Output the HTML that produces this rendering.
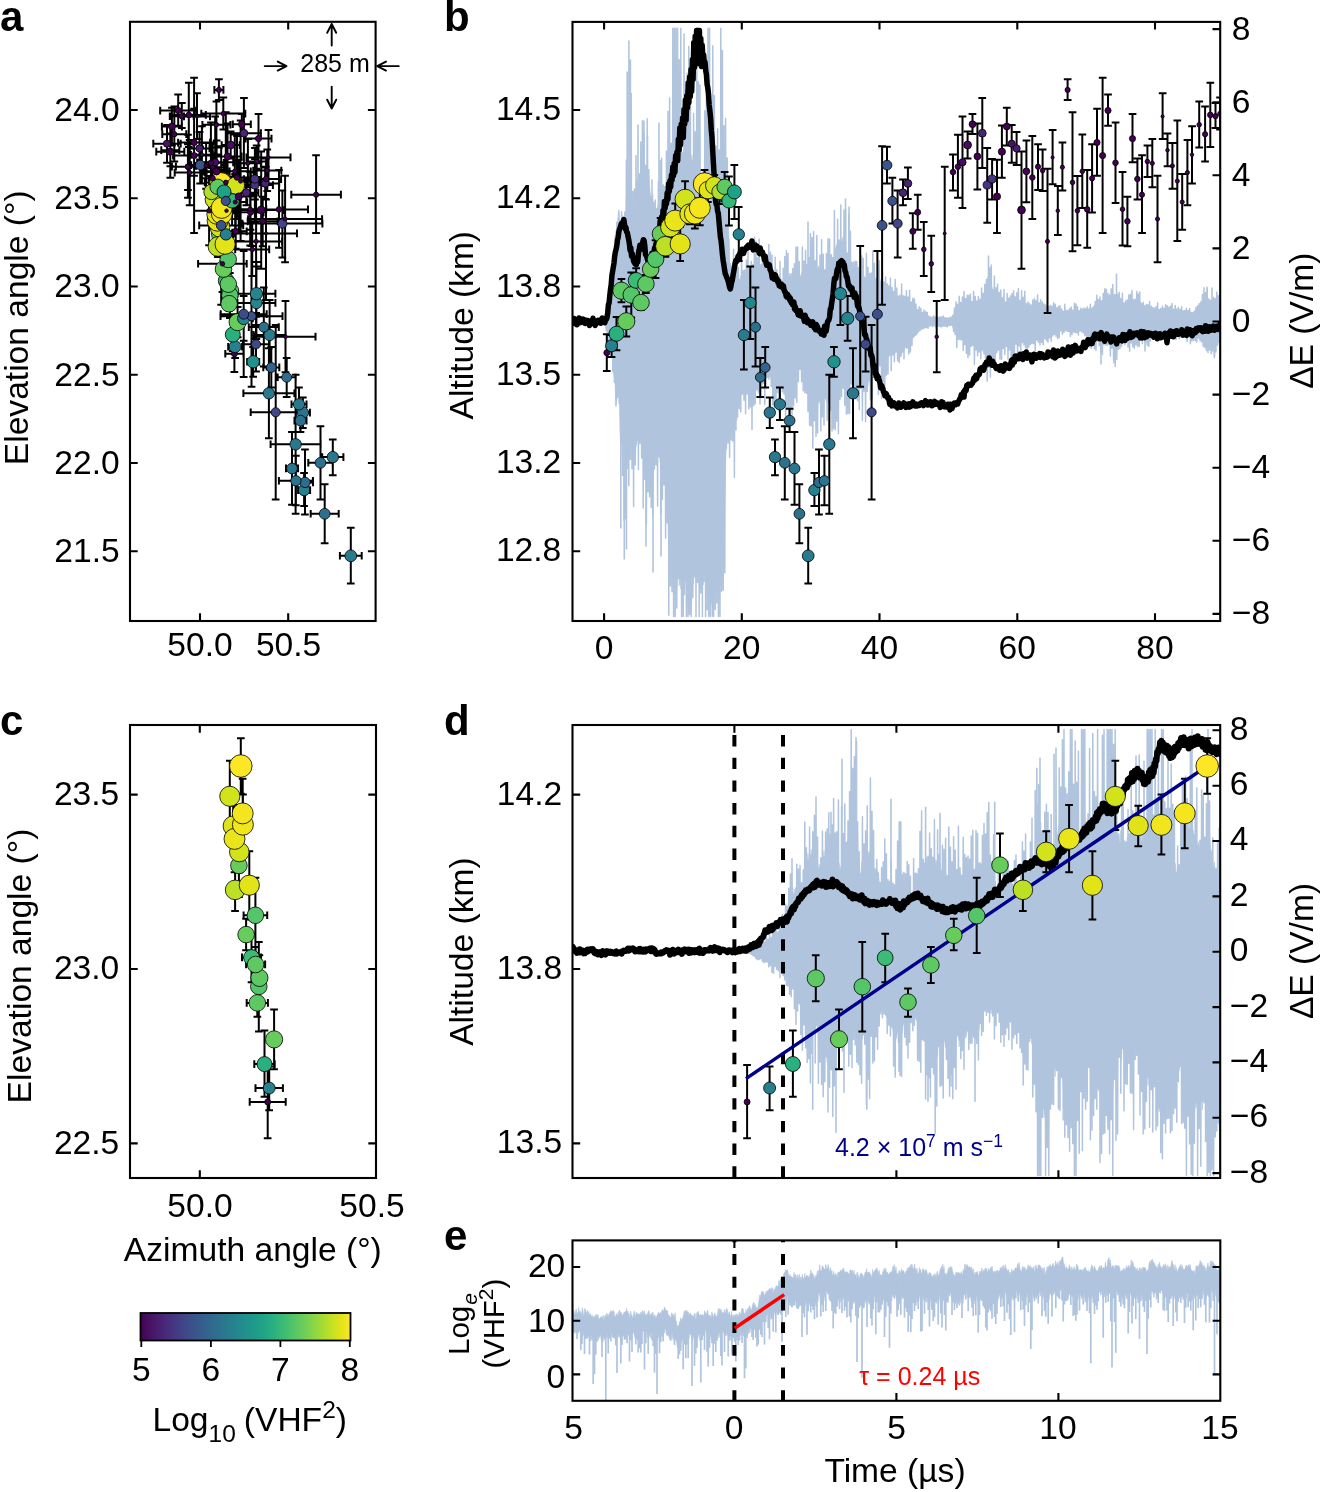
<!DOCTYPE html>
<html lang="en"><head><meta charset="utf-8"><title>Figure</title>
<style>
html,body{margin:0;padding:0;background:#fff}
svg{display:block}
svg text{font-family:"Liberation Sans", Arial, Helvetica, sans-serif}
circle{stroke:#000;stroke-width:0.8}
</style></head><body>
<svg width="1320" height="1492" viewBox="0 0 1320 1492">
<rect width="1320" height="1492" fill="#fff"/>
<g id="pa">
<clipPath id="ca"><rect x="130.0" y="21.8" width="245.60000000000002" height="599.2"/></clipPath>
<g clip-path="url(#ca)">
<path d="M225.3 353.7H243.5M225.3 349.9v7.7M243.5 349.9v7.7M234.4 335.1V372.1M230.5 335.1h7.7M230.5 372.1h7.7M228.2 346.7H242.1M228.2 342.9v7.7M242.1 342.9v7.7M235.1 335.9V357.9M231.3 335.9h7.7M231.3 357.9h7.7M227.6 334.6H237.9M227.6 330.7v7.7M237.9 330.7v7.7M232.8 317.7V351.1M228.9 317.7h7.7M228.9 351.1h7.7M227.1 291H233.2M227.1 287.2v7.7M233.2 287.2v7.7M230.2 279.5V302.9M226.3 279.5h7.7M226.3 302.9h7.7M234.6 322.1H240.6M234.6 318.3v7.7M240.6 318.3v7.7M237.6 307V337.2M233.8 307h7.7M233.8 337.2h7.7M226.8 295.3H232.9M226.8 291.5v7.7M232.9 291.5v7.7M229.9 272.9V318.1M226 272.9h7.7M226 318.1h7.7M221.4 280.7H231M221.4 276.9v7.7M231 276.9v7.7M226.2 268.7V293.2M222.3 268.7h7.7M222.3 293.2h7.7M223.8 303.7H234.5M223.8 299.8v7.7M234.5 299.8v7.7M229.1 296.4V310.6M225.3 296.4h7.7M225.3 310.6h7.7M223.5 284.2H233.1M223.5 280.4v7.7M233.1 280.4v7.7M228.3 275.3V293.5M224.4 275.3h7.7M224.4 293.5h7.7M220.4 269.1H226.5M220.4 265.3v7.7M226.5 265.3v7.7M223.5 261.1V277.1M219.6 261.1h7.7M219.6 277.1h7.7M222.2 259.4H234.1M222.2 255.5v7.7M234.1 255.5v7.7M228.2 240.4V278.4M224.3 240.4h7.7M224.3 278.4h7.7M216.8 234.2H222.9M216.8 230.3v7.7M222.9 230.3v7.7M219.8 218V250.1M216 218h7.7M216 250.1h7.7M214.9 246.5H220.9M214.9 242.7v7.7M220.9 242.7v7.7M217.9 235.9V257.1M214 235.9h7.7M214 257.1h7.7M217 227.4H223.1M217 223.5v7.7M223.1 223.5v7.7M220 216.9V237.6M216.2 216.9h7.7M216.2 237.6h7.7M214.6 220.7H220.6M214.6 216.9v7.7M220.6 216.9v7.7M217.6 203.6V237.6M213.7 203.6h7.7M213.7 237.6h7.7M222 244.2H228.1M222 240.3v7.7M228.1 240.3v7.7M225.1 227V261.5M221.2 227h7.7M221.2 261.5h7.7M212.2 199.2H218.3M212.2 195.4v7.7M218.3 195.4v7.7M215.2 181.2V216.2M211.4 181.2h7.7M211.4 216.2h7.7M213.9 214.2H220M213.9 210.4v7.7M220 210.4v7.7M216.9 204V224.5M213.1 204h7.7M213.1 224.5h7.7M218.8 213.6H224.9M218.8 209.7v7.7M224.9 209.7v7.7M221.8 198.3V228.6M218 198.3h7.7M218 228.6h7.7M218.7 207.9H224.8M218.7 204v7.7M224.8 204v7.7M221.7 190.3V225.4M217.9 190.3h7.7M217.9 225.4h7.7M217.7 183.9H223.8M217.7 180v7.7M223.8 180v7.7M220.8 169.8V197.9M216.9 169.8h7.7M216.9 197.9h7.7M223 190.1H235M223 186.2v7.7M235 186.2v7.7M229 178V202M225.2 178h7.7M225.2 202h7.7M229.8 185.5H241.8M229.8 181.7v7.7M241.8 181.7v7.7M235.8 175V196M232 175h7.7M232 196h7.7M205.5 191.9H217.5M205.5 188.1v7.7M217.5 188.1v7.7M211.5 180V204M207.7 180h7.7M207.7 204h7.7M211.6 186.8H223.6M211.6 183v7.7M223.6 183v7.7M217.6 172V201M213.8 172h7.7M213.8 201h7.7M226.1 200.9H238.1M226.1 197.1v7.7M238.1 197.1v7.7M232.1 176.5V225.4M228.2 176.5h7.7M228.2 225.4h7.7M218 191.9H230M218 188.1v7.7M230 188.1v7.7M224 164.9V219M220.2 164.9h7.7M220.2 219h7.7M219 234.4H233M219 230.6v7.7M233 230.6v7.7M226 207V261M222.2 207h7.7M222.2 261h7.7M253.6 335H285.6M253.6 331.1v7.7M285.6 331.1v7.7M269.6 300V369.5M265.8 300h7.7M265.8 369.5h7.7M237.4 302.9H275.4M237.4 299v7.7M275.4 299v7.7M256.4 266.6V339M252.5 266.6h7.7M252.5 339h7.7M248.8 327.1H278.8M248.8 323.2v7.7M278.8 323.2v7.7M263.8 287.5V366.5M259.9 287.5h7.7M259.9 366.5h7.7M277.7 377.3H295.7M277.7 373.4v7.7M295.7 373.4v7.7M286.7 358V397.1M282.8 358h7.7M282.8 397.1h7.7M263.3 367.5H279.3M263.3 363.6v7.7M279.3 363.6v7.7M271.3 347.1V387.6M267.4 347.1h7.7M267.4 387.6h7.7M295.9 412.6H309.9M295.9 408.8v7.7M309.9 408.8v7.7M302.9 397.4V428M299 397.4h7.7M299 428h7.7M322.2 457.1H343.4M322.2 453.2v7.7M343.4 453.2v7.7M332.8 439.6V475.2M328.9 439.6h7.7M328.9 475.2h7.7M291.5 404.3H306.5M291.5 400.4v7.7M306.5 400.4v7.7M299 387.6V420M295.1 387.6h7.7M295.1 420h7.7M308.3 462.8H332.7M308.3 458.9v7.7M332.7 458.9v7.7M320.5 426.2V499.6M316.6 426.2h7.7M316.6 499.6h7.7M294.5 420.6H306.5M294.5 416.8v7.7M306.5 416.8v7.7M300.5 408.7V431.9M296.6 408.7h7.7M296.6 431.9h7.7M286 468.5H298M286 464.6v7.7M298 464.6v7.7M292 432.1V504.8M288.1 432.1h7.7M288.1 504.8h7.7M310.7 513.8H338.7M310.7 509.9v7.7M338.7 509.9v7.7M324.7 484.2V543.2M320.8 484.2h7.7M320.8 543.2h7.7M339.9 555.8H361.7M339.9 551.9v7.7M361.7 551.9v7.7M350.8 527.7V583.6M346.9 527.7h7.7M346.9 583.6h7.7M298.1 490.1H310.1M298.1 486.2v7.7M310.1 486.2v7.7M304.1 473.1V506.1M300.2 473.1h7.7M300.2 506.1h7.7M297 482.4H313M297 478.5v7.7M313 478.5v7.7M305 449.4V514.6M301.1 449.4h7.7M301.1 514.6h7.7M278.9 480.8H312.9M278.9 476.9v7.7M312.9 476.9v7.7M295.9 455.8V505.3M292 455.8h7.7M292 505.3h7.7M270.6 444.3H320.6M270.6 440.4v7.7M320.6 440.4v7.7M295.6 374.7V513.8M291.8 374.7h7.7M291.8 513.8h7.7M247.2 361.8H259.2M247.2 357.9v7.7M259.2 357.9v7.7M253.2 346.9V376.8M249.3 346.9h7.7M249.3 376.8h7.7M237.4 293.7H275.4M237.4 289.8v7.7M275.4 289.8v7.7M256.4 262V325M252.5 262h7.7M252.5 325h7.7M234.7 318.4H252.7M234.7 314.5v7.7M252.7 314.5v7.7M243.7 296V340.7M239.8 296h7.7M239.8 340.7h7.7M243.4 393.3H294.4M243.4 389.4v7.7M294.4 389.4v7.7M268.9 348.2V438.3M265 348.2h7.7M265 438.3h7.7M220.5 316.2H282.5M220.5 312.3v7.7M282.5 312.3v7.7M251.5 246V386.8M247.7 246h7.7M247.7 386.8h7.7M243 344.3H269M243 340.4v7.7M269 340.4v7.7M256 316.7V371.6M252.2 316.7h7.7M252.2 371.6h7.7M250.7 412.3H300.7M250.7 408.4v7.7M300.7 408.4v7.7M275.7 325V499.6M271.8 325h7.7M271.8 499.6h7.7M220.7 314.2H266.7M220.7 310.3v7.7M266.7 310.3v7.7M243.7 251V377M239.8 251h7.7M239.8 377h7.7M199.2 225.4H243.2M199.2 221.6v7.7M243.2 221.6v7.7M221.2 146.3V304.7M217.3 146.3h7.7M217.3 304.7h7.7M191.2 165.1H209.2M191.2 161.2v7.7M209.2 161.2v7.7M200.2 146.8V183.4M196.3 146.8h7.7M196.3 183.4h7.7M215.8 200.9H235.8M215.8 197.1v7.7M235.8 197.1v7.7M225.8 177.7V223.6M222 177.7h7.7M222 223.6h7.7M242.4 223.6H322.4M242.4 219.8v7.7M322.4 219.8v7.7M282.4 190.6V257.6M278.5 190.6h7.7M278.5 257.6h7.7M234.3 192.7H258.3M234.3 188.8v7.7M258.3 188.8v7.7M246.3 179.5V205.3M242.5 179.5h7.7M242.5 205.3h7.7M251.2 183.4H279.2M251.2 179.6v7.7M279.2 179.6v7.7M265.2 167.4V198.9M261.3 167.4h7.7M261.3 198.9h7.7M224.7 231.3H246.7M224.7 227.5v7.7M246.7 227.5v7.7M235.7 213.3V248.8M231.8 213.3h7.7M231.8 248.8h7.7M237.5 212.3H263.5M237.5 208.5v7.7M263.5 208.5v7.7M250.5 194.7V229.8M246.7 194.7h7.7M246.7 229.8h7.7M235.2 249.4H269.2M235.2 245.6v7.7M269.2 245.6v7.7M252.2 222V276.1M248.3 222h7.7M248.3 276.1h7.7M198.1 263.8H246.7M198.1 259.9v7.7M246.7 259.9v7.7M222.4 235.7V291.9M218.6 235.7h7.7M218.6 291.9h7.7M255.5 336.7H315.5M255.5 332.8v7.7M315.5 332.8v7.7M285.5 300.9V372.3M281.6 300.9h7.7M281.6 372.3h7.7M235 233.4H297M235 229.6v7.7M297 229.6v7.7M266 166.7V300.1M262.1 166.7h7.7M262.1 300.1h7.7M206.6 172.1H226.6M206.6 168.2v7.7M226.6 168.2v7.7M216.6 154.6V190.6M212.8 154.6h7.7M212.8 190.6h7.7M171.9 166.7H203.9M171.9 162.8v7.7M203.9 162.8v7.7M187.9 134.7V197.8M184.1 134.7h7.7M184.1 197.8h7.7M197.2 162.3H233.2M197.2 158.5v7.7M233.2 158.5v7.7M215.2 116.4V207.9M211.3 116.4h7.7M211.3 207.9h7.7M221.7 145H239.7M221.7 141.2v7.7M239.7 141.2v7.7M230.7 131.4V158.4M226.8 131.4h7.7M226.8 158.4h7.7M232.8 124.2H250.8M232.8 120.4v7.7M250.8 120.4v7.7M241.8 114.1V134M238 114.1h7.7M238 134h7.7M213.5 156.4H241.5M213.5 152.6v7.7M241.5 152.6v7.7M227.5 123.6V189.6M223.7 123.6h7.7M223.7 189.6h7.7M226.9 133.2H260.9M226.9 129.3v7.7M260.9 129.3v7.7M243.9 97.9V168M240.1 97.9h7.7M240.1 168h7.7M236.9 185H272.9M236.9 181.2v7.7M272.9 181.2v7.7M254.9 148.1V222.8M251.1 148.1h7.7M251.1 222.8h7.7M243.9 179H265.9M243.9 175.2v7.7M265.9 175.2v7.7M254.9 158.9V199.6M251.1 158.9h7.7M251.1 199.6h7.7M221.8 196.5H255.8M221.8 192.7v7.7M255.8 192.7v7.7M238.8 159.7V233.1M235 159.7h7.7M235 233.1h7.7M156.3 151.7H184.3M156.3 147.8v7.7M184.3 147.8v7.7M170.3 125.5V177.7M166.5 125.5h7.7M166.5 177.7h7.7M161.9 126.5H181.9M161.9 122.7v7.7M181.9 122.7v7.7M171.9 107.7V145.5M168.1 107.7h7.7M168.1 145.5h7.7M153.3 143.7H180.7M153.3 139.8v7.7M180.7 139.8v7.7M167 124.9V162.8M163.2 124.9h7.7M163.2 162.8h7.7M189.5 148.4H209.5M189.5 144.6v7.7M209.5 144.6v7.7M199.5 131.9V164.9M195.7 131.9h7.7M195.7 164.9h7.7M239.2 210H283.2M239.2 206.2v7.7M283.2 206.2v7.7M261.2 151.5V268.7M257.3 151.5h7.7M257.3 268.7h7.7M203.6 171.3H229.6M203.6 167.5v7.7M229.6 167.5v7.7M216.6 140.4V202.2M212.8 140.4h7.7M212.8 202.2h7.7M220 177.5H254M220 173.7v7.7M254 173.7v7.7M237 136V219M233.2 136h7.7M233.2 219h7.7M175.9 166.7H199.9M175.9 162.8v7.7M199.9 162.8v7.7M187.9 144.3V189.9M184.1 144.3h7.7M184.1 189.9h7.7M253.3 170.5H281.3M253.3 166.7v7.7M281.3 166.7v7.7M267.3 149.4V191.1M263.4 149.4h7.7M263.4 191.1h7.7M230.1 241.4H282.1M230.1 237.6v7.7M282.1 237.6v7.7M256.1 168.7V313M252.3 168.7h7.7M252.3 313h7.7M246.5 157.4H290.5M246.5 153.6v7.7M290.5 153.6v7.7M268.5 130V184.2M264.6 130h7.7M264.6 184.2h7.7M212.5 210.7H240.5M212.5 206.8v7.7M240.5 206.8v7.7M226.5 186V235M222.7 186h7.7M222.7 235h7.7M200.7 167.2H224.7M200.7 163.3v7.7M224.7 163.3v7.7M212.7 142.5V190.6M208.8 142.5h7.7M208.8 190.6h7.7M214.4 89.9H223.4M214.4 86.1v7.7M223.4 86.1v7.7M218.9 79.3V100M215.1 79.3h7.7M215.1 100h7.7M204.8 182.4H246.8M204.8 178.6v7.7M246.8 178.6v7.7M225.8 112.3V251.2M222 112.3h7.7M222 251.2h7.7M194.1 210.7H224.1M194.1 206.8v7.7M224.1 206.8v7.7M209.1 176V245.2M205.2 176h7.7M205.2 245.2h7.7M218.8 171.3H250.8M218.8 167.5v7.7M250.8 167.5v7.7M234.8 134.5V208.1M231 134.5h7.7M231 208.1h7.7M250 209.4H308M250 205.6v7.7M308 205.6v7.7M279 170V247.8M275.1 170h7.7M275.1 247.8h7.7M200.7 178.3H224.7M200.7 174.5v7.7M224.7 174.5v7.7M212.7 144.3V212.5M208.8 144.3h7.7M208.8 212.5h7.7M178.1 142.5H210.1M178.1 138.7v7.7M210.1 138.7v7.7M194.1 108.7V175.7M190.2 108.7h7.7M190.2 175.7h7.7M173.1 155.6H215.1M173.1 151.8v7.7M215.1 151.8v7.7M194.1 77.8V232.9M190.2 77.8h7.7M190.2 232.9h7.7M160.2 110.5H196.2M160.2 106.7v7.7M196.2 106.7v7.7M178.2 94.5V125.7M174.3 94.5h7.7M174.3 125.7h7.7M197.9 162.8H223.9M197.9 159v7.7M223.9 159v7.7M210.9 122.4V203M207.1 122.4h7.7M207.1 203h7.7M234.2 209.2H266.2M234.2 205.3v7.7M266.2 205.3v7.7M250.2 172V245.5M246.3 172h7.7M246.3 245.5h7.7M247.7 221.3H277.7M247.7 217.5v7.7M277.7 217.5v7.7M262.7 196.8V246.3M258.8 196.8h7.7M258.8 246.3h7.7M245.5 138.6H271.5M245.5 134.8v7.7M271.5 134.8v7.7M258.5 113.9V162.3M254.7 113.9h7.7M254.7 162.3h7.7M251.1 179H281.1M251.1 175.2v7.7M281.1 175.2v7.7M266.1 158.4V199.6M262.2 158.4h7.7M262.2 199.6h7.7M291.3 194.7H340.9M291.3 190.8v7.7M340.9 190.8v7.7M316.1 155.3V233.1M312.2 155.3h7.7M312.2 233.1h7.7M246.7 161.5H266.7M246.7 157.7v7.7M266.7 157.7v7.7M256.7 145.5V177M252.8 145.5h7.7M252.8 177h7.7M234.9 163.3H260.9M234.9 159.5v7.7M260.9 159.5v7.7M247.9 139.1V187.3M244.1 139.1h7.7M244.1 187.3h7.7M248.1 219H322.1M248.1 215.2v7.7M322.1 215.2v7.7M285.1 175.7V262.2M281.2 175.7h7.7M281.2 262.2h7.7M184 116.4H210M184 112.6v7.7M210 112.6v7.7M197 93.3V139.1M193.2 93.3h7.7M193.2 139.1h7.7M161.3 150.2H179.3M161.3 146.3v7.7M179.3 146.3v7.7M170.3 133.4V166.2M166.5 133.4h7.7M166.5 166.2h7.7M196.1 165.9H216.1M196.1 162.1v7.7M216.1 162.1v7.7M206.1 143V188.8M202.2 143h7.7M202.2 188.8h7.7M221.6 181.1H259.6M221.6 177.2v7.7M259.6 177.2v7.7M240.6 120.6V240.9M236.8 120.6h7.7M236.8 240.9h7.7M223.2 202H247.2M223.2 198.2v7.7M247.2 198.2v7.7M235.2 173.9V229.8M231.3 173.9h7.7M231.3 229.8h7.7M174.7 172.6H204.7M174.7 168.8v7.7M204.7 168.8v7.7M189.7 139.9V205.3M185.8 139.9h7.7M185.8 205.3h7.7M190.9 154.8H212.9M190.9 151v7.7M212.9 151v7.7M201.9 126.2V183.4M198.1 126.2h7.7M198.1 183.4h7.7M202.4 124.7H230.4M202.4 120.9v7.7M230.4 120.9v7.7M216.4 101.5V147.6M212.6 101.5h7.7M212.6 147.6h7.7M162.3 134.2H186.3M162.3 130.3v7.7M186.3 130.3v7.7M174.3 106.4V161.5M170.5 106.4h7.7M170.5 161.5h7.7M171.8 114.9H205.8M171.8 111.1v7.7M205.8 111.1v7.7M188.8 82.7V147.1M185 82.7h7.7M185 147.1h7.7M169.8 116.2H193.8M169.8 112.4v7.7M193.8 112.4v7.7M181.8 103V128M178 103h7.7M178 128h7.7M201.3 113.6H245.3M201.3 109.8v7.7M245.3 109.8v7.7M223.3 97.4V129.6M219.5 97.4h7.7M219.5 129.6h7.7" stroke="#000" stroke-width="2.0" fill="none"/>
<circle cx="234.4" cy="353.7" r="3" fill="#440154"/>
<circle cx="235.1" cy="346.7" r="6" fill="#27808e"/>
<circle cx="232.8" cy="334.6" r="7.5" fill="#2ab07f"/>
<circle cx="230.2" cy="291" r="8.6" fill="#5ec962"/>
<circle cx="237.6" cy="322.1" r="8.6" fill="#67cc5c"/>
<circle cx="229.9" cy="295.3" r="8.3" fill="#54c568"/>
<circle cx="226.2" cy="280.7" r="7.9" fill="#3bbb75"/>
<circle cx="229.1" cy="303.7" r="8.3" fill="#5ec962"/>
<circle cx="228.3" cy="284.2" r="8.3" fill="#5ec962"/>
<circle cx="223.5" cy="269.1" r="8.3" fill="#67cc5c"/>
<circle cx="228.2" cy="259.4" r="8.3" fill="#54c568"/>
<circle cx="219.8" cy="234.2" r="8.3" fill="#67cc5c"/>
<circle cx="217.9" cy="246.5" r="9.8" fill="#bddf26"/>
<circle cx="220" cy="227.4" r="9.8" fill="#d2e21b"/>
<circle cx="217.6" cy="220.7" r="10.5" fill="#eae51a"/>
<circle cx="225.1" cy="244.2" r="10.1" fill="#e2e418"/>
<circle cx="215.2" cy="199.2" r="10.1" fill="#d2e21b"/>
<circle cx="216.9" cy="214.2" r="10.1" fill="#dfe318"/>
<circle cx="221.8" cy="213.6" r="10.5" fill="#f1e51d"/>
<circle cx="221.7" cy="207.9" r="10.5" fill="#f4e61e"/>
<circle cx="220.8" cy="183.9" r="11.3" fill="#fde725"/>
<circle cx="229" cy="190.1" r="8.8" fill="#dfe318"/>
<circle cx="235.8" cy="185.5" r="8.8" fill="#d2e21b"/>
<circle cx="211.5" cy="191.9" r="7.7" fill="#b2dd2d"/>
<circle cx="217.6" cy="186.8" r="7.7" fill="#5ec962"/>
<circle cx="232.1" cy="200.9" r="7.2" fill="#35b779"/>
<circle cx="224" cy="191.9" r="7" fill="#1fa188"/>
<circle cx="226" cy="234.4" r="5.7" fill="#27808e"/>
<circle cx="269.6" cy="335" r="5.7" fill="#287c8e"/>
<circle cx="256.4" cy="302.9" r="5.8" fill="#25848e"/>
<circle cx="263.8" cy="327.1" r="5" fill="#2d708e"/>
<circle cx="286.7" cy="377.3" r="4.9" fill="#2f6c8e"/>
<circle cx="271.3" cy="367.5" r="4.9" fill="#32648e"/>
<circle cx="302.9" cy="412.6" r="5.7" fill="#2b748e"/>
<circle cx="332.8" cy="457.1" r="5.7" fill="#2a788e"/>
<circle cx="299" cy="404.3" r="5.7" fill="#2a788e"/>
<circle cx="320.5" cy="462.8" r="5.4" fill="#2d708e"/>
<circle cx="300.5" cy="420.6" r="5.4" fill="#2d708e"/>
<circle cx="292" cy="468.5" r="5.4" fill="#2b748e"/>
<circle cx="324.7" cy="513.8" r="5.4" fill="#2d708e"/>
<circle cx="350.8" cy="555.8" r="5.9" fill="#287c8e"/>
<circle cx="304.1" cy="490.1" r="5.7" fill="#27808e"/>
<circle cx="305" cy="482.4" r="5.2" fill="#2f6c8e"/>
<circle cx="295.9" cy="480.8" r="5.2" fill="#2b748e"/>
<circle cx="295.6" cy="444.3" r="5.7" fill="#2a788e"/>
<circle cx="253.2" cy="361.8" r="6.2" fill="#21918c"/>
<circle cx="256.4" cy="293.7" r="6.2" fill="#25848e"/>
<circle cx="243.7" cy="318.4" r="6.2" fill="#25848e"/>
<circle cx="268.9" cy="393.3" r="5.7" fill="#2a788e"/>
<circle cx="251.5" cy="316.2" r="4.6" fill="#3b528b"/>
<circle cx="256" cy="344.3" r="4.6" fill="#3f4889"/>
<circle cx="275.7" cy="412.3" r="4.6" fill="#3f4889"/>
<circle cx="243.7" cy="314.2" r="5" fill="#3d4d8a"/>
<circle cx="221.2" cy="225.4" r="4.9" fill="#3b528b"/>
<circle cx="200.2" cy="165.1" r="4.9" fill="#39568c"/>
<circle cx="225.8" cy="200.9" r="4.6" fill="#3b528b"/>
<circle cx="282.4" cy="223.6" r="4.6" fill="#414487"/>
<circle cx="246.3" cy="192.7" r="3.9" fill="#482475"/>
<circle cx="265.2" cy="183.4" r="3.9" fill="#482475"/>
<circle cx="235.7" cy="231.3" r="3" fill="#440154"/>
<circle cx="250.5" cy="212.3" r="3" fill="#440154"/>
<circle cx="252.2" cy="249.4" r="2.3" fill="#440154"/>
<circle cx="222.4" cy="263.8" r="2.3" fill="#440154"/>
<circle cx="285.5" cy="336.7" r="1.8" fill="#440154"/>
<circle cx="266" cy="233.4" r="1.5" fill="#440154"/>
<circle cx="216.6" cy="172.1" r="2.8" fill="#440154"/>
<circle cx="187.9" cy="166.7" r="2.8" fill="#440154"/>
<circle cx="215.2" cy="162.3" r="3.6" fill="#470d60"/>
<circle cx="230.7" cy="145" r="3.9" fill="#470d60"/>
<circle cx="241.8" cy="124.2" r="3.4" fill="#440154"/>
<circle cx="227.5" cy="156.4" r="3.4" fill="#440154"/>
<circle cx="243.9" cy="133.2" r="3.9" fill="#482475"/>
<circle cx="254.9" cy="185" r="4.1" fill="#463480"/>
<circle cx="254.9" cy="179" r="4.1" fill="#463480"/>
<circle cx="238.8" cy="196.5" r="3.6" fill="#440154"/>
<circle cx="170.3" cy="151.7" r="3.6" fill="#440154"/>
<circle cx="171.9" cy="126.5" r="3.4" fill="#440154"/>
<circle cx="167" cy="143.7" r="3.6" fill="#471365"/>
<circle cx="199.5" cy="148.4" r="3.6" fill="#481f70"/>
<circle cx="261.2" cy="210" r="3.9" fill="#440154"/>
<circle cx="216.6" cy="171.3" r="3.4" fill="#440154"/>
<circle cx="237" cy="177.5" r="2.8" fill="#440154"/>
<circle cx="187.9" cy="166.7" r="2.6" fill="#440154"/>
<circle cx="267.3" cy="170.5" r="2.3" fill="#440154"/>
<circle cx="256.1" cy="241.4" r="2.1" fill="#440154"/>
<circle cx="268.5" cy="157.4" r="1.6" fill="#440154"/>
<circle cx="226.5" cy="210.7" r="1.8" fill="#440154"/>
<circle cx="212.7" cy="167.2" r="2.1" fill="#440154"/>
<circle cx="218.9" cy="89.9" r="2.6" fill="#440154"/>
<circle cx="225.8" cy="182.4" r="2.3" fill="#440154"/>
<circle cx="209.1" cy="210.7" r="2.3" fill="#440154"/>
<circle cx="234.8" cy="171.3" r="2.3" fill="#440154"/>
<circle cx="279" cy="209.4" r="2.8" fill="#440154"/>
<circle cx="212.7" cy="178.3" r="2.6" fill="#440154"/>
<circle cx="194.1" cy="142.5" r="3.1" fill="#440154"/>
<circle cx="194.1" cy="155.6" r="3.1" fill="#440154"/>
<circle cx="178.2" cy="110.5" r="3.1" fill="#440154"/>
<circle cx="210.9" cy="162.8" r="2.8" fill="#440154"/>
<circle cx="250.2" cy="209.2" r="2.3" fill="#440154"/>
<circle cx="262.7" cy="221.3" r="2.8" fill="#440154"/>
<circle cx="258.5" cy="138.6" r="3.1" fill="#440154"/>
<circle cx="266.1" cy="179" r="2.8" fill="#440154"/>
<circle cx="316.1" cy="194.7" r="2.6" fill="#440154"/>
<circle cx="256.7" cy="161.5" r="2.3" fill="#440154"/>
<circle cx="247.9" cy="163.3" r="2.1" fill="#440154"/>
<circle cx="285.1" cy="219" r="2.1" fill="#440154"/>
<circle cx="197" cy="116.4" r="1.6" fill="#440154"/>
<circle cx="170.3" cy="150.2" r="1.8" fill="#440154"/>
<circle cx="206.1" cy="165.9" r="2.1" fill="#440154"/>
<circle cx="240.6" cy="181.1" r="2.1" fill="#440154"/>
<circle cx="235.2" cy="202" r="2.1" fill="#440154"/>
<circle cx="189.7" cy="172.6" r="2.1" fill="#440154"/>
<circle cx="201.9" cy="154.8" r="1.8" fill="#440154"/>
<circle cx="216.4" cy="124.7" r="2.3" fill="#440154"/>
<circle cx="174.3" cy="134.2" r="2.6" fill="#440154"/>
<circle cx="188.8" cy="114.9" r="2.8" fill="#440154"/>
<circle cx="181.8" cy="116.2" r="2.6" fill="#440154"/>
<circle cx="223.3" cy="113.6" r="2.3" fill="#440154"/>
</g>
<rect x="130" y="21.8" width="245.6" height="599.2" fill="none" stroke="#000" stroke-width="2.1"/>
<path d="M200 621v-7.7M200 21.8v7.7M288.2 621v-7.7M288.2 21.8v7.7M130 110h7.7M375.6 110h-7.7M130 198.3h7.7M375.6 198.3h-7.7M130 286.5h7.7M375.6 286.5h-7.7M130 374.8h7.7M375.6 374.8h-7.7M130 463h7.7M375.6 463h-7.7M130 551.2h7.7M375.6 551.2h-7.7" stroke="#000" stroke-width="2.1" fill="none"/>
<text x="119.7" y="120.9" text-anchor="end" font-size="33.6" fill="#000">24.0</text>
<text x="119.7" y="209.2" text-anchor="end" font-size="33.6" fill="#000">23.5</text>
<text x="119.7" y="297.4" text-anchor="end" font-size="33.6" fill="#000">23.0</text>
<text x="119.7" y="385.7" text-anchor="end" font-size="33.6" fill="#000">22.5</text>
<text x="119.7" y="473.9" text-anchor="end" font-size="33.6" fill="#000">22.0</text>
<text x="119.7" y="562.1" text-anchor="end" font-size="33.6" fill="#000">21.5</text>
<text x="200" y="655.5" text-anchor="middle" font-size="33.6" fill="#000">50.0</text>
<text x="288.6" y="655.5" text-anchor="middle" font-size="33.6" fill="#000">50.5</text>
<text transform="translate(28 327.8) rotate(-90)" text-anchor="middle" font-size="33.6">Elevation angle (°)</text>
<text x="0" y="31" text-anchor="start" font-size="42" fill="#000" font-weight="bold">a</text>
<text x="335" y="72.2" text-anchor="middle" font-size="25" fill="#000">285 m</text>
<path d="M331.7 45.5V24M327.2 32.8l4.5-8.8 4.5 8.8M331.7 86.8V108.5M327.2 99.7l4.5 8.8 4.5-8.8M264.7 66.1H286.5M277.7 61.6l8.8 4.5-8.8 4.5M398.8 66.1H377.2M386 61.6l-8.8 4.5 8.8 4.5" fill="none" stroke="#000" stroke-width="1.9" stroke-linecap="round" stroke-linejoin="round"/>
</g>
<g id="pb">
<clipPath id="cb"><rect x="572.5" y="21.9" width="647.7" height="599.1"/></clipPath>
<g clip-path="url(#cb)">
<path d="M604 321.5L604.8 319.5L605.6 317.2L606.4 313.7L607.2 308.3L608 303.8L608.8 298.9L609.6 296.7L610.4 290.8L611.2 286.9L612 274.8L612.8 273.1L613.6 270.3L614.4 255L615.2 245.8L616 230.3L616.8 239.7L617.6 228L618.4 209.9L619.2 210.7L620 222.6L620.8 221.7L621.6 227.4L622.4 215.3L623.2 217.2L624 221.1L624.8 224.4L625.6 220.8L626.4 196L627.2 224.7L628 226.2L628.8 216.5L629.6 217.1L630.4 219.6L631.2 207.1L632 206.4L632.8 210.6L633.6 207.1L634.4 203.2L635.2 215L636 198L636.8 193.8L637.6 192.6L638.4 176L639.2 179.8L640 191.3L640.8 186.4L641.6 184.1L642.4 179.9L643.2 190.9L644 171.9L644.8 183L645.6 182.8L646.4 184.3L647.2 178.2L648 191L648.8 174.7L649.6 186.9L650.4 194.7L651.2 211.4L652 201.1L652.8 193.8L653.6 214.9L654.4 214.1L655.2 209.5L656 211.4L656.8 222.1L657.6 207.9L658.4 203.3L659.2 188.3L660 197.3L660.8 195.3L661.6 209.2L662.4 195L663.2 197.3L664 201L664.8 210.8L665.6 186.3L666.4 197L667.2 197.5L668 176.2L668.8 169.2L669.6 167.7L670.4 176.5L671.2 176.9L672 173.8L672.8 151.3L673.6 161.7L674.4 173.2L675.2 156.3L676 170.5L676.8 175L677.6 149.8L678.4 174.6L679.2 168.2L680 175.3L680.8 188L681.6 156.6L682.4 158.9L683.2 185.8L684 177.1L684.8 180.5L685.6 187.1L686.4 175.9L687.2 164.6L688 164.5L688.8 164.5L689.6 177.8L690.4 169.8L691.2 161.3L692 154.9L692.8 176.4L693.6 167.9L694.4 152.4L695.2 178.7L696 174.8L696.8 174L697.6 159.7L698.4 188.8L699.2 194.4L700 188.1L700.8 178.2L701.6 198.3L702.4 172.8L703.2 194.6L704 174.5L704.8 192.8L705.6 179.9L706.4 193.7L707.2 171.3L708 168L708.8 178.6L709.6 180.1L710.4 170.1L711.2 160.5L712 166.3L712.8 150.2L713.6 166.3L714.4 164.4L715.2 172.5L716 169.2L716.8 165.6L717.6 174.4L718.4 175.3L719.2 178.5L720 179.2L720.8 164.8L721.6 181.2L722.4 183L723.2 171.9L724 183.2L724.8 191.5L725.6 198.3L726.4 207.7L727.2 218.3L728 219.4L728.8 233.3L729.6 261.1L730.4 272.3L731.2 277.7L732 280.8L732.8 273.8L733.6 281.3L734.4 279.8L735.2 275.2L736 274.5L736.8 279.9L737.6 273.7L738.4 278.5L739.2 278.8L740 283.3L740.8 275.5L741.6 281.7L742.4 278.6L743.2 272.7L744 273.7L744.8 273.3L745.6 274.5L746.4 279.1L747.2 281.4L748 275.8L748.8 278.6L749.6 268.4L750.4 277L751.2 276.8L752 276.5L752.8 277.6L753.6 273.1L754.4 276.2L755.2 266.5L756 268.5L756.8 270.5L757.6 265.9L758.4 264.7L759.2 272.4L760 266.9L760.8 266L761.6 267.5L762.4 266.9L763.2 260.1L764 262.2L764.8 270.4L765.6 272.9L766.4 266.8L767.2 269.8L768 274.2L768.8 272.2L769.6 278.6L770.4 271.3L771.2 277.6L772 279.6L772.8 281.8L773.6 282.2L774.4 280.5L775.2 285.3L776 282.6L776.8 281.6L777.6 287.1L778.4 285L779.2 281.5L780 286.3L780.8 278.1L781.6 280.4L782.4 286.7L783.2 282.8L784 284L784.8 281.6L785.6 282.6L786.4 279.6L787.2 281.3L788 278.1L788.8 279.8L789.6 273.3L790.4 275.4L791.2 278.9L792 273.9L792.8 274.3L793.6 274.7L794.4 274.2L795.2 265.2L796 271.6L796.8 271.7L797.6 271.2L798.4 277.5L799.2 277.7L800 283.6L800.8 276.2L801.6 272.9L802.4 273L803.2 273.5L804 273.6L804.8 270.4L805.6 275.9L806.4 274.7L807.2 276.9L808 273.8L808.8 269.3L809.6 264.2L810.4 261.6L811.2 270L812 263.4L812.8 270.6L813.6 271.3L814.4 265.7L815.2 267.4L816 270.7L816.8 272.5L817.6 269.3L818.4 265.9L819.2 270.8L820 266.2L820.8 269.9L821.6 271.3L822.4 267.6L823.2 271.7L824 270.6L824.8 270.3L825.6 273.3L826.4 269.7L827.2 266.7L828 269.5L828.8 273.7L829.6 264.5L830.4 265.4L831.2 276L832 259.2L832.8 261.1L833.6 263.1L834.4 251.5L835.2 253.1L836 246.4L836.8 244.2L837.6 249.9L838.4 256.6L839.2 242.3L840 245.2L840.8 240.4L841.6 249.6L842.4 239.1L843.2 236.9L844 245.2L844.8 245L845.6 249.2L846.4 257.7L847.2 256.7L848 255.5L848.8 260.6L849.6 254.4L850.4 263L851.2 264L852 271.4L852.8 272.4L853.6 271.2L854.4 277L855.2 279.6L856 282.6L856.8 279.8L857.6 276.4L858.4 282.3L859.2 281.1L860 279.6L860.8 285.3L861.6 277.8L862.4 279.9L863.2 280.9L864 276.7L864.8 276.6L865.6 278.9L866.4 277.3L867.2 285.7L868 282.7L868.8 281.8L869.6 279L870.4 280.1L871.2 280.3L872 280.8L872.8 278.1L873.6 280.5L874.4 278.3L875.2 280.2L876 280.1L876.8 277.7L877.6 283L878.4 277.1L879.2 281.8L880 279.4L880.8 284.2L881.6 284.9L882.4 282.8L883.2 289.2L884 289.6L884.8 288.7L885.6 286.1L886.4 289.5L887.2 285.9L888 290L888.8 290.4L889.6 288.5L890.4 289L891.2 287.5L892 289.7L892.8 294.7L893.6 292L894.4 292.8L895.2 294.6L896 294.1L896.8 294.4L897.6 297.3L898.4 295.6L899.2 299.6L900 300.1L900.8 298.3L901.6 300.5L902.4 300L903.2 299.9L904 301.7L904.8 300L905.6 301.5L906.4 303.7L907.2 302.7L908 300.5L908.8 300.7L909.6 301.7L910.4 304.7L911.2 306.1L912 306.3L912.8 307.8L913.6 308L914.4 309L915.2 309.5L916 309.6L916.8 310.4L917.6 310.9L918.4 311.5L919.2 312.4L920 312.1L920.8 312.8L921.6 313.4L922.4 313.3L923.2 314.5L924 314.4L924.8 315.1L925.6 315.2L926.4 315.4L927.2 316.1L928 316.6L928.8 316.4L929.6 317.2L930.4 317.1L931.2 317.9L932 317.5L932.8 317.7L933.6 317.5L934.4 316.9L935.2 317.6L936 317.6L936.8 317.5L937.6 317.1L938.4 317.3L939.2 317.6L940 317.9L940.8 317.5L941.6 318L942.4 318L943.2 318.2L944 318L944.8 318L945.6 318.1L946.4 318.3L947.2 318.3L948 318.2L948.8 318.3L949.6 318.5L950.4 318.8L951.2 318.8L952 318.5L952.8 316.6L953.6 314.6L954.4 313.7L955.2 310.3L956 309.2L956.8 305.8L957.6 306L958.4 305.2L959.2 304.1L960 304.6L960.8 303.6L961.6 305.5L962.4 303.5L963.2 303.7L964 304.5L964.8 304.2L965.6 303.4L966.4 304.3L967.2 302.1L968 304.7L968.8 305.3L969.6 301.9L970.4 303.5L971.2 303.6L972 304.9L972.8 304.4L973.6 303.8L974.4 301.9L975.2 305.2L976 301.8L976.8 300.4L977.6 301.1L978.4 301.7L979.2 301.8L980 301.3L980.8 301.4L981.6 298.3L982.4 300.9L983.2 296L984 295.7L984.8 296.3L985.6 294.3L986.4 285.9L987.2 284.3L988 286.7L988.8 280.8L989.6 288.2L990.4 286.9L991.2 289.2L992 286.8L992.8 294.7L993.6 295.9L994.4 293.2L995.2 297.1L996 296.6L996.8 297.6L997.6 299.3L998.4 301.6L999.2 299.3L1000 302.6L1000.8 302.3L1001.6 301.7L1002.4 303.6L1003.2 303.9L1004 302.1L1004.8 302.6L1005.6 304.9L1006.4 303.5L1007.2 304.5L1008 302.9L1008.8 303.8L1009.6 302.1L1010.4 305.2L1011.2 300.7L1012 298.9L1012.8 302.4L1013.6 301.7L1014.4 301.2L1015.2 301.8L1016 302.7L1016.8 301.3L1017.6 300.8L1018.4 303.5L1019.2 302.1L1020 303.4L1020.8 300.2L1021.6 300.9L1022.4 304.7L1023.2 303.2L1024 303.7L1024.8 305.2L1025.6 303.8L1026.4 303.7L1027.2 304.6L1028 304.6L1028.8 302.9L1029.6 304.5L1030.4 305.9L1031.2 307.3L1032 307.1L1032.8 304.6L1033.6 304.7L1034.4 304.5L1035.2 305.6L1036 305.8L1036.8 306.3L1037.6 305L1038.4 306.9L1039.2 305.7L1040 305.5L1040.8 305.4L1041.6 306.6L1042.4 307.6L1043.2 308.5L1044 308.5L1044.8 307L1045.6 307.7L1046.4 307.7L1047.2 309.2L1048 310.5L1048.8 310.1L1049.6 309.3L1050.4 310.4L1051.2 310.6L1052 311L1052.8 311.2L1053.6 310L1054.4 309.9L1055.2 310.7L1056 310.8L1056.8 309.9L1057.6 311.5L1058.4 310.8L1059.2 311.8L1060 311.3L1060.8 312.3L1061.6 311.9L1062.4 310.7L1063.2 311.3L1064 311.1L1064.8 311.8L1065.6 310.9L1066.4 311.5L1067.2 310.9L1068 311.3L1068.8 311L1069.6 310.7L1070.4 310.9L1071.2 309.9L1072 311.3L1072.8 309.8L1073.6 310L1074.4 311.4L1075.2 311.3L1076 311L1076.8 310.6L1077.6 311.8L1078.4 310.1L1079.2 311.6L1080 310.3L1080.8 310.4L1081.6 310.5L1082.4 311.1L1083.2 311.2L1084 311L1084.8 309.8L1085.6 310L1086.4 309.8L1087.2 310.4L1088 308.5L1088.8 310L1089.6 307.7L1090.4 306.6L1091.2 309.6L1092 307.7L1092.8 307.8L1093.6 306.7L1094.4 305.3L1095.2 305.3L1096 304.7L1096.8 304L1097.6 301.5L1098.4 301.7L1099.2 304.4L1100 301.3L1100.8 302.2L1101.6 302.7L1102.4 301.3L1103.2 299.3L1104 300L1104.8 300.2L1105.6 300.8L1106.4 300.4L1107.2 298.5L1108 301.8L1108.8 299L1109.6 296.8L1110.4 299.5L1111.2 298.5L1112 295.7L1112.8 294.8L1113.6 295.7L1114.4 297.9L1115.2 294.7L1116 295.3L1116.8 299L1117.6 297.4L1118.4 296.6L1119.2 297.4L1120 301.6L1120.8 304.8L1121.6 302.1L1122.4 303L1123.2 305.3L1124 305.8L1124.8 304.4L1125.6 304.2L1126.4 305.2L1127.2 305.3L1128 305.7L1128.8 306L1129.6 306.2L1130.4 304.9L1131.2 301.1L1132 304.2L1132.8 301.3L1133.6 300L1134.4 301.8L1135.2 301.5L1136 302.4L1136.8 300.3L1137.6 300.3L1138.4 301.4L1139.2 303L1140 301L1140.8 302.6L1141.6 304.8L1142.4 305.5L1143.2 306.8L1144 305.2L1144.8 306.8L1145.6 306.6L1146.4 308.3L1147.2 307.1L1148 309.4L1148.8 308.3L1149.6 309.3L1150.4 309L1151.2 308.1L1152 309.7L1152.8 309.6L1153.6 310.6L1154.4 309.7L1155.2 310.9L1156 310.4L1156.8 309.3L1157.6 309.7L1158.4 309.1L1159.2 309.1L1160 311.6L1160.8 309.7L1161.6 309.3L1162.4 309L1163.2 309.4L1164 310.1L1164.8 309.4L1165.6 307.3L1166.4 308.2L1167.2 309.8L1168 310.3L1168.8 309.2L1169.6 310.6L1170.4 308.8L1171.2 309.8L1172 309.4L1172.8 311L1173.6 310.5L1174.4 311.3L1175.2 310.4L1176 311.4L1176.8 312.7L1177.6 311.2L1178.4 311.1L1179.2 311.7L1180 310L1180.8 311.2L1181.6 310.6L1182.4 312.1L1183.2 310.6L1184 312.6L1184.8 311L1185.6 312.3L1186.4 311.8L1187.2 311.7L1188 312.2L1188.8 312.2L1189.6 312.5L1190.4 311.6L1191.2 313.2L1192 312.8L1192.8 313.1L1193.6 313L1194.4 310.9L1195.2 310.9L1196 309.4L1196.8 307.6L1197.6 306.8L1198.4 306.5L1199.2 306.4L1200 304.3L1200.8 304.5L1201.6 304.2L1202.4 299.7L1203.2 299.9L1204 300.4L1204.8 301.6L1205.6 298.6L1206.4 300.4L1207.2 302.5L1208 299.1L1208.8 298.4L1209.6 299.7L1210.4 300L1211.2 300.6L1212 301.2L1212.8 299.6L1213.6 300.7L1214.4 299L1215.2 301.3L1216 302L1216.8 300.8L1217.6 302.8L1218.4 302L1219.2 302.6L1220 303.4L1220.8 304.3L1220.8 339L1220 338.1L1219.2 338.8L1218.4 342.7L1217.6 341.3L1216.8 341.1L1216 343.2L1215.2 341.5L1214.4 343.4L1213.6 343.7L1212.8 343.4L1212 345.7L1211.2 344.5L1210.4 345L1209.6 344.8L1208.8 342.9L1208 345.8L1207.2 340.6L1206.4 339.6L1205.6 339.7L1204.8 343.3L1204 339.6L1203.2 339.4L1202.4 340.4L1201.6 341.7L1200.8 340L1200 337.4L1199.2 337.5L1198.4 338.5L1197.6 337.6L1196.8 336.6L1196 334.8L1195.2 335.6L1194.4 335L1193.6 336.8L1192.8 335.8L1192 335.5L1191.2 336.2L1190.4 334.7L1189.6 334.6L1188.8 333.3L1188 335.2L1187.2 332.5L1186.4 332.5L1185.6 333.1L1184.8 332.3L1184 331.6L1183.2 332.5L1182.4 333.3L1181.6 331.5L1180.8 333.6L1180 333.1L1179.2 332.9L1178.4 331.3L1177.6 332.1L1176.8 332.8L1176 332.2L1175.2 332.7L1174.4 334.1L1173.6 332.3L1172.8 333L1172 333.6L1171.2 331.9L1170.4 331.3L1169.6 330.5L1168.8 330.8L1168 331.9L1167.2 331.2L1166.4 331.9L1165.6 332.4L1164.8 332.2L1164 332L1163.2 332.7L1162.4 332L1161.6 330.9L1160.8 332.2L1160 332.6L1159.2 331.6L1158.4 332.8L1157.6 333.2L1156.8 333.4L1156 334.8L1155.2 333.5L1154.4 334.1L1153.6 332.7L1152.8 334.2L1152 333.5L1151.2 334.5L1150.4 337.1L1149.6 336.8L1148.8 337L1148 336.8L1147.2 337.2L1146.4 336.7L1145.6 336.2L1144.8 338.8L1144 336.6L1143.2 338.1L1142.4 337L1141.6 335.6L1140.8 337.5L1140 336.9L1139.2 337.7L1138.4 335.9L1137.6 336.5L1136.8 336.7L1136 338.2L1135.2 336.5L1134.4 337.7L1133.6 338.3L1132.8 340.5L1132 340.7L1131.2 339.3L1130.4 341.3L1129.6 338.5L1128.8 341.2L1128 340.4L1127.2 340.3L1126.4 340.4L1125.6 337.4L1124.8 339.9L1124 337.3L1123.2 338.4L1122.4 338.7L1121.6 336.7L1120.8 338.6L1120 341L1119.2 344.3L1118.4 347.3L1117.6 347.6L1116.8 346.8L1116 347.8L1115.2 348.2L1114.4 346L1113.6 343.9L1112.8 342.8L1112 344.9L1111.2 341.4L1110.4 342.4L1109.6 343.4L1108.8 343.5L1108 339.7L1107.2 342.2L1106.4 339.3L1105.6 342.2L1104.8 339.7L1104 340.5L1103.2 339.4L1102.4 343.2L1101.6 343L1100.8 340.4L1100 343.9L1099.2 342L1098.4 341.5L1097.6 339.2L1096.8 340.3L1096 341.3L1095.2 339.2L1094.4 337.8L1093.6 337.1L1092.8 337.9L1092 339.3L1091.2 336.5L1090.4 338.4L1089.6 337.1L1088.8 336.3L1088 334.9L1087.2 335.6L1086.4 332.9L1085.6 334.3L1084.8 333.7L1084 331.1L1083.2 332L1082.4 331.6L1081.6 330.8L1080.8 330.7L1080 329.9L1079.2 330.2L1078.4 331.6L1077.6 330.9L1076.8 331.2L1076 330.9L1075.2 331.8L1074.4 330.5L1073.6 332.4L1072.8 330.7L1072 331.1L1071.2 331.4L1070.4 330.8L1069.6 330L1068.8 329.7L1068 329.8L1067.2 330.1L1066.4 329.8L1065.6 329.8L1064.8 330.3L1064 330.1L1063.2 330.6L1062.4 330.5L1061.6 331.2L1060.8 330.4L1060 330.7L1059.2 331.8L1058.4 331.5L1057.6 331.4L1056.8 331.7L1056 333.3L1055.2 333.2L1054.4 333.6L1053.6 334.3L1052.8 333.5L1052 334.4L1051.2 335.1L1050.4 333L1049.6 335.5L1048.8 334.8L1048 336.4L1047.2 337.9L1046.4 338.9L1045.6 336.5L1044.8 336.4L1044 335.8L1043.2 338.3L1042.4 340.5L1041.6 340.7L1040.8 339.5L1040 339.2L1039.2 338.8L1038.4 341.6L1037.6 339.2L1036.8 341L1036 337.7L1035.2 340.5L1034.4 342.4L1033.6 339L1032.8 341.7L1032 341.7L1031.2 339.2L1030.4 340.5L1029.6 339.5L1028.8 343.7L1028 341.3L1027.2 341.7L1026.4 340.8L1025.6 344L1024.8 343.9L1024 341.4L1023.2 341.7L1022.4 342.6L1021.6 341.7L1020.8 342L1020 344.1L1019.2 343.1L1018.4 342.2L1017.6 344L1016.8 344.6L1016 342L1015.2 342.3L1014.4 344.5L1013.6 342.9L1012.8 344.8L1012 343.8L1011.2 345.4L1010.4 344.4L1009.6 342.9L1008.8 346.8L1008 344.6L1007.2 346.9L1006.4 344.8L1005.6 343.8L1004.8 348L1004 348L1003.2 347.6L1002.4 348.3L1001.6 347L1000.8 347.5L1000 348.6L999.2 347.4L998.4 349.1L997.6 349.6L996.8 347.5L996 347.9L995.2 350.2L994.4 348.3L993.6 349.5L992.8 356.4L992 358.3L991.2 355.1L990.4 355.2L989.6 356.5L988.8 361.5L988 357.4L987.2 360.2L986.4 356.1L985.6 353.7L984.8 354.1L984 350.6L983.2 348.3L982.4 351.4L981.6 348.1L980.8 350.4L980 350.2L979.2 350.7L978.4 348.8L977.6 349L976.8 346.6L976 346.8L975.2 345.9L974.4 345.7L973.6 345.7L972.8 344.5L972 345.4L971.2 343.2L970.4 346.3L969.6 345.2L968.8 343.2L968 341.2L967.2 342.9L966.4 342.4L965.6 340.6L964.8 339.7L964 338.8L963.2 338.9L962.4 339.6L961.6 337.5L960.8 336.8L960 338.5L959.2 338.2L958.4 337L957.6 336.1L956.8 335.9L956 335.4L955.2 334L954.4 330.9L953.6 329.4L952.8 327.2L952 324.5L951.2 324.9L950.4 325.1L949.6 325.1L948.8 325L948 325.4L947.2 325.1L946.4 325L945.6 325.4L944.8 325.4L944 325.8L943.2 325.7L942.4 325.8L941.6 325.8L940.8 326.1L940 325.6L939.2 325.9L938.4 325.6L937.6 325.4L936.8 325.2L936 325.3L935.2 325.3L934.4 325L933.6 324.8L932.8 325.1L932 325.2L931.2 324.5L930.4 325L929.6 324.9L928.8 325.4L928 325.9L927.2 326.6L926.4 326.2L925.6 327.6L924.8 327L924 327.3L923.2 327.4L922.4 329.3L921.6 329L920.8 328.8L920 330.1L919.2 330.1L918.4 331L917.6 331.4L916.8 332.9L916 334.8L915.2 334.8L914.4 336.6L913.6 335.9L912.8 336.3L912 339.2L911.2 339.9L910.4 341.4L909.6 339L908.8 342.3L908 343.8L907.2 343.4L906.4 348.4L905.6 347.5L904.8 348.4L904 350.7L903.2 350.1L902.4 353.1L901.6 353.7L900.8 356.1L900 352.4L899.2 353.9L898.4 353.9L897.6 349.9L896.8 350.7L896 351.3L895.2 353.1L894.4 350.6L893.6 348.5L892.8 350.7L892 350.3L891.2 354.9L890.4 350.3L889.6 350.7L888.8 357.1L888 356.9L887.2 360.6L886.4 362.8L885.6 362.8L884.8 364.2L884 365.7L883.2 362.1L882.4 362L881.6 369.1L880.8 364.9L880 363.6L879.2 363.2L878.4 363.6L877.6 363.5L876.8 368.1L876 364.3L875.2 368.5L874.4 366.5L873.6 372.9L872.8 375.9L872 376.3L871.2 373.2L870.4 376.1L869.6 376.8L868.8 377.9L868 386.2L867.2 389.1L866.4 388.4L865.6 378.8L864.8 384.5L864 392.1L863.2 379.3L862.4 382.1L861.6 378.2L860.8 376.8L860 384.6L859.2 384.7L858.4 379.3L857.6 374.6L856.8 376.2L856 379.9L855.2 368.6L854.4 372.4L853.6 372.7L852.8 378.7L852 374.3L851.2 371.9L850.4 376.3L849.6 380.4L848.8 376.6L848 381L847.2 375.4L846.4 387.9L845.6 379.1L844.8 379.4L844 387.2L843.2 386.6L842.4 387.2L841.6 387.2L840.8 388.3L840 391.3L839.2 387.8L838.4 388.6L837.6 393.2L836.8 399.6L836 387L835.2 393.5L834.4 383L833.6 380.9L832.8 398L832 399.3L831.2 397.8L830.4 404.3L829.6 400.9L828.8 392L828 390.5L827.2 391.4L826.4 402.1L825.6 397.4L824.8 398.9L824 397.2L823.2 398.6L822.4 399.6L821.6 401.4L820.8 390.2L820 403.3L819.2 400.1L818.4 400.6L817.6 408.6L816.8 392.8L816 395.3L815.2 408.1L814.4 398.1L813.6 403.3L812.8 395.7L812 389.4L811.2 397.2L810.4 394L809.6 390.6L808.8 384.4L808 384.5L807.2 376.7L806.4 373.4L805.6 375.6L804.8 368.4L804 366.8L803.2 365.8L802.4 365.9L801.6 362.6L800.8 362.9L800 367.5L799.2 366L798.4 366.2L797.6 371L796.8 376.1L796 375.3L795.2 379.3L794.4 384.3L793.6 382.6L792.8 381.5L792 387.2L791.2 390.1L790.4 386.6L789.6 384.6L788.8 386.7L788 382L787.2 386.7L786.4 381.9L785.6 385.1L784.8 387.4L784 385.2L783.2 383.5L782.4 385.1L781.6 376.5L780.8 379.1L780 383.8L779.2 384.5L778.4 388.8L777.6 379.4L776.8 380.9L776 377L775.2 383.2L774.4 377.6L773.6 381L772.8 374.8L772 383.5L771.2 373.1L770.4 377.3L769.6 377.3L768.8 380L768 377.1L767.2 377.6L766.4 375.2L765.6 376.6L764.8 375.8L764 376L763.2 378L762.4 385.3L761.6 375.4L760.8 374.1L760 381L759.2 383.1L758.4 389.4L757.6 386.4L756.8 384.2L756 390.2L755.2 387.6L754.4 391.6L753.6 394.2L752.8 394.9L752 382.2L751.2 394.2L750.4 393.2L749.6 395.1L748.8 388.6L748 380.6L747.2 378.4L746.4 389.4L745.6 383.6L744.8 388.3L744 380.7L743.2 383.7L742.4 384.4L741.6 379.1L740.8 385.1L740 378.4L739.2 384.1L738.4 386.3L737.6 404.8L736.8 420.3L736 418.4L735.2 419.7L734.4 421L733.6 424.9L732.8 425.3L732 408.1L731.2 411.9L730.4 426.7L729.6 436.1L728.8 434.1L728 436L727.2 437.1L726.4 442L725.6 464L724.8 505.2L724 532.7L723.2 527.4L722.4 543.4L721.6 538L720.8 571.2L720 561.2L719.2 556.5L718.4 561.6L717.6 559.7L716.8 558.5L716 580.3L715.2 592.7L714.4 599.7L713.6 596.8L712.8 616.5L712 616.5L711.2 576.2L710.4 586.6L709.6 598.4L708.8 599.6L708 599.5L707.2 580L706.4 587.2L705.6 565.1L704.8 574.6L704 561L703.2 585L702.4 535.9L701.6 536.5L700.8 537.3L700 567.1L699.2 528.6L698.4 564.2L697.6 557.3L696.8 541.6L696 582.8L695.2 572.7L694.4 548.9L693.6 584.3L692.8 582L692 597.6L691.2 608L690.4 610.1L689.6 592.3L688.8 613.1L688 600.6L687.2 594.2L686.4 603.6L685.6 559.1L684.8 595L684 595L683.2 585L682.4 559L681.6 543.6L680.8 589L680 576.9L679.2 585.8L678.4 548.5L677.6 577.7L676.8 589.8L676 575.6L675.2 594.2L674.4 584.2L673.6 557.4L672.8 577.8L672 571.9L671.2 556.3L670.4 578.7L669.6 531.7L668.8 550.3L668 517.9L667.2 480L666.4 474.1L665.6 468.2L664.8 475.7L664 460.4L663.2 453L662.4 468.4L661.6 452.5L660.8 460.1L660 461.7L659.2 444.7L658.4 440.5L657.6 443.9L656.8 454.8L656 459.6L655.2 459.2L654.4 453.6L653.6 464.1L652.8 484.8L652 488.4L651.2 494.3L650.4 482.8L649.6 473L648.8 477.8L648 492.7L647.2 483.9L646.4 462.4L645.6 457.5L644.8 477.6L644 478.6L643.2 461.6L642.4 435.5L641.6 437.4L640.8 439.3L640 428.7L639.2 425.6L638.4 427.2L637.6 421.9L636.8 443.9L636 446.7L635.2 453.5L634.4 452.3L633.6 471.2L632.8 465.1L632 455L631.2 442.6L630.4 453.8L629.6 452.2L628.8 456.3L628 449.5L627.2 431.2L626.4 432.6L625.6 448.3L624.8 458.2L624 466L623.2 454.6L622.4 457L621.6 433.5L620.8 444.6L620 432.1L619.2 395.6L618.4 391.9L617.6 395.9L616.8 400L616 404.2L615.2 384.6L614.4 377.8L613.6 372.8L612.8 362.1L612 355.1L611.2 355.9L610.4 346.3L609.6 343.4L608.8 341.8L608 337.9L607.2 333.1L606.4 330.5L605.6 326.7L604.8 324L604 321.5Z" fill="#b0c4de" stroke="#b0c4de" stroke-width="0.6" stroke-linejoin="round"/>
<path d="M604 321.5L604.8 324L605.6 317.4L606.4 330.6L607.2 309L608 341.7L608.8 296.8L609.6 346.3L610.4 285L611.2 353.6L612 276.6L612.8 371.7L613.6 261.3L614.4 382.2L615.2 236.2L616 406.1L616.8 222.2L617.6 397L618.4 217.8L619.2 403.6L620 225L620.8 440.5L621.6 211.8L622.4 475.5L623.2 221.5L624 520.4L624.8 212.1L625.6 518.8L626.4 160L627.2 468.4L628 167.6L628.8 485.7L629.6 191.1L630.4 459.5L631.2 93.5L632 468.7L632.8 191.5L633.6 506.5L634.4 189.1L635.2 465L636 155.6L636.8 440.8L637.6 181L638.4 469.5L639.2 173.7L640 443.4L640.8 142L641.6 457.9L642.4 120.7L643.2 508L644 121L644.8 479.4L645.6 165.2L646.4 523.9L647.2 118.8L648 491.4L648.8 169.5L649.6 496.8L650.4 196.3L651.2 507.5L652 179.9L652.8 516.3L653.6 202.4L654.4 469.3L655.2 200.1L656 465.1L656.8 208.6L657.6 506L658.4 181.6L659.2 457.1L660 160.5L660.8 513.1L661.6 158.3L662.4 499.2L663.2 185L664 485.1L664.8 186.4L665.6 538L666.4 151L667.2 522.8L668 111.2L668.8 615.2L669.6 97.9L670.4 586L671.2 143.3L672 591.8L672.8 28.3L673.6 616.5L674.4 28.3L675.2 616.5L676 28.3L676.8 608L677.6 28.3L678.4 578.4L679.2 59.6L680 576.5L680.8 28.3L681.6 616.5L682.4 152.7L683.2 616.5L684 34L684.8 581.3L685.6 91L686.4 616.5L687.2 73.3L688 616.5L688.8 46.2L689.6 614.4L690.4 67.3L691.2 616.5L692 160.7L692.8 597.5L693.6 113.5L694.4 576.8L695.2 131.7L696 616.5L696.8 28.3L697.6 582.6L698.4 81.8L699.2 616.5L700 84.9L700.8 593.1L701.6 189.1L702.4 616.5L703.2 169.6L704 581.5L704.8 110.8L705.6 616.5L706.4 68.6L707.2 609.8L708 28.3L708.8 616.5L709.6 28.3L710.4 616.5L711.2 153.2L712 603.2L712.8 45.8L713.6 616.5L714.4 95.4L715.2 609.5L716 146.1L716.8 602.9L717.6 128.8L718.4 616.5L719.2 150.1L720 616.5L720.8 28.3L721.6 591.3L722.4 50.6L723.2 590.3L724 125.7L724.8 572.7L725.6 118.5L726.4 448.7L727.2 158L728 442.9L728.8 239L729.6 457.6L730.4 263.8L731.2 440.1L732 266.1L732.8 441.1L733.6 249.3L734.4 477.4L735.2 268L736 430L736.8 259.5L737.6 417.1L738.4 267.7L739.2 408.7L740 279.8L740.8 412L741.6 257L742.4 394.2L743.2 270.5L744 400.2L744.8 269.9L745.6 413.7L746.4 260L747.2 394.1L748 249.8L748.8 409L749.6 270L750.4 406.9L751.2 261.5L752 429.6L752.8 264.4L753.6 405.8L754.4 237.2L755.2 404L756 241.3L756.8 390L757.6 257.7L758.4 392.2L759.2 239L760 403.9L760.8 264.8L761.6 380.9L762.4 251.4L763.2 383.6L764 251.1L764.8 404.5L765.6 259.7L766.4 378.1L767.2 261.3L768 377.1L768.8 244.4L769.6 375.2L770.4 252.2L771.2 386.5L772 255.2L772.8 405.1L773.6 278.5L774.4 408.2L775.2 257.2L776 400L776.8 269.8L777.6 392.8L778.4 280.3L779.2 411.6L780 261.5L780.8 386.9L781.6 281.1L782.4 391.7L783.2 268.2L784 394L784.8 256.5L785.6 415.9L786.4 250.7L787.2 408L788 253.2L788.8 427.6L789.6 276.4L790.4 407.5L791.2 273.8L792 414.7L792.8 268.6L793.6 405.7L794.4 263.8L795.2 397.9L796 246.9L796.8 402.3L797.6 247.1L798.4 381.7L799.2 261.5L800 369.6L800.8 276.5L801.6 381.8L802.4 246.9L803.2 390.8L804 260.9L804.8 392.5L805.6 250.5L806.4 393.3L807.2 264.6L808 411.4L808.8 257.6L809.6 425.2L810.4 233.7L811.2 426L812 237.4L812.8 448L813.6 231.6L814.4 420.7L815.2 260.6L816 436.5L816.8 235.6L817.6 432.9L818.4 269L819.2 400.9L820 254.9L820.8 430.8L821.6 239.5L822.4 417.1L823.2 254.3L824 425L824.8 269.8L825.6 397.9L826.4 253.4L827.2 420.5L828 238.7L828.8 403.3L829.6 238.9L830.4 410.3L831.2 254.7L832 431.1L832.8 257.6L833.6 428.8L834.4 210.6L835.2 429.8L836 249.5L836.8 421.3L837.6 219.2L838.4 433.7L839.2 239.9L840 399.2L840.8 204.9L841.6 396.5L842.4 241.7L843.2 388.2L844 210L844.8 405.2L845.6 209L846.4 413.9L847.2 253L848 413.8L848.8 214.6L849.6 413.3L850.4 231.2L851.2 383.9L852 262.5L852.8 406.4L853.6 261.9L854.4 392.4L855.2 261.3L856 398.9L856.8 261.4L857.6 400.7L858.4 267.6L859.2 409.6L860 271.9L860.8 388.6L861.6 255.8L862.4 420.2L863.2 258.3L864 390.9L864.8 278.6L865.6 421.5L866.4 253.2L867.2 391.4L868 267.2L868.8 381.1L869.6 273.4L870.4 399.7L871.2 273L872 399.1L872.8 251.1L873.6 371.7L874.4 263.3L875.2 377L876 278.7L876.8 376.5L877.6 267.1L878.4 394.4L879.2 260.8L880 365.4L880.8 281.8L881.6 398.2L882.4 272.5L883.2 381.8L884 281.7L884.8 385.3L885.6 276.9L886.4 375.2L887.2 283.8L888 374.1L888.8 285.7L889.6 355.2L890.4 278L891.2 370.7L892 287.4L892.8 354.9L893.6 291.5L894.4 361.8L895.2 279.6L896 351.9L896.8 288.1L897.6 360.7L898.4 296.6L899.2 362.6L900 295.3L900.8 356.6L901.6 284.1L902.4 351.3L903.2 295.7L904 358.8L904.8 296.3L905.6 346.5L906.4 290.8L907.2 348.1L908 297L908.8 354.3L909.6 290.2L910.4 351.9L911.2 301.9L912 345.6L912.8 298.2L913.6 337.3L914.4 299.1L915.2 335.6L916 304L916.8 334.4L917.6 309.7L918.4 332L919.2 306.8L920 330.7L920.8 308.3L921.6 329L922.4 312.5L923.2 328.6L924 310L924.8 327.9L925.6 311.5L926.4 327.4L927.2 312.5L928 328.3L928.8 316L929.6 326.1L930.4 317L931.2 325.6L932 317.2L932.8 326.6L933.6 315.7L934.4 325.7L935.2 317.2L936 327.6L936.8 317.3L937.6 326.2L938.4 317.5L939.2 326.5L940 316.7L940.8 327.1L941.6 317.1L942.4 326.2L943.2 316.1L944 326.2L944.8 317.7L945.6 326.3L946.4 317.9L947.2 326.9L948 318.2L948.8 325.6L949.6 317.6L950.4 325.2L951.2 316.9L952 325.3L952.8 315.6L953.6 331.2L954.4 308L955.2 334.3L956 301.8L956.8 347.5L957.6 304.2L958.4 339.2L959.2 296.3L960 340.1L960.8 302.2L961.6 339.7L962.4 297L963.2 350.5L964 291.4L964.8 344.7L965.6 298.6L966.4 353.5L967.2 295.2L968 357.7L968.8 295.4L969.6 355.1L970.4 294.1L971.2 346.4L972 301.6L972.8 345.5L973.6 291.5L974.4 364.4L975.2 296.6L976 350.1L976.8 301.3L977.6 355.7L978.4 296.6L979.2 352.1L980 299.2L980.8 358.7L981.6 288L982.4 349.9L983.2 293.3L984 354.1L984.8 284.2L985.6 366.6L986.4 279.4L987.2 381.2L988 277.3L988.8 367.5L989.6 267.8L990.4 377.1L991.2 265L992 357.7L992.8 289.5L993.6 358.7L994.4 275.9L995.2 361.1L996 287.7L996.8 352.7L997.6 284.2L998.4 350.2L999.2 292.6L1000 359.3L1000.8 290.1L1001.6 359.3L1002.4 297.8L1003.2 348.8L1004 289.4L1004.8 354.4L1005.6 301.9L1006.4 346.4L1007.2 293.5L1008 359.3L1008.8 297.9L1009.6 350L1010.4 295.9L1011.2 362.5L1012 293.5L1012.8 357.4L1013.6 290.8L1014.4 353.6L1015.2 296.7L1016 344.2L1016.8 292.7L1017.6 356.1L1018.4 288.6L1019.2 346L1020 300.5L1020.8 352L1021.6 290.8L1022.4 342.7L1023.2 297.2L1024 345.1L1024.8 291.2L1025.6 347.7L1026.4 303.8L1027.2 353.5L1028 301.9L1028.8 347L1029.6 304L1030.4 344.6L1031.2 305.1L1032 343.4L1032.8 299.9L1033.6 343.7L1034.4 298.6L1035.2 351L1036 300.5L1036.8 339.6L1037.6 294.9L1038.4 342.2L1039.2 302.7L1040 345L1040.8 299.7L1041.6 342.6L1042.4 302.1L1043.2 344.7L1044 303.9L1044.8 338.8L1045.6 305.1L1046.4 340.7L1047.2 307.1L1048 342.3L1048.8 306.4L1049.6 337.9L1050.4 305.2L1051.2 341.3L1052 306.2L1052.8 335.9L1053.6 302.8L1054.4 334.4L1055.2 304.2L1056 336.3L1056.8 307.8L1057.6 338.5L1058.4 306.4L1059.2 337.7L1060 305.8L1060.8 330.8L1061.6 308.9L1062.4 334.3L1063.2 311.4L1064 332.5L1064.8 304.2L1065.6 330.6L1066.4 310.8L1067.2 331.5L1068 310.2L1068.8 331.4L1069.6 308.8L1070.4 336.4L1071.2 306.9L1072 334.4L1072.8 310.4L1073.6 332L1074.4 303.2L1075.2 332.8L1076 304.1L1076.8 332.8L1077.6 306.8L1078.4 335L1079.2 310.9L1080 331L1080.8 308.2L1081.6 331.7L1082.4 309.1L1083.2 332.9L1084 308.1L1084.8 335.6L1085.6 308.7L1086.4 336.2L1087.2 306.8L1088 340.7L1088.8 309.4L1089.6 346.9L1090.4 304.2L1091.2 348.2L1092 308.6L1092.8 338.3L1093.6 306.7L1094.4 348.8L1095.2 301.6L1096 350.4L1096.8 295.3L1097.6 341.6L1098.4 299.5L1099.2 345.7L1100 297.1L1100.8 352.6L1101.6 300.8L1102.4 354.6L1103.2 293.3L1104 344.4L1104.8 288.7L1105.6 345L1106.4 289.3L1107.2 345.3L1108 293.4L1108.8 344.6L1109.6 294.9L1110.4 356L1111.2 288.8L1112 348.3L1112.8 284.4L1113.6 359.9L1114.4 294.4L1115.2 366.4L1116 294.9L1116.8 359.5L1117.6 294L1118.4 349.3L1119.2 292.3L1120 348.4L1120.8 298.5L1121.6 346.2L1122.4 293.2L1123.2 339.3L1124 302.9L1124.8 344.8L1125.6 300.9L1126.4 342.3L1127.2 299.7L1128 347L1128.8 294.9L1129.6 351.3L1130.4 294.3L1131.2 343.1L1132 290.4L1132.8 347.1L1133.6 299.5L1134.4 348.2L1135.2 299.3L1136 345.1L1136.8 291.6L1137.6 346.6L1138.4 293.9L1139.2 346.6L1140 302.4L1140.8 337L1141.6 303.5L1142.4 343.4L1143.2 302.3L1144 338.3L1144.8 305.8L1145.6 341.8L1146.4 304.5L1147.2 345.2L1148 304.7L1148.8 346.5L1149.6 301.5L1150.4 340.9L1151.2 306.2L1152 335.7L1152.8 307.4L1153.6 336.1L1154.4 308.2L1155.2 334.6L1156 306.8L1156.8 335L1157.6 303.1L1158.4 335.9L1159.2 309.8L1160 333.8L1160.8 308.6L1161.6 332.6L1162.4 306.2L1163.2 333.1L1164 308.2L1164.8 336.5L1165.6 304.7L1166.4 336L1167.2 305.8L1168 334.2L1168.8 307.2L1169.6 334L1170.4 305.9L1171.2 333.6L1172 303.6L1172.8 334.1L1173.6 309.2L1174.4 335.2L1175.2 305.4L1176 339.4L1176.8 309L1177.6 334.6L1178.4 307.3L1179.2 338.7L1180 309.5L1180.8 337.3L1181.6 306.8L1182.4 334.8L1183.2 310.9L1184 336.2L1184.8 310.5L1185.6 335.1L1186.4 308.3L1187.2 341.6L1188 310.6L1188.8 334.5L1189.6 308.5L1190.4 343.8L1191.2 312.5L1192 341.1L1192.8 312.7L1193.6 340.2L1194.4 311.3L1195.2 340.8L1196 307.4L1196.8 341.9L1197.6 305.8L1198.4 337.9L1199.2 303.6L1200 340.8L1200.8 301.9L1201.6 342L1202.4 294.6L1203.2 346.4L1204 287.8L1204.8 347.6L1205.6 292.5L1206.4 350.8L1207.2 289.1L1208 352.4L1208.8 300.1L1209.6 350.1L1210.4 301.2L1211.2 353.8L1212 299.8L1212.8 351L1213.6 297.6L1214.4 357.8L1215.2 298.6L1216 352L1216.8 292.3L1217.6 345.2L1218.4 295.7L1219.2 342.5L1220 302.3L1220.8 340.8" fill="none" stroke="#b0c4de" stroke-width="1.5" stroke-linejoin="round" stroke-linejoin="miter"/>
<path d="M627.2 321.5V71.5M628.9 321.5V40.5M630.4 321.5V59.5M638 321.5V124.5M644 321.5V131.5M647.5 321.5V135.5M659 321.5V122.5M808 321.5V221.5M845.5 321.5V198.5M849 321.5V206.5M988.5 321.5V255.5M1116.5 321.5V273.5M1139.7 321.5V291.5M1207 321.5V286.5M1212 321.5V287.5M620.8 321.5V528.5M624.3 321.5V559.5M626.5 321.5V549.5M653 321.5V572.5M646 321.5V546.5M661 321.5V556.5M1101 321.5V364.5M1114 321.5V363.5M1145 321.5V351.5M1214.4 321.5V356.5" stroke="#b0c4de" stroke-width="1.6" fill="none"/>
<path d="M572 321.6L572.7 322.7L573.4 322.5L574.1 318.5L574.8 323.6L575.5 320.5L576.2 320.6L576.9 324.8L577.6 323.2L578.3 320.9L579 318L579.7 321.8L580.4 322.5L581.1 321.3L581.8 319.1L582.5 320L583.2 319.1L583.9 321.9L584.6 323.1L585.3 323.4L586 320.1L586.7 321.9L587.4 322.6L588.1 320.5L588.8 321.2L589.5 325.5L590.2 321.9L590.9 323.2L591.6 320.7L592.3 321.6L593 318.2L593.7 321.5L594.4 323.8L595.1 325.5L595.8 323.8L596.5 322.8L597.2 321.6L597.9 320.4L598.6 321.2L599.3 322.7L600 320L600.7 323.3L601.4 319.6L602.1 318.1L602.8 319.6L603.5 318.3L604.2 318.7L604.9 322.8L605.6 319.5L606.3 319.6L607 317.7L607.7 313L608.4 304.7L609.1 302.8L609.8 295.5L610.5 289.3L611.2 284.6L611.9 275.6L612.6 271.4L613.3 267.2L614 263.1L614.7 256L615.4 251.9L616.1 249.3L616.8 245.6L617.5 239.8L618.2 237.4L618.9 231.5L619.6 229L620.3 227.4L621 224.6L621.7 223.2L622.4 226.2L623.1 221.6L623.8 219.5L624.5 224.2L625.2 228.8L625.9 227.4L626.6 231.9L627.3 232.5L628 236.2L628.7 239.6L629.4 243.8L630.1 250.5L630.8 247.8L631.5 256L632.2 253.6L632.9 257L633.6 261L634.3 262.5L635 263.8L635.7 262L636.4 264.7L637.1 258.6L637.8 261.9L638.5 252.8L639.2 249.6L639.9 245.3L640.6 247.7L641.3 247.2L642 248.9L642.7 242.3L643.4 239.7L644.1 240.7L644.8 245.7L645.5 254.6L646.2 255.5L646.9 257.1L647.6 260.2L648.3 259.5L649 258.6L649.7 263.7L650.4 257.2L651.1 261.8L651.8 253.2L652.5 259.5L653.2 254.1L653.9 252.1L654.6 248L655.3 248.2L656 243.5L656.7 248.6L657.4 234.9L658.1 241.1L658.8 228.7L659.5 232L660.2 220.5L660.9 229.6L661.6 217L662.3 222.3L663 210.6L663.7 218.1L664.4 201.5L665.1 208.3L665.8 200.8L666.5 203.7L667.2 192.8L667.9 199.4L668.6 183.7L669.3 191.5L670 180.4L670.7 187.1L671.4 175.3L672.1 180L672.8 167L673.5 175.9L674.2 163.5L674.9 172.4L675.6 155.8L676.3 157.6L677 151.9L677.7 160.7L678.4 139.2L679.1 150.3L679.8 128.1L680.5 145L681.2 124.3L681.9 137.6L682.6 118L683.3 137.5L684 109.4L684.7 124.1L685.4 100L686.1 120.3L686.8 95.7L687.5 108L688.2 82.7L688.9 102.6L689.6 77L690.3 96.5L691 69.5L691.7 91.3L692.4 59.4L693.1 79.5L693.8 42.4L694.5 67.1L695.2 36.2L695.9 61.7L696.6 30.5L697.3 63.6L698 30.5L698.7 60.8L699.4 30.5L700.1 63.9L700.8 38.5L701.5 66.4L702.2 45.1L702.9 59.4L703.6 54.6L704.3 62.9L705 62.1L705.7 70.6L706.4 74.4L707.1 84.3L707.8 88L708.5 93.7L709.2 105L709.9 111.1L710.6 118L711.3 130.2L712 137.8L712.7 150.7L713.4 162.9L714.1 174.9L714.8 189.1L715.5 200.4L716.2 204.4L716.9 205L717.6 211.2L718.3 213.4L719 221.4L719.7 229.2L720.4 237L721.1 240.7L721.8 248L722.5 255.1L723.2 260.9L723.9 265L724.6 270.1L725.3 273.9L726 275.4L726.7 277.5L727.4 278.6L728.1 280.9L728.8 283.7L729.5 287L730.2 288.9L730.9 286.4L731.6 282.4L732.3 280.2L733 275.6L733.7 271.8L734.4 267.8L735.1 263.2L735.8 260.5L736.5 261.7L737.2 259.8L737.9 256.8L738.6 255.4L739.3 259.6L740 252.9L740.7 253L741.4 253L742.1 249.3L742.8 250.9L743.5 253.4L744.2 251.1L744.9 249.8L745.6 249L746.3 247.4L747 248.3L747.7 245.9L748.4 245.1L749.1 245.8L749.8 247L750.5 245.6L751.2 245.9L751.9 240.9L752.6 247.4L753.3 249.9L754 248.4L754.7 245.7L755.4 245.1L756.1 247.6L756.8 246L757.5 250.1L758.2 248.5L758.9 252.2L759.6 253.7L760.3 248.1L761 253.3L761.7 252.3L762.4 252L763.1 254.6L763.8 256.5L764.5 260L765.2 256.2L765.9 262.2L766.6 265.2L767.3 263.8L768 265.2L768.7 265.6L769.4 264.9L770.1 269.7L770.8 270.9L771.5 273.1L772.2 278L772.9 275.5L773.6 276L774.3 279.1L775 274.6L775.7 276L776.4 278.4L777.1 278.9L777.8 282.2L778.5 281.1L779.2 285.8L779.9 286.1L780.6 285.5L781.3 284L782 286.7L782.7 288.1L783.4 285.9L784.1 289.9L784.8 292L785.5 292.4L786.2 296.3L786.9 297L787.6 294.4L788.3 297.2L789 296.3L789.7 300L790.4 298.2L791.1 302.6L791.8 302.5L792.5 304.6L793.2 303.5L793.9 302L794.6 309.2L795.3 306.6L796 310.6L796.7 309.9L797.4 311.4L798.1 314.6L798.8 312.6L799.5 315.5L800.2 310.8L800.9 316.1L801.6 314.9L802.3 315.9L803 317L803.7 318.2L804.4 321.3L805.1 315.2L805.8 319.3L806.5 318.4L807.2 322.6L807.9 320.1L808.6 322.3L809.3 321.2L810 323.8L810.7 325L811.4 322.8L812.1 324.2L812.8 321.9L813.5 325.8L814.2 327.7L814.9 325.8L815.6 329.8L816.3 324.5L817 325.8L817.7 327.4L818.4 330L819.1 331.3L819.8 331.5L820.5 331.9L821.2 333.8L821.9 331.8L822.6 330.4L823.3 329.6L824 335.2L824.7 326L825.4 329.3L826.1 331.4L826.8 327L827.5 321.9L828.2 320.9L828.9 320L829.6 317L830.3 309.2L831 308.6L831.7 303L832.4 298.8L833.1 293.5L833.8 284.4L834.5 278.4L835.2 278.9L835.9 278.4L836.6 273.3L837.3 269.3L838 271.6L838.7 263.7L839.4 266.1L840.1 262L840.8 261.8L841.5 260.6L842.2 264.4L842.9 261.9L843.6 264.7L844.3 264.9L845 270.9L845.7 272.2L846.4 276.9L847.1 277L847.8 281.4L848.5 286.2L849.2 285.2L849.9 288.1L850.6 289.3L851.3 289L852 288L852.7 294.3L853.4 294.2L854.1 297.2L854.8 292.9L855.5 295L856.2 295.9L856.9 300.3L857.6 306L858.3 307.1L859 307.9L859.7 311.2L860.4 315.4L861.1 316.3L861.8 320.6L862.5 323.2L863.2 321.8L863.9 328.3L864.6 334.8L865.3 334.3L866 337.4L866.7 339.2L867.4 342.1L868.1 347.9L868.8 347.9L869.5 349.1L870.2 347.8L870.9 355.2L871.6 355.1L872.3 357.9L873 365.5L873.7 367.9L874.4 365.4L875.1 373.3L875.8 374.5L876.5 374L877.2 378.8L877.9 376.2L878.6 378.9L879.3 380.4L880 382.9L880.7 388L881.4 385.1L882.1 386.7L882.8 388.4L883.5 391.9L884.2 392.2L884.9 395.8L885.6 394.1L886.3 393.9L887 396.2L887.7 398.1L888.4 397.2L889.1 400.4L889.8 404.2L890.5 400.5L891.2 402.5L891.9 405.9L892.6 403L893.3 403.4L894 403L894.7 405.9L895.4 406.2L896.1 405L896.8 405.5L897.5 407.9L898.2 407.2L898.9 403L899.6 405.7L900.3 406L901 407.2L901.7 405.5L902.4 404.8L903.1 405.2L903.8 402.8L904.5 406.2L905.2 405.2L905.9 407.3L906.6 404.4L907.3 405.4L908 404.2L908.7 403.9L909.4 407.1L910.1 404.8L910.8 406.4L911.5 403.2L912.2 405.4L912.9 401.9L913.6 404.1L914.3 403.9L915 405.8L915.7 404.9L916.4 404.1L917.1 405.9L917.8 404.5L918.5 405L919.2 405.4L919.9 403.7L920.6 403.2L921.3 404.3L922 402.8L922.7 404.2L923.4 405.5L924.1 404.9L924.8 402.5L925.5 400.7L926.2 403L926.9 402.7L927.6 405L928.3 402.1L929 402.3L929.7 404.1L930.4 401.7L931.1 402.2L931.8 405.7L932.5 405.4L933.2 404L933.9 403.5L934.6 401.3L935.3 404.4L936 403.7L936.7 404.2L937.4 402.9L938.1 404.1L938.8 404L939.5 405.1L940.2 407.4L940.9 405.6L941.6 401.9L942.3 403.4L943 402.5L943.7 404.2L944.4 406.9L945.1 406.8L945.8 405.1L946.5 407L947.2 405.2L947.9 404.2L948.6 404.4L949.3 405.6L950 410L950.7 404.3L951.4 408.7L952.1 408.4L952.8 405L953.5 404.7L954.2 403.2L954.9 403.8L955.6 404.6L956.3 402.9L957 404.2L957.7 404L958.4 401.5L959.1 400.5L959.8 398.8L960.5 398.6L961.2 394.9L961.9 396.8L962.6 395.4L963.3 392.4L964 397.1L964.7 390.2L965.4 389.4L966.1 390.6L966.8 385.4L967.5 386.6L968.2 384.2L968.9 384.3L969.6 384.9L970.3 384.7L971 385.2L971.7 383.7L972.4 383.4L973.1 381.3L973.8 378.3L974.5 380.4L975.2 376.6L975.9 375.5L976.6 378.7L977.3 376.5L978 374.6L978.7 374.8L979.4 374.2L980.1 369.1L980.8 370.7L981.5 367.9L982.2 369.5L982.9 367.2L983.6 370.2L984.3 367.8L985 364.5L985.7 365.2L986.4 362.2L987.1 363.8L987.8 364L988.5 362.8L989.2 357.9L989.9 360.4L990.6 362.6L991.3 362.9L992 365.2L992.7 361.2L993.4 365.3L994.1 363.8L994.8 366L995.5 367.1L996.2 368.3L996.9 366.6L997.6 368.7L998.3 366.8L999 366.8L999.7 370.3L1000.4 368.9L1001.1 365.7L1001.8 367L1002.5 368.4L1003.2 371.1L1003.9 369.9L1004.6 369.1L1005.3 363.9L1006 366.8L1006.7 367.6L1007.4 367.1L1008.1 366.8L1008.8 365.3L1009.5 368.4L1010.2 366.9L1010.9 362.9L1011.6 360.3L1012.3 365.1L1013 359.2L1013.7 361.6L1014.4 362.2L1015.1 356.2L1015.8 357.9L1016.5 356.1L1017.2 357.2L1017.9 356.2L1018.6 358.8L1019.3 355.6L1020 354.5L1020.7 356.8L1021.4 354.4L1022.1 354.4L1022.8 359.5L1023.5 353.8L1024.2 354.7L1024.9 355.8L1025.6 353.9L1026.3 352.1L1027 358.3L1027.7 355L1028.4 355.6L1029.1 356.1L1029.8 355.1L1030.5 355.1L1031.2 357.6L1031.9 361.9L1032.6 358.7L1033.3 358.6L1034 354.3L1034.7 357L1035.4 354.7L1036.1 358.3L1036.8 356.4L1037.5 356.8L1038.2 356.5L1038.9 355.5L1039.6 353.6L1040.3 357.5L1041 353.7L1041.7 354L1042.4 355.6L1043.1 354.8L1043.8 356.5L1044.5 357.9L1045.2 356.3L1045.9 356.1L1046.6 355.7L1047.3 357.1L1048 351.9L1048.7 356L1049.4 353.4L1050.1 352.7L1050.8 355L1051.5 354.1L1052.2 355.8L1052.9 356.7L1053.6 350.1L1054.3 354.2L1055 358L1055.7 355.8L1056.4 356.8L1057.1 354.1L1057.8 351L1058.5 351.5L1059.2 354.8L1059.9 355.1L1060.6 351.7L1061.3 352.4L1062 353.3L1062.7 349.3L1063.4 351.8L1064.1 355.4L1064.8 356.3L1065.5 351.7L1066.2 355.3L1066.9 350.6L1067.6 349.9L1068.3 347L1069 352.9L1069.7 350.2L1070.4 355.2L1071.1 351.2L1071.8 350.8L1072.5 346.8L1073.2 352.9L1073.9 349.2L1074.6 349.4L1075.3 345.4L1076 351.1L1076.7 351.1L1077.4 347.9L1078.1 349L1078.8 349.4L1079.5 350.3L1080.2 348.5L1080.9 351.4L1081.6 347.5L1082.3 346.6L1083 346.7L1083.7 342.2L1084.4 344.9L1085.1 347.7L1085.8 345.8L1086.5 343.1L1087.2 344.7L1087.9 339.7L1088.6 342.4L1089.3 343.3L1090 343.1L1090.7 339.7L1091.4 342.3L1092.1 343.6L1092.8 338.6L1093.5 340.3L1094.2 335.4L1094.9 334L1095.6 338.4L1096.3 336.7L1097 336.5L1097.7 334.4L1098.4 334.4L1099.1 336.6L1099.8 338.6L1100.5 335.1L1101.2 332.6L1101.9 338.4L1102.6 337.3L1103.3 337.7L1104 337L1104.7 341.3L1105.4 337.2L1106.1 338.3L1106.8 334L1107.5 336.6L1108.2 336.7L1108.9 338.1L1109.6 339L1110.3 337.1L1111 342L1111.7 336.9L1112.4 338.2L1113.1 339.7L1113.8 337.1L1114.5 340.7L1115.2 341.1L1115.9 339.5L1116.6 343.9L1117.3 340.6L1118 341.1L1118.7 339L1119.4 337.6L1120.1 339.2L1120.8 339.4L1121.5 338.8L1122.2 340.8L1122.9 334.4L1123.6 336.5L1124.3 334.8L1125 340.5L1125.7 336.5L1126.4 336.2L1127.1 334.8L1127.8 338.2L1128.5 335.4L1129.2 336.3L1129.9 331.7L1130.6 337.5L1131.3 335.7L1132 335.7L1132.7 336.6L1133.4 333.6L1134.1 333.3L1134.8 334.8L1135.5 334.4L1136.2 333.2L1136.9 333.9L1137.6 332.9L1138.3 335.4L1139 335.9L1139.7 334.2L1140.4 337.9L1141.1 331.5L1141.8 334.1L1142.5 337.9L1143.2 334L1143.9 331.9L1144.6 337.7L1145.3 336.2L1146 333L1146.7 336.8L1147.4 333.5L1148.1 332.9L1148.8 335.2L1149.5 334.6L1150.2 333.4L1150.9 334.9L1151.6 333.7L1152.3 335.7L1153 335.6L1153.7 337.1L1154.4 334.8L1155.1 333.2L1155.8 333.2L1156.5 335.3L1157.2 338.7L1157.9 337.4L1158.6 334.6L1159.3 337.7L1160 333.7L1160.7 337.8L1161.4 335L1162.1 337.1L1162.8 336.7L1163.5 334.9L1164.2 335.9L1164.9 333.2L1165.6 334.9L1166.3 337L1167 342.7L1167.7 336.1L1168.4 334.8L1169.1 332.6L1169.8 336.4L1170.5 331.1L1171.2 332.7L1171.9 334.8L1172.6 331.7L1173.3 336.8L1174 335.8L1174.7 332.6L1175.4 332.5L1176.1 330.9L1176.8 330.7L1177.5 334.1L1178.2 334.3L1178.9 333.7L1179.6 333.4L1180.3 331.7L1181 333.4L1181.7 329.8L1182.4 332.5L1183.1 335.2L1183.8 334.8L1184.5 331.3L1185.2 331.4L1185.9 334.6L1186.6 335.3L1187.3 328.9L1188 330.9L1188.7 332.1L1189.4 333.8L1190.1 329.8L1190.8 332.6L1191.5 330.7L1192.2 335.7L1192.9 331.9L1193.6 330.8L1194.3 330.3L1195 332.9L1195.7 332.1L1196.4 328.6L1197.1 331L1197.8 328L1198.5 329L1199.2 327.9L1199.9 327.8L1200.6 328.9L1201.3 328.2L1202 331L1202.7 331.5L1203.4 329.4L1204.1 327.7L1204.8 331.2L1205.5 325.8L1206.2 325.9L1206.9 330.9L1207.6 330.7L1208.3 331.2L1209 328.8L1209.7 326.8L1210.4 328.1L1211.1 330.1L1211.8 327.5L1212.5 327.5L1213.2 326.1L1213.9 326.5L1214.6 330.2L1215.3 329.4L1216 326.3L1216.7 326.3L1217.4 327.2L1218.1 329.3L1218.8 325.9L1219.5 327.8L1220.2 323.9L1220.9 325.5" fill="none" stroke="#000" stroke-width="5.5" stroke-linejoin="round"/>
<path d="M606.8 334.3V371.1M602.9 334.3h7.7M602.9 371.1h7.7M611.6 335V357M607.7 335h7.7M607.7 357h7.7M616.5 317V350.2M612.7 317h7.7M612.7 350.2h7.7M621.4 279.1V302.2M617.6 279.1h7.7M617.6 302.2h7.7M626.3 306.4V336.4M622.5 306.4h7.7M622.5 336.4h7.7M631.3 272.4V317.4M627.4 272.4h7.7M627.4 317.4h7.7M636.1 268.3V292.6M632.3 268.3h7.7M632.3 292.6h7.7M641 295.8V310M637.1 295.8h7.7M637.1 310h7.7M645.9 274.9V293M642 274.9h7.7M642 293h7.7M650.7 260.7V276.6M646.9 260.7h7.7M646.9 276.6h7.7M655.6 240.2V277.9M651.7 240.2h7.7M651.7 277.9h7.7M660.5 217.9V249.8M656.7 217.9h7.7M656.7 249.8h7.7M665.4 235.6V256.8M661.6 235.6h7.7M661.6 256.8h7.7M670.4 216.8V237.4M666.5 216.8h7.7M666.5 237.4h7.7M675.2 203.6V237.4M671.4 203.6h7.7M671.4 237.4h7.7M680.2 226.8V261.1M676.3 226.8h7.7M676.3 261.1h7.7M685.1 181.3V216.2M681.2 181.3h7.7M681.2 216.2h7.7M689.9 204V224.3M686.1 204h7.7M686.1 224.3h7.7M694.9 198.3V228.5M691 198.3h7.7M691 228.5h7.7M699.8 190.4V225.3M696 190.4h7.7M696 225.3h7.7M704.6 170V197.9M700.7 170h7.7M700.7 197.9h7.7M707.9 178V202M704 178h7.7M704 202h7.7M714.3 175V196M710.4 175h7.7M710.4 196h7.7M719.5 180V204M715.6 180h7.7M715.6 204h7.7M724.6 172V201M720.8 172h7.7M720.8 201h7.7M729 176.5V225.4M725.1 176.5h7.7M725.1 225.4h7.7M734.4 164.9V219M730.5 164.9h7.7M730.5 219h7.7M738.8 207V261M734.9 207h7.7M734.9 261h7.7M743.9 300V369.5M740 300h7.7M740 369.5h7.7M750.3 266.6V339M746.4 266.6h7.7M746.4 339h7.7M755.5 287.5V366.5M751.6 287.5h7.7M751.6 366.5h7.7M760.3 358V397.1M756.4 358h7.7M756.4 397.1h7.7M765.2 347.1V387.6M761.4 347.1h7.7M761.4 387.6h7.7M769.8 397.4V428M765.9 397.4h7.7M765.9 428h7.7M775 439.6V475.2M771.1 439.6h7.7M771.1 475.2h7.7M779.9 387.6V420M776 387.6h7.7M776 420h7.7M784.8 426.2V499.6M780.9 426.2h7.7M780.9 499.6h7.7M789.6 408.7V431.9M785.8 408.7h7.7M785.8 431.9h7.7M794.5 432.1V504.8M790.6 432.1h7.7M790.6 504.8h7.7M799.4 484.2V543.2M795.5 484.2h7.7M795.5 543.2h7.7M808.2 527.7V583.6M804.4 527.7h7.7M804.4 583.6h7.7M814.4 473.1V506.1M810.5 473.1h7.7M810.5 506.1h7.7M819 449.4V514.6M815.1 449.4h7.7M815.1 514.6h7.7M824.4 455.8V505.3M820.5 455.8h7.7M820.5 505.3h7.7M829.3 374.7V513.8M825.4 374.7h7.7M825.4 513.8h7.7M834 346.9V376.8M830.1 346.9h7.7M830.1 376.8h7.7M840.4 262V325M836.5 262h7.7M836.5 325h7.7M847.6 296V340.7M843.8 296h7.7M843.8 340.7h7.7M853 348.2V438.3M849.1 348.2h7.7M849.1 438.3h7.7M860.2 246V386.8M856.4 246h7.7M856.4 386.8h7.7M865.6 316.7V371.6M861.8 316.7h7.7M861.8 371.6h7.7M871.6 325V499.6M867.8 325h7.7M867.8 499.6h7.7M877.4 251V377M873.5 251h7.7M873.5 377h7.7M882.1 146.3V304.7M878.2 146.3h7.7M878.2 304.7h7.7M887 146.8V183.4M883.1 146.8h7.7M883.1 183.4h7.7M892.4 177.7V223.6M888.5 177.7h7.7M888.5 223.6h7.7M897.6 190.6V257.6M893.8 190.6h7.7M893.8 257.6h7.7M903 179.5V205.3M899.1 179.5h7.7M899.1 205.3h7.7M907.9 167.4V198.9M904 167.4h7.7M904 198.9h7.7M912.8 213.3V248.8M908.9 213.3h7.7M908.9 248.8h7.7M917.7 194.7V229.8M913.9 194.7h7.7M913.9 229.8h7.7M923.8 222V276.1M919.9 222h7.7M919.9 276.1h7.7M931.3 235.7V291.9M927.4 235.7h7.7M927.4 291.9h7.7M936.7 300.9V372.3M932.9 300.9h7.7M932.9 372.3h7.7M944.7 166.7V300.1M940.9 166.7h7.7M940.9 300.1h7.7M953 154.6V190.6M949.1 154.6h7.7M949.1 190.6h7.7M957.9 134.7V197.8M954 134.7h7.7M954 197.8h7.7M962.5 116.4V207.9M958.6 116.4h7.7M958.6 207.9h7.7M967.6 131.4V158.4M963.8 131.4h7.7M963.8 158.4h7.7M972.5 114.1V134M968.6 114.1h7.7M968.6 134h7.7M977.4 123.6V189.6M973.5 123.6h7.7M973.5 189.6h7.7M982.3 97.9V168M978.4 97.9h7.7M978.4 168h7.7M987.2 148.1V222.8M983.4 148.1h7.7M983.4 222.8h7.7M992.1 158.9V199.6M988.2 158.9h7.7M988.2 199.6h7.7M997 159.7V233.1M993.1 159.7h7.7M993.1 233.1h7.7M1001.9 125.5V177.7M998 125.5h7.7M998 177.7h7.7M1006.8 107.7V145.5M1002.9 107.7h7.7M1002.9 145.5h7.7M1011.7 124.9V162.8M1007.9 124.9h7.7M1007.9 162.8h7.7M1016.6 131.9V164.9M1012.8 131.9h7.7M1012.8 164.9h7.7M1021.5 151.5V268.7M1017.6 151.5h7.7M1017.6 268.7h7.7M1026.4 140.4V202.2M1022.6 140.4h7.7M1022.6 202.2h7.7M1032.3 136V219M1028.5 136h7.7M1028.5 219h7.7M1038 144.3V189.9M1034.2 144.3h7.7M1034.2 189.9h7.7M1042.6 149.4V191.1M1038.8 149.4h7.7M1038.8 191.1h7.7M1047.5 168.7V313M1043.7 168.7h7.7M1043.7 313h7.7M1052.6 130V184.2M1048.8 130h7.7M1048.8 184.2h7.7M1057.8 186V235M1054 186h7.7M1054 235h7.7M1062.4 142.5V190.6M1058.6 142.5h7.7M1058.6 190.6h7.7M1067.6 79.3V100M1063.8 79.3h7.7M1063.8 100h7.7M1072.5 112.3V251.2M1068.7 112.3h7.7M1068.7 251.2h7.7M1077.4 176V245.2M1073.6 176h7.7M1073.6 245.2h7.7M1082.3 134.5V208.1M1078.5 134.5h7.7M1078.5 208.1h7.7M1087.2 170V247.8M1083.4 170h7.7M1083.4 247.8h7.7M1092.1 144.3V212.5M1088.2 144.3h7.7M1088.2 212.5h7.7M1097 108.7V175.7M1093.2 108.7h7.7M1093.2 175.7h7.7M1102.6 77.8V232.9M1098.8 77.8h7.7M1098.8 232.9h7.7M1108 94.5V125.7M1104.2 94.5h7.7M1104.2 125.7h7.7M1115.5 122.4V203M1111.7 122.4h7.7M1111.7 203h7.7M1122.5 172V245.5M1118.7 172h7.7M1118.7 245.5h7.7M1127.4 196.8V246.3M1123.6 196.8h7.7M1123.6 246.3h7.7M1132.5 113.9V162.3M1128.7 113.9h7.7M1128.7 162.3h7.7M1137.4 158.4V199.6M1133.6 158.4h7.7M1133.6 199.6h7.7M1142 155.3V233.1M1138.2 155.3h7.7M1138.2 233.1h7.7M1147.4 145.5V177M1143.6 145.5h7.7M1143.6 177h7.7M1152.3 139.1V187.3M1148.5 139.1h7.7M1148.5 187.3h7.7M1157.5 175.7V262.2M1153.7 175.7h7.7M1153.7 262.2h7.7M1162.6 93.3V139.1M1158.8 93.3h7.7M1158.8 139.1h7.7M1167.5 133.4V166.2M1163.7 133.4h7.7M1163.7 166.2h7.7M1172.4 143V188.8M1168.6 143h7.7M1168.6 188.8h7.7M1177.3 120.6V240.9M1173.5 120.6h7.7M1173.5 240.9h7.7M1182.2 173.9V229.8M1178.4 173.9h7.7M1178.4 229.8h7.7M1187.4 139.9V205.3M1183.6 139.9h7.7M1183.6 205.3h7.7M1192 126.2V183.4M1188.2 126.2h7.7M1188.2 183.4h7.7M1199.2 101.5V147.6M1195.4 101.5h7.7M1195.4 147.6h7.7M1205.1 106.4V161.5M1201.2 106.4h7.7M1201.2 161.5h7.7M1210.3 82.7V147.1M1206.5 82.7h7.7M1206.5 147.1h7.7M1215.5 103V128M1211.7 103h7.7M1211.7 128h7.7M1220 97.4V129.6M1216.2 97.4h7.7M1216.2 129.6h7.7" stroke="#000" stroke-width="2.0" fill="none"/>
<circle cx="606.8" cy="352.8" r="3" fill="#440154"/>
<circle cx="611.6" cy="345.8" r="6" fill="#27808e"/>
<circle cx="616.5" cy="333.7" r="7.5" fill="#2ab07f"/>
<circle cx="621.4" cy="290.7" r="8.6" fill="#5ec962"/>
<circle cx="626.3" cy="321.3" r="8.6" fill="#67cc5c"/>
<circle cx="631.3" cy="294.9" r="8.3" fill="#54c568"/>
<circle cx="636.1" cy="280.4" r="7.9" fill="#3bbb75"/>
<circle cx="641" cy="302.6" r="8.3" fill="#5ec962"/>
<circle cx="645.9" cy="283.9" r="8.3" fill="#5ec962"/>
<circle cx="650.7" cy="269.1" r="8.3" fill="#67cc5c"/>
<circle cx="655.6" cy="259.2" r="8.3" fill="#54c568"/>
<circle cx="660.5" cy="233.8" r="8.3" fill="#67cc5c"/>
<circle cx="665.4" cy="246.2" r="9.8" fill="#bddf26"/>
<circle cx="670.4" cy="227.2" r="9.8" fill="#d2e21b"/>
<circle cx="675.2" cy="220.6" r="10.5" fill="#eae51a"/>
<circle cx="680.2" cy="243.9" r="10.1" fill="#e2e418"/>
<circle cx="685.1" cy="199.3" r="10.1" fill="#d2e21b"/>
<circle cx="689.9" cy="213.9" r="10.1" fill="#dfe318"/>
<circle cx="694.9" cy="213.6" r="10.5" fill="#f1e51d"/>
<circle cx="699.8" cy="207.8" r="10.5" fill="#f4e61e"/>
<circle cx="704.6" cy="184" r="11.3" fill="#fde725"/>
<circle cx="707.9" cy="190.1" r="8.8" fill="#dfe318"/>
<circle cx="714.3" cy="185.5" r="8.8" fill="#d2e21b"/>
<circle cx="719.5" cy="191.9" r="7.7" fill="#b2dd2d"/>
<circle cx="724.6" cy="186.8" r="7.7" fill="#5ec962"/>
<circle cx="729" cy="200.9" r="7.2" fill="#35b779"/>
<circle cx="734.4" cy="191.9" r="7" fill="#1fa188"/>
<circle cx="738.8" cy="234.4" r="5.7" fill="#27808e"/>
<circle cx="743.9" cy="335" r="5.7" fill="#287c8e"/>
<circle cx="750.3" cy="302.9" r="5.8" fill="#25848e"/>
<circle cx="755.5" cy="327.1" r="5" fill="#2d708e"/>
<circle cx="760.3" cy="377.3" r="4.9" fill="#2f6c8e"/>
<circle cx="765.2" cy="367.5" r="4.9" fill="#32648e"/>
<circle cx="769.8" cy="412.6" r="5.7" fill="#2b748e"/>
<circle cx="775" cy="457.1" r="5.7" fill="#2a788e"/>
<circle cx="779.9" cy="404.3" r="5.7" fill="#2a788e"/>
<circle cx="784.8" cy="462.8" r="5.4" fill="#2d708e"/>
<circle cx="789.6" cy="420.6" r="5.4" fill="#2d708e"/>
<circle cx="794.5" cy="468.5" r="5.4" fill="#2b748e"/>
<circle cx="799.4" cy="513.8" r="5.4" fill="#2d708e"/>
<circle cx="808.2" cy="555.8" r="5.9" fill="#287c8e"/>
<circle cx="814.4" cy="490.1" r="5.7" fill="#27808e"/>
<circle cx="819" cy="482.4" r="5.2" fill="#2f6c8e"/>
<circle cx="824.4" cy="480.8" r="5.2" fill="#2b748e"/>
<circle cx="829.3" cy="444.3" r="5.7" fill="#2a788e"/>
<circle cx="834" cy="361.8" r="6.2" fill="#21918c"/>
<circle cx="840.4" cy="293.7" r="6.2" fill="#25848e"/>
<circle cx="847.6" cy="318.4" r="6.2" fill="#25848e"/>
<circle cx="853" cy="393.3" r="5.7" fill="#2a788e"/>
<circle cx="860.2" cy="316.2" r="4.6" fill="#3b528b"/>
<circle cx="865.6" cy="344.3" r="4.6" fill="#3f4889"/>
<circle cx="871.6" cy="412.3" r="4.6" fill="#3f4889"/>
<circle cx="877.4" cy="314.2" r="5" fill="#3d4d8a"/>
<circle cx="882.1" cy="225.4" r="4.9" fill="#3b528b"/>
<circle cx="887" cy="165.1" r="4.9" fill="#39568c"/>
<circle cx="892.4" cy="200.9" r="4.6" fill="#3b528b"/>
<circle cx="897.6" cy="223.6" r="4.6" fill="#414487"/>
<circle cx="903" cy="192.7" r="3.9" fill="#482475"/>
<circle cx="907.9" cy="183.4" r="3.9" fill="#482475"/>
<circle cx="912.8" cy="231.3" r="3" fill="#440154"/>
<circle cx="917.7" cy="212.3" r="3" fill="#440154"/>
<circle cx="923.8" cy="249.4" r="2.3" fill="#440154"/>
<circle cx="931.3" cy="263.8" r="2.3" fill="#440154"/>
<circle cx="936.7" cy="336.7" r="1.8" fill="#440154"/>
<circle cx="944.7" cy="233.4" r="1.5" fill="#440154"/>
<circle cx="953" cy="172.1" r="2.8" fill="#440154"/>
<circle cx="957.9" cy="166.7" r="2.8" fill="#440154"/>
<circle cx="962.5" cy="162.3" r="3.6" fill="#470d60"/>
<circle cx="967.6" cy="145" r="3.9" fill="#470d60"/>
<circle cx="972.5" cy="124.2" r="3.4" fill="#440154"/>
<circle cx="977.4" cy="156.4" r="3.4" fill="#440154"/>
<circle cx="982.3" cy="133.2" r="3.9" fill="#482475"/>
<circle cx="987.2" cy="185" r="4.1" fill="#463480"/>
<circle cx="992.1" cy="179" r="4.1" fill="#463480"/>
<circle cx="997" cy="196.5" r="3.6" fill="#440154"/>
<circle cx="1001.9" cy="151.7" r="3.6" fill="#440154"/>
<circle cx="1006.8" cy="126.5" r="3.4" fill="#440154"/>
<circle cx="1011.7" cy="143.7" r="3.6" fill="#471365"/>
<circle cx="1016.6" cy="148.4" r="3.6" fill="#481f70"/>
<circle cx="1021.5" cy="210" r="3.9" fill="#440154"/>
<circle cx="1026.4" cy="171.3" r="3.4" fill="#440154"/>
<circle cx="1032.3" cy="177.5" r="2.8" fill="#440154"/>
<circle cx="1038" cy="166.7" r="2.6" fill="#440154"/>
<circle cx="1042.6" cy="170.5" r="2.3" fill="#440154"/>
<circle cx="1047.5" cy="241.4" r="2.1" fill="#440154"/>
<circle cx="1052.6" cy="157.4" r="1.6" fill="#440154"/>
<circle cx="1057.8" cy="210.7" r="1.8" fill="#440154"/>
<circle cx="1062.4" cy="167.2" r="2.1" fill="#440154"/>
<circle cx="1067.6" cy="89.9" r="2.6" fill="#440154"/>
<circle cx="1072.5" cy="182.4" r="2.3" fill="#440154"/>
<circle cx="1077.4" cy="210.7" r="2.3" fill="#440154"/>
<circle cx="1082.3" cy="171.3" r="2.3" fill="#440154"/>
<circle cx="1087.2" cy="209.4" r="2.8" fill="#440154"/>
<circle cx="1092.1" cy="178.3" r="2.6" fill="#440154"/>
<circle cx="1097" cy="142.5" r="3.1" fill="#440154"/>
<circle cx="1102.6" cy="155.6" r="3.1" fill="#440154"/>
<circle cx="1108" cy="110.5" r="3.1" fill="#440154"/>
<circle cx="1115.5" cy="162.8" r="2.8" fill="#440154"/>
<circle cx="1122.5" cy="209.2" r="2.3" fill="#440154"/>
<circle cx="1127.4" cy="221.3" r="2.8" fill="#440154"/>
<circle cx="1132.5" cy="138.6" r="3.1" fill="#440154"/>
<circle cx="1137.4" cy="179" r="2.8" fill="#440154"/>
<circle cx="1142" cy="194.7" r="2.6" fill="#440154"/>
<circle cx="1147.4" cy="161.5" r="2.3" fill="#440154"/>
<circle cx="1152.3" cy="163.3" r="2.1" fill="#440154"/>
<circle cx="1157.5" cy="219" r="2.1" fill="#440154"/>
<circle cx="1162.6" cy="116.4" r="1.6" fill="#440154"/>
<circle cx="1167.5" cy="150.2" r="1.8" fill="#440154"/>
<circle cx="1172.4" cy="165.9" r="2.1" fill="#440154"/>
<circle cx="1177.3" cy="181.1" r="2.1" fill="#440154"/>
<circle cx="1182.2" cy="202" r="2.1" fill="#440154"/>
<circle cx="1187.4" cy="172.6" r="2.1" fill="#440154"/>
<circle cx="1192" cy="154.8" r="1.8" fill="#440154"/>
<circle cx="1199.2" cy="124.7" r="2.3" fill="#440154"/>
<circle cx="1205.1" cy="134.2" r="2.6" fill="#440154"/>
<circle cx="1210.3" cy="114.9" r="2.8" fill="#440154"/>
<circle cx="1215.5" cy="116.2" r="2.6" fill="#440154"/>
<circle cx="1220" cy="113.6" r="2.3" fill="#440154"/>
</g>
<rect x="572.5" y="21.9" width="647.7" height="599.1" fill="none" stroke="#000" stroke-width="2.1"/>
<path d="M604.1 621v-7.7M604.1 21.9v7.7M741.8 621v-7.7M741.8 21.9v7.7M879.5 621v-7.7M879.5 21.9v7.7M1017.3 621v-7.7M1017.3 21.9v7.7M1155 621v-7.7M1155 21.9v7.7M572.5 110h7.7M572.5 198.3h7.7M572.5 286.5h7.7M572.5 374.8h7.7M572.5 463h7.7M572.5 551.2h7.7" stroke="#000" stroke-width="2.1" fill="none"/>
<path d="M1220.2 29.1h-7.7M1220.2 102.2h-7.7M1220.2 175.3h-7.7M1220.2 248.4h-7.7M1220.2 321.5h-7.7M1220.2 394.6h-7.7M1220.2 467.7h-7.7M1220.2 540.8h-7.7M1220.2 613.9h-7.7" stroke="#000" stroke-width="2.1" fill="none"/>
<text x="561.3" y="120.1" text-anchor="end" font-size="33.6" fill="#000">14.5</text>
<text x="561.3" y="208.4" text-anchor="end" font-size="33.6" fill="#000">14.2</text>
<text x="561.3" y="296.6" text-anchor="end" font-size="33.6" fill="#000">13.8</text>
<text x="561.3" y="384.9" text-anchor="end" font-size="33.6" fill="#000">13.5</text>
<text x="561.3" y="473.1" text-anchor="end" font-size="33.6" fill="#000">13.2</text>
<text x="561.3" y="561.3" text-anchor="end" font-size="33.6" fill="#000">12.8</text>
<text x="604.1" y="658.5" text-anchor="middle" font-size="33.6" fill="#000">0</text>
<text x="741.8" y="658.5" text-anchor="middle" font-size="33.6" fill="#000">20</text>
<text x="879.5" y="658.5" text-anchor="middle" font-size="33.6" fill="#000">40</text>
<text x="1017.3" y="658.5" text-anchor="middle" font-size="33.6" fill="#000">60</text>
<text x="1155" y="658.5" text-anchor="middle" font-size="33.6" fill="#000">80</text>
<text x="1231.8" y="39.6" text-anchor="start" font-size="33.6" fill="#000">8</text>
<text x="1231.8" y="112.7" text-anchor="start" font-size="33.6" fill="#000">6</text>
<text x="1231.8" y="185.8" text-anchor="start" font-size="33.6" fill="#000">4</text>
<text x="1231.8" y="258.9" text-anchor="start" font-size="33.6" fill="#000">2</text>
<text x="1231.8" y="332" text-anchor="start" font-size="33.6" fill="#000">0</text>
<text x="1231.8" y="405.1" text-anchor="start" font-size="33.6" fill="#000">−2</text>
<text x="1231.8" y="478.2" text-anchor="start" font-size="33.6" fill="#000">−4</text>
<text x="1231.8" y="551.3" text-anchor="start" font-size="33.6" fill="#000">−6</text>
<text x="1231.8" y="624.4" text-anchor="start" font-size="33.6" fill="#000">−8</text>
<text transform="translate(473.2 325.2) rotate(-90)" text-anchor="middle" font-size="33.6">Altitude (km)</text>
<text transform="translate(1312.5 320.7) rotate(-90)" text-anchor="middle" font-size="33.6">ΔE (V/m)</text>
<text x="444" y="31" text-anchor="start" font-size="42" fill="#000" font-weight="bold">b</text>
</g>
<g id="pc">
<path d="M249.7 1101.9H285.7M249.7 1098.1v7.7M285.7 1098.1v7.7M267.7 1065.1V1138.3M263.8 1065.1h7.7M263.8 1138.3h7.7M255.5 1088.1H282.9M255.5 1084.2v7.7M282.9 1084.2v7.7M269.2 1066.6V1110.2M265.3 1066.6h7.7M265.3 1110.2h7.7M254.3 1064.1H274.7M254.3 1060.2v7.7M274.7 1060.2v7.7M264.5 1030.6V1096.7M260.6 1030.6h7.7M260.6 1096.7h7.7M253.4 977.9H265.4M253.4 974v7.7M265.4 974v7.7M259.4 955.2V1001.3M255.5 955.2h7.7M255.5 1001.3h7.7M268.1 1039.4H280.1M268.1 1035.6v7.7M280.1 1035.6v7.7M274.1 1009.6V1069.3M270.2 1009.6h7.7M270.2 1069.3h7.7M252.8 986.4H264.8M252.8 982.5v7.7M264.8 982.5v7.7M258.8 942V1031.4M255 942h7.7M255 1031.4h7.7M242 957.5H261M242 953.6v7.7M261 953.6v7.7M251.5 933.8V982.2M247.7 933.8h7.7M247.7 982.2h7.7M246.7 1002.9H267.9M246.7 999v7.7M267.9 999v7.7M257.3 988.6V1016.7M253.5 988.6h7.7M253.5 1016.7h7.7M246.1 964.5H265.1M246.1 960.6v7.7M265.1 960.6v7.7M255.6 946.9V982.9M251.8 946.9h7.7M251.8 982.9h7.7M240.1 934.6H252.1M240.1 930.8v7.7M252.1 930.8v7.7M246.1 918.7V950.3M242.2 918.7h7.7M242.2 950.3h7.7M243.6 915.3H267.2M243.6 911.4v7.7M267.2 911.4v7.7M255.4 877.8V952.9M251.6 877.8h7.7M251.6 952.9h7.7M232.9 865.5H244.9M232.9 861.6v7.7M244.9 861.6v7.7M238.9 833.5V897M235.1 833.5h7.7M235.1 897h7.7M229.1 889.9H241.1M229.1 886v7.7M241.1 886v7.7M235.1 868.8V910.9M231.2 868.8h7.7M231.2 910.9h7.7M233.3 852H245.3M233.3 848.1v7.7M245.3 848.1v7.7M239.3 831.3V872.2M235.5 831.3h7.7M235.5 872.2h7.7M228.5 838.9H240.5M228.5 835v7.7M240.5 835v7.7M234.5 805V872.2M230.7 805h7.7M230.7 872.2h7.7M243.3 885.2H255.3M243.3 881.4v7.7M255.3 881.4v7.7M249.3 851.2V919.5M245.5 851.2h7.7M245.5 919.5h7.7M223.8 796.3H235.8M223.8 792.4v7.7M235.8 792.4v7.7M229.8 760.7V830M226 760.7h7.7M226 830h7.7M227.2 826H239.2M227.2 822.1v7.7M239.2 822.1v7.7M233.2 805.8V846.3M229.3 805.8h7.7M229.3 846.3h7.7M236.9 824.7H248.9M236.9 820.9v7.7M248.9 820.9v7.7M242.9 794.5V854.5M239.1 794.5h7.7M239.1 854.5h7.7M236.7 813.4H248.7M236.7 809.5v7.7M248.7 809.5v7.7M242.7 778.7V848.2M238.8 778.7h7.7M238.8 848.2h7.7M234.8 766H246.8M234.8 762.1v7.7M246.8 762.1v7.7M240.8 738.2V793.7M237 738.2h7.7M237 793.7h7.7" stroke="#000" stroke-width="2.0" fill="none"/>
<circle cx="267.7" cy="1101.9" r="3" fill="#440154"/>
<circle cx="269.2" cy="1088.1" r="6" fill="#27808e"/>
<circle cx="264.5" cy="1064.1" r="7.5" fill="#2ab07f"/>
<circle cx="251.5" cy="957.5" r="7.9" fill="#3bbb75"/>
<circle cx="258.8" cy="986.4" r="8.3" fill="#54c568"/>
<circle cx="255.4" cy="915.3" r="8.3" fill="#54c568"/>
<circle cx="259.4" cy="977.9" r="8.6" fill="#5ec962"/>
<circle cx="257.3" cy="1002.9" r="8.3" fill="#5ec962"/>
<circle cx="255.6" cy="964.5" r="8.3" fill="#5ec962"/>
<circle cx="274.1" cy="1039.4" r="8.6" fill="#67cc5c"/>
<circle cx="246.1" cy="934.6" r="8.3" fill="#67cc5c"/>
<circle cx="238.9" cy="865.5" r="8.3" fill="#67cc5c"/>
<circle cx="235.1" cy="889.9" r="9.8" fill="#bddf26"/>
<circle cx="239.3" cy="852" r="9.8" fill="#d2e21b"/>
<circle cx="229.8" cy="796.3" r="10.1" fill="#d2e21b"/>
<circle cx="233.2" cy="826" r="10.1" fill="#dfe318"/>
<circle cx="249.3" cy="885.2" r="10.1" fill="#e2e418"/>
<circle cx="234.5" cy="838.9" r="10.5" fill="#eae51a"/>
<circle cx="242.9" cy="824.7" r="10.5" fill="#f1e51d"/>
<circle cx="242.7" cy="813.4" r="10.5" fill="#f4e61e"/>
<circle cx="240.8" cy="766" r="11.3" fill="#fde725"/>
<rect x="130" y="725" width="246" height="453" fill="none" stroke="#000" stroke-width="2.1"/>
<path d="M199.8 1178v-7.7M199.8 725v7.7M130 794.6h7.7M376 794.6h-7.7M130 969h7.7M376 969h-7.7M130 1143.4h7.7M376 1143.4h-7.7" stroke="#000" stroke-width="2.1" fill="none"/>
<text x="119.3" y="804.9" text-anchor="end" font-size="33.6" fill="#000">23.5</text>
<text x="119.3" y="979.3" text-anchor="end" font-size="33.6" fill="#000">23.0</text>
<text x="119.3" y="1153.7" text-anchor="end" font-size="33.6" fill="#000">22.5</text>
<text x="200" y="1217" text-anchor="middle" font-size="33.6" fill="#000">50.0</text>
<text x="372" y="1217" text-anchor="middle" font-size="33.6" fill="#000">50.5</text>
<text x="252.8" y="1261" text-anchor="middle" font-size="33.6" fill="#000">Azimuth angle (°)</text>
<text transform="translate(31 966) rotate(-90)" text-anchor="middle" font-size="33.6">Elevation angle (°)</text>
<text x="0" y="735" text-anchor="start" font-size="42" fill="#000" font-weight="bold">c</text>
</g>
<g id="cbar">
<defs><linearGradient id="vg" x1="0" x2="1" y1="0" y2="0"><stop offset="0%" stop-color="#440154"/><stop offset="5%" stop-color="#471365"/><stop offset="10%" stop-color="#482475"/><stop offset="15%" stop-color="#463480"/><stop offset="20%" stop-color="#414487"/><stop offset="25%" stop-color="#3b528b"/><stop offset="30%" stop-color="#355f8d"/><stop offset="35%" stop-color="#2f6c8e"/><stop offset="40%" stop-color="#2a788e"/><stop offset="45%" stop-color="#25848e"/><stop offset="50%" stop-color="#21918c"/><stop offset="55%" stop-color="#1e9c89"/><stop offset="60%" stop-color="#22a884"/><stop offset="65%" stop-color="#2fb47c"/><stop offset="70%" stop-color="#44bf70"/><stop offset="75%" stop-color="#5ec962"/><stop offset="80%" stop-color="#7ad151"/><stop offset="85%" stop-color="#9bd93c"/><stop offset="90%" stop-color="#bddf26"/><stop offset="95%" stop-color="#dfe318"/><stop offset="100%" stop-color="#fde725"/></linearGradient></defs>
<rect x="140.5" y="1313" width="210" height="27.5" fill="url(#vg)" stroke="#000" stroke-width="1.8"/>
<path d="M141.3 1340v7M210.9 1340v7M280.4 1340v7M349.8 1340v7" stroke="#000" stroke-width="1.8"/>
<text x="141.3" y="1381" text-anchor="middle" font-size="33.6" fill="#000">5</text>
<text x="210.9" y="1381" text-anchor="middle" font-size="33.6" fill="#000">6</text>
<text x="280.4" y="1381" text-anchor="middle" font-size="33.6" fill="#000">7</text>
<text x="349.8" y="1381" text-anchor="middle" font-size="33.6" fill="#000">8</text>
<text x="152.5" y="1430.8" font-size="33.6">Log<tspan font-size="24.5" dy="11">10</tspan><tspan dy="-11" dx="8">(VHF</tspan><tspan font-size="24.5" dy="-13">2</tspan><tspan dy="13">)</tspan></text>
</g>
<g id="pd">
<clipPath id="cd"><rect x="572.5" y="725.0" width="647.7" height="453.0"/></clipPath>
<g clip-path="url(#cd)">
<path d="M744 951.7L744.8 951.4L745.6 951.2L746.4 951L747.2 950.8L748 950.7L748.8 950.4L749.6 950.1L750.4 949.7L751.2 949.7L752 949.7L752.8 949.8L753.6 949.5L754.4 948.8L755.2 948.4L756 948L756.8 947.7L757.6 947L758.4 946.8L759.2 946.2L760 945.8L760.8 945.4L761.6 944.4L762.4 944.8L763.2 943.5L764 943.3L764.8 942.7L765.6 941.4L766.4 941.6L767.2 940.7L768 940.3L768.8 939.6L769.6 940.3L770.4 938.8L771.2 937.4L772 936.8L772.8 936L773.6 936.6L774.4 936.3L775.2 935.2L776 935.9L776.8 935L777.6 935.4L778.4 934.3L779.2 933.9L780 932.3L780.8 932L781.6 928.1L782.4 925.7L783.2 923.6L784 925.4L784.8 918.3L785.6 921.3L786.4 917.2L787.2 911.3L788 909.6L788.8 898.9L789.6 899.8L790.4 900.6L791.2 893.2L792 897.1L792.8 887.7L793.6 897.5L794.4 894.8L795.2 889.4L796 887L796.8 894.2L797.6 893L798.4 895.7L799.2 889L800 885.5L800.8 893.3L801.6 889.3L802.4 886.3L803.2 884.3L804 871.9L804.8 871.2L805.6 867.8L806.4 868.3L807.2 865.5L808 852.9L808.8 867.1L809.6 865.6L810.4 864.1L811.2 849.4L812 855.5L812.8 855L813.6 852.7L814.4 849.5L815.2 859.7L816 860.7L816.8 866.2L817.6 865.7L818.4 871.5L819.2 864.2L820 869.9L820.8 873.6L821.6 869.4L822.4 865.3L823.2 860L824 850.4L824.8 862.6L825.6 853.3L826.4 853.6L827.2 843.2L828 858.1L828.8 847.1L829.6 857.8L830.4 848.2L831.2 837.8L832 846.9L832.8 861.4L833.6 847.8L834.4 858.8L835.2 859.5L836 853.5L836.8 861.8L837.6 863.5L838.4 863.4L839.2 863.2L840 872.4L840.8 866L841.6 867.1L842.4 870.6L843.2 862.6L844 866.9L844.8 855.2L845.6 854.3L846.4 856.7L847.2 841.1L848 841.4L848.8 835.7L849.6 840L850.4 818.7L851.2 822.3L852 823.2L852.8 804.7L853.6 801L854.4 804L855.2 793.4L856 813.8L856.8 834.2L857.6 834L858.4 864.5L859.2 864.8L860 871.9L860.8 878L861.6 862.1L862.4 866.4L863.2 859.2L864 860.4L864.8 855L865.6 857.3L866.4 861.5L867.2 864.3L868 858.1L868.8 851.4L869.6 852L870.4 853L871.2 848.8L872 847.9L872.8 855.3L873.6 859.4L874.4 872.3L875.2 871.7L876 876.3L876.8 869.6L877.6 870.6L878.4 875L879.2 882.1L880 885.6L880.8 887.1L881.6 885.3L882.4 890.6L883.2 887.5L884 884.8L884.8 882L885.6 887.6L886.4 881.4L887.2 882.6L888 886L888.8 882.3L889.6 898.3L890.4 889.3L891.2 883.7L892 884.6L892.8 884.1L893.6 891L894.4 886.3L895.2 890.3L896 889.7L896.8 875.1L897.6 886.1L898.4 884.2L899.2 882.2L900 867.7L900.8 869.7L901.6 880.1L902.4 878.6L903.2 871.8L904 891.2L904.8 891.2L905.6 886.8L906.4 894L907.2 892.2L908 900.4L908.8 904.3L909.6 901.4L910.4 902.4L911.2 908.1L912 903L912.8 891.7L913.6 897.1L914.4 888.6L915.2 878.6L916 885.8L916.8 885L917.6 876.8L918.4 887.5L919.2 873.6L920 879.1L920.8 877.1L921.6 872.5L922.4 863.9L923.2 866.2L924 872.2L924.8 867.1L925.6 861L926.4 862L927.2 869L928 861.7L928.8 868.4L929.6 860.5L930.4 848.9L931.2 859L932 861.9L932.8 857.2L933.6 858.4L934.4 861.4L935.2 859.4L936 865.5L936.8 860.2L937.6 874.6L938.4 859.4L939.2 866.3L940 863L940.8 870.8L941.6 871.8L942.4 875.6L943.2 870.6L944 875.7L944.8 866L945.6 870.1L946.4 880.6L947.2 880.5L948 883.1L948.8 877.5L949.6 883.6L950.4 878.5L951.2 871.5L952 862.4L952.8 867.4L953.6 873.6L954.4 882.4L955.2 886.7L956 880.4L956.8 888.7L957.6 884.6L958.4 876.5L959.2 884.6L960 873L960.8 874L961.6 876.4L962.4 874.4L963.2 885.7L964 887.3L964.8 880.4L965.6 873.3L966.4 882.9L967.2 875.1L968 866.8L968.8 879L969.6 874.5L970.4 873.1L971.2 878.3L972 876.9L972.8 871.3L973.6 875.7L974.4 875.1L975.2 868.6L976 883.4L976.8 869.5L977.6 882.8L978.4 864.1L979.2 866.1L980 868.8L980.8 862L981.6 869.6L982.4 875L983.2 870.2L984 872.9L984.8 881.1L985.6 870.8L986.4 877.2L987.2 870.7L988 871.1L988.8 865.4L989.6 859.5L990.4 863.5L991.2 872.1L992 866.4L992.8 872.5L993.6 878.7L994.4 883L995.2 887L996 887L996.8 892.7L997.6 887.6L998.4 889.7L999.2 895.9L1000 891.6L1000.8 888.8L1001.6 891.2L1002.4 890.5L1003.2 897L1004 884.8L1004.8 893.3L1005.6 888.9L1006.4 886.4L1007.2 887.2L1008 887.7L1008.8 891.6L1009.6 890.3L1010.4 883.1L1011.2 892.2L1012 883L1012.8 897.8L1013.6 899.3L1014.4 894.9L1015.2 884.1L1016 888L1016.8 893.6L1017.6 893.2L1018.4 892.3L1019.2 882.4L1020 883.3L1020.8 885L1021.6 883.4L1022.4 882.6L1023.2 884.9L1024 890.2L1024.8 872.8L1025.6 875.3L1026.4 875.3L1027.2 879.6L1028 883.1L1028.8 870.3L1029.6 876.1L1030.4 877.5L1031.2 871L1032 876.7L1032.8 867.4L1033.6 871.5L1034.4 869.1L1035.2 862.1L1036 869.5L1036.8 853.3L1037.6 837L1038.4 843.4L1039.2 840.3L1040 840L1040.8 822.7L1041.6 845L1042.4 831.7L1043.2 832.1L1044 841L1044.8 842.9L1045.6 829.7L1046.4 844.5L1047.2 843.3L1048 845.1L1048.8 853.5L1049.6 838.4L1050.4 858.6L1051.2 849L1052 858.3L1052.8 859.6L1053.6 859.2L1054.4 852.9L1055.2 865.4L1056 848.8L1056.8 852.6L1057.6 835.3L1058.4 825.7L1059.2 838.5L1060 818.1L1060.8 831.8L1061.6 831.9L1062.4 834.2L1063.2 811.7L1064 809.1L1064.8 820.1L1065.6 820.1L1066.4 806.3L1067.2 834.1L1068 819.8L1068.8 846.5L1069.6 844.9L1070.4 840.6L1071.2 833.1L1072 849.3L1072.8 846.1L1073.6 828.7L1074.4 832.7L1075.2 850.5L1076 832L1076.8 844.2L1077.6 833.6L1078.4 841.1L1079.2 833.9L1080 833L1080.8 840.1L1081.6 840.5L1082.4 828.6L1083.2 826.3L1084 832.8L1084.8 816.8L1085.6 824.4L1086.4 835.1L1087.2 839.2L1088 853.8L1088.8 841.7L1089.6 856.4L1090.4 856.2L1091.2 838.6L1092 848.3L1092.8 852.2L1093.6 850.8L1094.4 836.9L1095.2 852.2L1096 847.7L1096.8 850.3L1097.6 836.6L1098.4 833.1L1099.2 821.5L1100 840.4L1100.8 815.8L1101.6 823.2L1102.4 829.4L1103.2 829.6L1104 825.9L1104.8 829L1105.6 820.5L1106.4 844.4L1107.2 834.4L1108 843.9L1108.8 834.9L1109.6 824.8L1110.4 828.1L1111.2 837L1112 839.9L1112.8 844.4L1113.6 827L1114.4 829.7L1115.2 830.4L1116 826.2L1116.8 831.3L1117.6 837.8L1118.4 833.2L1119.2 833.9L1120 854.1L1120.8 830.7L1121.6 847.8L1122.4 843.7L1123.2 834.2L1124 848.1L1124.8 843.7L1125.6 848.7L1126.4 860.8L1127.2 837.1L1128 842.9L1128.8 848.4L1129.6 833.7L1130.4 847.5L1131.2 822.2L1132 829.9L1132.8 832.2L1133.6 826.7L1134.4 828.7L1135.2 833.3L1136 842.8L1136.8 841.8L1137.6 834.4L1138.4 835.7L1139.2 849.4L1140 851.3L1140.8 855.7L1141.6 852.9L1142.4 832.8L1143.2 843.8L1144 837.8L1144.8 838L1145.6 851.6L1146.4 836.1L1147.2 834.6L1148 828L1148.8 819.1L1149.6 807.2L1150.4 817.2L1151.2 818.9L1152 819.5L1152.8 826.4L1153.6 824L1154.4 825.8L1155.2 824.1L1156 826.3L1156.8 837.9L1157.6 831.3L1158.4 844L1159.2 837.2L1160 817.1L1160.8 828.6L1161.6 820.5L1162.4 816.9L1163.2 837.8L1164 830.8L1164.8 842.2L1165.6 857.1L1166.4 853.2L1167.2 855.7L1168 843.6L1168.8 847L1169.6 842.8L1170.4 859.8L1171.2 862.5L1172 868.2L1172.8 871.5L1173.6 871.5L1174.4 879.9L1175.2 863.2L1176 876.2L1176.8 873.8L1177.6 865.1L1178.4 871.3L1179.2 887.4L1180 881.5L1180.8 877.5L1181.6 876.4L1182.4 853.3L1183.2 843.9L1184 835.9L1184.8 846.6L1185.6 838.1L1186.4 842.7L1187.2 831.9L1188 838.4L1188.8 823.5L1189.6 838.4L1190.4 820.3L1191.2 817.1L1192 816.6L1192.8 828.8L1193.6 832.8L1194.4 845.4L1195.2 853.2L1196 850.1L1196.8 849L1197.6 846.4L1198.4 841.9L1199.2 853.2L1200 851.5L1200.8 848.1L1201.6 849.5L1202.4 859.6L1203.2 853.2L1204 850.6L1204.8 849.5L1205.6 850.2L1206.4 840.4L1207.2 839.7L1208 842.5L1208.8 847.6L1209.6 837.8L1210.4 846.6L1211.2 851.4L1212 865.3L1212.8 863.2L1213.6 874.6L1214.4 861.7L1215.2 877L1216 867.8L1216.8 880L1217.6 877.1L1218.4 880.6L1219.2 888.9L1220 879.4L1220.8 881.6L1220.8 1142.1L1220 1140.2L1219.2 1127.5L1218.4 1119.1L1217.6 1116.1L1216.8 1097.8L1216 1082.7L1215.2 1087.2L1214.4 1089.5L1213.6 1103L1212.8 1107.6L1212 1084.4L1211.2 1086.3L1210.4 1090.7L1209.6 1089.8L1208.8 1089.6L1208 1075.2L1207.2 1101.9L1206.4 1091.1L1205.6 1087.6L1204.8 1081.2L1204 1094.6L1203.2 1081.8L1202.4 1109.8L1201.6 1090.2L1200.8 1092.2L1200 1076.3L1199.2 1097.1L1198.4 1105L1197.6 1094L1196.8 1098.8L1196 1108.3L1195.2 1101.7L1194.4 1115.5L1193.6 1114.9L1192.8 1097.7L1192 1115.7L1191.2 1118.6L1190.4 1097.2L1189.6 1106.2L1188.8 1101.2L1188 1096.4L1187.2 1092.7L1186.4 1104.3L1185.6 1088.8L1184.8 1096L1184 1089.6L1183.2 1075.6L1182.4 1098L1181.6 1072.7L1180.8 1061L1180 1063.1L1179.2 1070.6L1178.4 1060.5L1177.6 1063.8L1176.8 1080.1L1176 1084.7L1175.2 1070.2L1174.4 1099.6L1173.6 1084L1172.8 1107.6L1172 1092.2L1171.2 1088.2L1170.4 1088.7L1169.6 1108.8L1168.8 1102.9L1168 1095.3L1167.2 1087.1L1166.4 1119.9L1165.6 1104.5L1164.8 1105.4L1164 1116L1163.2 1115.7L1162.4 1100.9L1161.6 1079.8L1160.8 1099.7L1160 1099.7L1159.2 1111.9L1158.4 1098.2L1157.6 1087.2L1156.8 1090.2L1156 1087.1L1155.2 1071.7L1154.4 1075L1153.6 1088.3L1152.8 1075L1152 1066.2L1151.2 1077.2L1150.4 1072.5L1149.6 1075.5L1148.8 1074.6L1148 1085.6L1147.2 1057.3L1146.4 1075.9L1145.6 1054.3L1144.8 1069.8L1144 1045.8L1143.2 1074.3L1142.4 1053.8L1141.6 1057.5L1140.8 1051.6L1140 1052.2L1139.2 1048.7L1138.4 1052L1137.6 1049.7L1136.8 1052.8L1136 1046.8L1135.2 1046.9L1134.4 1051.8L1133.6 1051.8L1132.8 1046.5L1132 1046.1L1131.2 1060.5L1130.4 1059L1129.6 1050.6L1128.8 1050.6L1128 1035L1127.2 1060.3L1126.4 1046.4L1125.6 1046.7L1124.8 1049.8L1124 1046.9L1123.2 1046.9L1122.4 1036.6L1121.6 1060.1L1120.8 1051.4L1120 1053.5L1119.2 1055.9L1118.4 1044.6L1117.6 1069.3L1116.8 1059.2L1116 1073.8L1115.2 1074.1L1114.4 1078.4L1113.6 1075.6L1112.8 1090.2L1112 1092.2L1111.2 1114.1L1110.4 1118.5L1109.6 1117.7L1108.8 1104.8L1108 1127.3L1107.2 1112.3L1106.4 1101L1105.6 1101.6L1104.8 1101.8L1104 1107.8L1103.2 1118.4L1102.4 1098.5L1101.6 1109.9L1100.8 1103.3L1100 1091.2L1099.2 1072.5L1098.4 1091.1L1097.6 1076.7L1096.8 1088L1096 1094.3L1095.2 1077.5L1094.4 1099.5L1093.6 1084.9L1092.8 1095.8L1092 1073.7L1091.2 1066L1090.4 1073.4L1089.6 1058.8L1088.8 1059.1L1088 1057.7L1087.2 1078.2L1086.4 1073L1085.6 1082.2L1084.8 1073.6L1084 1080.5L1083.2 1074.4L1082.4 1085L1081.6 1077.9L1080.8 1079.8L1080 1089.7L1079.2 1085.8L1078.4 1095.2L1077.6 1105.2L1076.8 1110.3L1076 1098.6L1075.2 1100.3L1074.4 1098.6L1073.6 1119.7L1072.8 1106.5L1072 1126.9L1071.2 1096.3L1070.4 1112.8L1069.6 1132.1L1068.8 1121.5L1068 1125.7L1067.2 1116.9L1066.4 1119.3L1065.6 1118L1064.8 1112.9L1064 1104L1063.2 1089L1062.4 1075.7L1061.6 1061.6L1060.8 1063.5L1060 1071.4L1059.2 1073.7L1058.4 1057.7L1057.6 1058.7L1056.8 1052.5L1056 1043.4L1055.2 1076.8L1054.4 1064.5L1053.6 1071.4L1052.8 1070.9L1052 1099L1051.2 1084.2L1050.4 1087.3L1049.6 1087.6L1048.8 1081.1L1048 1078.6L1047.2 1091.2L1046.4 1098.2L1045.6 1115.3L1044.8 1112.8L1044 1117.5L1043.2 1091.9L1042.4 1104.1L1041.6 1090.5L1040.8 1093L1040 1124.6L1039.2 1107.8L1038.4 1119.7L1037.6 1120.9L1036.8 1098.8L1036 1063.3L1035.2 1046L1034.4 1043.6L1033.6 1041.1L1032.8 1033.5L1032 1044L1031.2 1038.4L1030.4 1026.7L1029.6 1035.7L1028.8 1035.4L1028 1018.3L1027.2 1019.4L1026.4 1026L1025.6 1027.8L1024.8 1025.1L1024 1023.2L1023.2 1036L1022.4 1039.7L1021.6 1043.3L1020.8 1035.6L1020 1020.9L1019.2 1016L1018.4 1020.8L1017.6 1021.9L1016.8 1022.9L1016 1017.8L1015.2 1022.1L1014.4 1013.6L1013.6 1024.6L1012.8 1016.2L1012 1010.8L1011.2 1012.4L1010.4 1010.7L1009.6 1012L1008.8 1008.6L1008 1009.4L1007.2 1012.5L1006.4 1012L1005.6 1012.1L1004.8 1016.8L1004 1016.5L1003.2 1010.9L1002.4 1010.2L1001.6 1008.9L1000.8 1008L1000 1011.8L999.2 1007.7L998.4 1011.8L997.6 1013.9L996.8 1003L996 1008.9L995.2 1004L994.4 998.1L993.6 1003.3L992.8 1008.5L992 1003.2L991.2 1013.8L990.4 1011.9L989.6 1008.4L988.8 1012.5L988 1012.3L987.2 1007.4L986.4 1012.4L985.6 1006.7L984.8 1008.6L984 1010.5L983.2 1014.1L982.4 1024.4L981.6 1013.2L980.8 1020.8L980 1011.4L979.2 1029L978.4 1032.2L977.6 1028.4L976.8 1021.5L976 1022.2L975.2 1018.7L974.4 1014.4L973.6 1017.2L972.8 1021.6L972 1028.9L971.2 1036.3L970.4 1033.6L969.6 1040L968.8 1038.8L968 1031.8L967.2 1024.4L966.4 1036.7L965.6 1038.2L964.8 1031.6L964 1042L963.2 1045.6L962.4 1043.8L961.6 1040.4L960.8 1033.8L960 1030.6L959.2 1047L958.4 1029.4L957.6 1032.3L956.8 1032.2L956 1042.9L955.2 1025L954.4 1026L953.6 1029.6L952.8 1034.8L952 1047L951.2 1034.3L950.4 1040L949.6 1035.2L948.8 1028.7L948 1032.4L947.2 1031.3L946.4 1045.3L945.6 1048.2L944.8 1042.4L944 1035.6L943.2 1045.5L942.4 1031.5L941.6 1031.8L940.8 1029.5L940 1031L939.2 1043.4L938.4 1035.2L937.6 1056.7L936.8 1041.9L936 1059.9L935.2 1052.2L934.4 1046.5L933.6 1062L932.8 1054.7L932 1051.7L931.2 1053.8L930.4 1055.6L929.6 1054L928.8 1054.3L928 1037.9L927.2 1030.8L926.4 1031.3L925.6 1035L924.8 1037.1L924 1038.4L923.2 1025.5L922.4 1029.4L921.6 1027.5L920.8 1037L920 1021.1L919.2 1020.6L918.4 1021L917.6 1013.1L916.8 1021.5L916 1016.1L915.2 1015.4L914.4 1011.8L913.6 1020.3L912.8 1013.6L912 1012.1L911.2 1018.6L910.4 1018.3L909.6 1014.1L908.8 1013.9L908 1023.5L907.2 1020.3L906.4 1024.9L905.6 1014.8L904.8 1021.5L904 1021.3L903.2 1025.6L902.4 1033.4L901.6 1022.7L900.8 1027.3L900 1020.1L899.2 1021.5L898.4 1030.1L897.6 1030.8L896.8 1036.4L896 1038.8L895.2 1025L894.4 1033.6L893.6 1034.1L892.8 1029.3L892 1020.9L891.2 1019.7L890.4 1015.2L889.6 1011.3L888.8 1006.6L888 1014L887.2 1004.3L886.4 1017.6L885.6 1007.2L884.8 1004.4L884 1007.1L883.2 1010.2L882.4 1009.5L881.6 1011.3L880.8 1014.6L880 1012L879.2 1012.2L878.4 1020.7L877.6 1023.4L876.8 1015L876 1022.2L875.2 1025.6L874.4 1031.1L873.6 1024.9L872.8 1033L872 1035.1L871.2 1035.8L870.4 1032.5L869.6 1033.9L868.8 1027.2L868 1041.9L867.2 1045.1L866.4 1042.7L865.6 1034.4L864.8 1030L864 1019.5L863.2 1034.3L862.4 1039.3L861.6 1027.6L860.8 1041L860 1036.9L859.2 1020.2L858.4 1033.3L857.6 1024.3L856.8 1020.5L856 1018.3L855.2 1014.9L854.4 1027.8L853.6 1030.2L852.8 1021.3L852 1019L851.2 1015.4L850.4 1016.2L849.6 1013.9L848.8 1022.1L848 1018.7L847.2 1023.1L846.4 1028.3L845.6 1012.4L844.8 1024.5L844 1027.4L843.2 1036L842.4 1037.1L841.6 1036.8L840.8 1023.8L840 1036.4L839.2 1028.9L838.4 1037.9L837.6 1042.5L836.8 1051.5L836 1048.1L835.2 1058.7L834.4 1049.6L833.6 1051.4L832.8 1051.6L832 1034.5L831.2 1036.6L830.4 1048.4L829.6 1041L828.8 1059.7L828 1049.3L827.2 1062.5L826.4 1052.9L825.6 1048.5L824.8 1046.7L824 1034.5L823.2 1041.3L822.4 1031.7L821.6 1035.7L820.8 1036.8L820 1034L819.2 1033L818.4 1034.9L817.6 1031.1L816.8 1022.3L816 1013.4L815.2 1020.7L814.4 1022.5L813.6 1030.2L812.8 1027.8L812 1040.1L811.2 1041.6L810.4 1027.9L809.6 1035.6L808.8 1028L808 1029.6L807.2 1014.1L806.4 1015.6L805.6 1015.5L804.8 1017.3L804 1012.5L803.2 1014.9L802.4 1005.4L801.6 1006.8L800.8 1004.6L800 1005.3L799.2 1002.2L798.4 1001.9L797.6 1000.9L796.8 990.8L796 994.6L795.2 991.6L794.4 989.6L793.6 988.8L792.8 988.2L792 982.2L791.2 979.4L790.4 980.3L789.6 975.7L788.8 976.3L788 974.6L787.2 975.1L786.4 974.5L785.6 973.3L784.8 972L784 968.9L783.2 968.9L782.4 968L781.6 966.9L780.8 969.4L780 966.8L779.2 965.5L778.4 966.5L777.6 966.1L776.8 966.9L776 964.2L775.2 965.3L774.4 964.3L773.6 966.1L772.8 964.2L772 963.9L771.2 963.8L770.4 964.3L769.6 962.6L768.8 962.5L768 960.9L767.2 959.5L766.4 959.5L765.6 958.8L764.8 959.3L764 958.1L763.2 958.1L762.4 957.2L761.6 957.3L760.8 957.6L760 957L759.2 956.7L758.4 957L757.6 956.3L756.8 956.2L756 955.8L755.2 955.2L754.4 954.7L753.6 955L752.8 954.3L752 954L751.2 953.8L750.4 953.4L749.6 953.3L748.8 953L748 952.9L747.2 952.9L746.4 952.6L745.6 952.3L744.8 952L744 951.7Z" fill="#b0c4de" stroke="#b0c4de" stroke-width="0.6" stroke-linejoin="round"/>
<path d="M744 951.7L744.8 952.1L745.6 950.9L746.4 952.7L747.2 950.2L748 953.2L748.8 949.3L749.6 953.3L750.4 948.9L751.2 954.3L752 948.3L752.8 955.4L753.6 948L754.4 956.4L755.2 947.2L756 958.8L756.8 947.8L757.6 959.8L758.4 945.4L759.2 959.5L760 943.5L760.8 958.7L761.6 942.8L762.4 961.5L763.2 941.3L764 962.7L764.8 942.1L765.6 962.1L766.4 936.8L767.2 962.1L768 939.2L768.8 966.9L769.6 932.7L770.4 965.8L771.2 938.1L772 972.5L772.8 928.5L773.6 973.3L774.4 926.6L775.2 966.6L776 929.1L776.8 969.6L777.6 931.9L778.4 970.7L779.2 927.2L780 977.5L780.8 924.4L781.6 969.9L782.4 914.6L783.2 975.8L784 919.6L784.8 980L785.6 903.9L786.4 985.4L787.2 906.2L788 985.9L788.8 888.3L789.6 994.5L790.4 874L791.2 996.8L792 858.7L792.8 989L793.6 893.9L794.4 1008.8L795.2 889.3L796 1024.4L796.8 864.2L797.6 1010.9L798.4 868.9L799.2 1003.5L800 865.6L800.8 1034.4L801.6 882.8L802.4 1050.3L803.2 870L804 1025L804.8 822L805.6 1048.1L806.4 847.8L807.2 1062.6L808 860L808.8 1058.7L809.6 826.9L810.4 1083L811.2 855L812 1053.6L812.8 831.8L813.6 1030.4L814.4 815.3L815.2 1062.9L816 797.1L816.8 1025.5L817.6 837L818.4 1083.6L819.2 868.9L820 1061.9L820.8 857.7L821.6 1084.4L822.4 830.9L823.2 1096.8L824 857.1L824.8 1081.8L825.6 831.9L826.4 1056.7L827.2 828.7L828 1112L828.8 812.7L829.6 1087.2L830.4 834L831.2 1069.7L832 824.7L832.8 1116.6L833.6 798.6L834.4 1086.1L835.2 833L836 1069.1L836.8 831.8L837.6 1045.6L838.4 800L839.2 1056.7L840 870.6L840.8 1042.4L841.6 806.5L842.4 1050.9L843.2 833.5L844 1092.3L844.8 803.9L845.6 1032.5L846.4 842.5L847.2 1035.5L848 821L848.8 1066.3L849.6 791.7L850.4 1054.3L851.2 729.5L852 1067.5L852.8 768.2L853.6 1039.4L854.4 756.4L855.2 1044.9L856 737.8L856.8 1062.2L857.6 821.8L858.4 1064.6L859.2 851.7L860 1074.7L860.8 874L861.6 1083.3L862.4 816.5L863.2 1035.1L864 843.8L864.8 1044.2L865.6 830.7L866.4 1104.5L867.2 805.7L868 1079.3L868.8 856.3L869.6 1098.6L870.4 778.1L871.2 1036.2L872 811.4L872.8 1062.9L873.6 830.5L874.4 1061L875.2 868.9L876 1037.1L876.8 859.6L877.6 1049.2L878.4 873.1L879.2 1025.9L880 882.5L880.8 1010.4L881.6 867.5L882.4 1017.8L883.2 861.7L884 1014L884.8 839.1L885.6 1015.1L886.4 853.8L887.2 1033.6L888 879.7L888.8 1025.3L889.6 881.2L890.4 1036L891.2 860.6L892 1027.4L892.8 882.9L893.6 1066.3L894.4 884.7L895.2 1077.2L896 869.6L896.8 1031.5L897.6 840.9L898.4 1042.4L899.2 821.7L900 1075.5L900.8 822L901.6 1076.4L902.4 875.1L903.2 1024.1L904 872.7L904.8 1037.2L905.6 873.7L906.4 1044.9L907.2 861.4L908 1057.9L908.8 864.8L909.6 1042.3L910.4 875.9L911.2 1022.7L912 899L912.8 1030.7L913.6 858.5L914.4 1025.6L915.2 873.1L916 1018.8L916.8 873.4L917.6 1060.3L918.4 868.7L919.2 1061.6L920 831.2L920.8 1072.3L921.6 810.7L922.4 1039.8L923.2 859.3L924 1040.9L924.8 863L925.6 1099L926.4 857.5L927.2 1074.7L928 856.3L928.8 1077.9L929.6 833.1L930.4 1096.9L931.2 848.7L932 1067.4L932.8 857.3L933.6 1074L934.4 819.6L935.2 1133.3L936 864.3L936.8 1105.9L937.6 830L938.4 1046.4L939.2 854.3L940 1086.6L940.8 870.5L941.6 1085.2L942.4 845.2L943.2 1098.1L944 849.2L944.8 1040.5L945.6 838.2L946.4 1059.5L947.2 875.4L948 1078.5L948.8 826.9L949.6 1096.3L950.4 847L951.2 1073.9L952 861.7L952.8 1098.8L953.6 836.8L954.4 1067.4L955.2 850.1L956 1089.2L956.8 869.6L957.6 1035.7L958.4 826.3L959.2 1039.7L960 867.7L960.8 1058.8L961.6 875.8L962.4 1050.8L963.2 837.2L964 1069.4L964.8 854.2L965.6 1031.6L966.4 857.7L967.2 1030.9L968 856.1L968.8 1049.4L969.6 859.1L970.4 1043.3L971.2 836L972 1043.3L972.8 830.2L973.6 1036.9L974.4 869.4L975.2 1038.6L976 830.4L976.8 1043.5L977.6 833.2L978.4 1059.9L979.2 863L980 1023.5L980.8 864.7L981.6 1035.6L982.4 835.3L983.2 1031.4L984 823.6L984.8 1010.9L985.6 833.9L986.4 1015.2L987.2 812.6L988 1012.1L988.8 802.5L989.6 1022L990.4 855.3L991.2 1009L992 862L992.8 1016L993.6 834.8L994.4 1039L995.2 881.7L996 1025.8L996.8 890.6L997.6 1012.3L998.4 868.6L999.2 1022.2L1000 860.5L1000.8 1042.2L1001.6 882.6L1002.4 1034.7L1003.2 857.5L1004 1046.6L1004.8 865.3L1005.6 1034.2L1006.4 866.9L1007.2 1028L1008 861.1L1008.8 1039.8L1009.6 871.2L1010.4 1021.9L1011.2 871L1012 1049.3L1012.8 884.8L1013.6 1037.7L1014.4 860.4L1015.2 1034.5L1016 854.9L1016.8 1043.6L1017.6 885L1018.4 1032.4L1019.2 881.3L1020 1048L1020.8 873.4L1021.6 1052.5L1022.4 842.1L1023.2 1085L1024 850.9L1024.8 1064.1L1025.6 833.9L1026.4 1069.6L1027.2 869.4L1028 1070.1L1028.8 872L1029.6 1041.4L1030.4 842.1L1031.2 1038.3L1032 817.9L1032.8 1097L1033.6 874.5L1034.4 1084.6L1035.2 790.6L1036 1111.7L1036.8 803.3L1037.6 1175.5L1038.4 784.6L1039.2 1175.5L1040 757.9L1040.8 1175.5L1041.6 832.1L1042.4 1117.5L1043.2 830.6L1044 1108.7L1044.8 812.3L1045.6 1175.5L1046.4 804.2L1047.2 1147.5L1048 812.6L1048.8 1175.5L1049.6 830.2L1050.4 1109L1051.2 814.5L1052 1104.3L1052.8 848L1053.6 1104.6L1054.4 844.4L1055.2 1068L1056 748L1056.8 1070.7L1057.6 835.2L1058.4 1108.9L1059.2 767.7L1060 1110.6L1060.8 786.9L1061.6 1077.5L1062.4 739.7L1063.2 1120L1064 729.5L1064.8 1137.3L1065.6 788L1066.4 1124.8L1067.2 793.8L1068 1137.5L1068.8 771.7L1069.6 1151.2L1070.4 729.5L1071.2 1127.8L1072 729.5L1072.8 1143.8L1073.6 784.3L1074.4 1175.5L1075.2 741.1L1076 1175.5L1076.8 782.3L1077.6 1120.5L1078.4 751.3L1079.2 1153.2L1080 834.5L1080.8 1091.7L1081.6 729.5L1082.4 1150.7L1083.2 729.5L1084 1098.3L1084.8 729.5L1085.6 1109.2L1086.4 829.1L1087.2 1101.2L1088 814L1088.8 1067.2L1089.6 748.6L1090.4 1139.7L1091.2 820.5L1092 1129.9L1092.8 733.6L1093.6 1115.5L1094.4 791.8L1095.2 1098.4L1096 796.8L1096.8 1109.2L1097.6 729.5L1098.4 1088.3L1099.2 819L1100 1162.5L1100.8 803.3L1101.6 1153.4L1102.4 735.3L1103.2 1133.9L1104 729.5L1104.8 1133L1105.6 811.1L1106.4 1115.4L1107.2 729.5L1108 1129.3L1108.8 729.5L1109.6 1153.7L1110.4 729.5L1111.2 1119.8L1112 729.5L1112.8 1175.5L1113.6 744.2L1114.4 1079.5L1115.2 729.5L1116 1140.6L1116.8 810.6L1117.6 1134L1118.4 835.8L1119.2 1057.2L1120 842.9L1120.8 1093.3L1121.6 805.5L1122.4 1048.4L1123.2 788.3L1124 1110.8L1124.8 841.1L1125.6 1083.7L1126.4 842.1L1127.2 1084.6L1128 809.8L1128.8 1063.5L1129.6 834L1130.4 1092.8L1131.2 781.3L1132 1093.5L1132.8 811.1L1133.6 1129.5L1134.4 834.5L1135.2 1059.4L1136 755.9L1136.8 1055.6L1137.6 817.3L1138.4 1074.1L1139.2 755.1L1140 1114.9L1140.8 825.4L1141.6 1091.6L1142.4 841.1L1143.2 1134.1L1144 761.2L1144.8 1128.9L1145.6 823.7L1146.4 1101.5L1147.2 729.5L1148 1077.6L1148.8 729.5L1149.6 1127.2L1150.4 729.5L1151.2 1089.7L1152 729.5L1152.8 1131.9L1153.6 814.9L1154.4 1086.4L1155.2 729.5L1156 1129.9L1156.8 799L1157.6 1126L1158.4 745.1L1159.2 1108.6L1160 813.4L1160.8 1152.6L1161.6 729.5L1162.4 1158.7L1163.2 729.5L1164 1123.5L1164.8 801.8L1165.6 1132.9L1166.4 808.6L1167.2 1118.5L1168 750.2L1168.8 1118.2L1169.6 808.3L1170.4 1132.8L1171.2 763.9L1172 1130.4L1172.8 804.3L1173.6 1113.8L1174.4 810.4L1175.2 1108.3L1176 872.5L1176.8 1122.2L1177.6 845.9L1178.4 1081.8L1179.2 864.7L1180 1066.2L1180.8 816.6L1181.6 1123.6L1182.4 780.5L1183.2 1122.6L1184 801.6L1184.8 1128.3L1185.6 776.3L1186.4 1175.5L1187.2 798.4L1188 1116.6L1188.8 828.4L1189.6 1144.1L1190.4 741.6L1191.2 1174.4L1192 729.5L1192.8 1175.5L1193.6 834.6L1194.4 1143.3L1195.2 810.5L1196 1102.4L1196.8 787.8L1197.6 1175.5L1198.4 845.3L1199.2 1128.6L1200 840.2L1200.8 1166.2L1201.6 789.9L1202.4 1101.5L1203.2 795.2L1204 1102.8L1204.8 836.9L1205.6 1141.6L1206.4 803.8L1207.2 1175.5L1208 729.5L1208.8 1172.2L1209.6 801.1L1210.4 1175.5L1211.2 851.4L1212 1169.7L1212.8 837.8L1213.6 1175.5L1214.4 867.5L1215.2 1136.9L1216 868.7L1216.8 1131L1217.6 840.5L1218.4 1122.7L1219.2 828.1L1220 1175.5L1220.8 868.9" fill="none" stroke="#b0c4de" stroke-width="1.5" stroke-linejoin="round" stroke-linejoin="miter"/>
<path d="M842 951.7V758.7M856.5 951.7V740.7M853.5 951.7V771.7M891 951.7V798.7M925.6 951.7V806.7M940 951.7V812.7M994.7 951.7V801.7M1036.8 951.7V767.7M1054 951.7V753.7M805 951.7V847.7M831 951.7V811.7M812.7 951.7V1109.7M836 951.7V1132.7M866.8 951.7V1109.7M928 951.7V1101.7M975 951.7V1101.7M899 951.7V1071.7M951 951.7V1086.7" stroke="#b0c4de" stroke-width="1.6" fill="none"/>
<path d="M572 946.7L572.7 946.7L573.4 949.1L574.1 948.7L574.8 950.8L575.5 950.4L576.2 950.4L576.9 952.9L577.6 951.2L578.3 950.5L579 952.5L579.7 949.3L580.4 952.4L581.1 952.1L581.8 950.6L582.5 951.7L583.2 950.6L583.9 953.4L584.6 951.2L585.3 953.1L586 951.8L586.7 950.2L587.4 949.6L588.1 951.5L588.8 949.6L589.5 950.1L590.2 950L590.9 949.3L591.6 950.2L592.3 950L593 949.2L593.7 951.1L594.4 952.8L595.1 953.3L595.8 951.5L596.5 952.4L597.2 952.1L597.9 954.3L598.6 952.8L599.3 953.2L600 952.1L600.7 954.2L601.4 955.1L602.1 953L602.8 951L603.5 953.8L604.2 952L604.9 953.2L605.6 954.6L606.3 953.1L607 951.2L607.7 951.5L608.4 952.7L609.1 951.8L609.8 952.9L610.5 951.6L611.2 952.4L611.9 952.1L612.6 953.1L613.3 952.4L614 952.4L614.7 953.6L615.4 952L616.1 951.5L616.8 953.6L617.5 952.9L618.2 952.6L618.9 952.3L619.6 952.7L620.3 952.2L621 951.8L621.7 953.6L622.4 951.2L623.1 951.6L623.8 950.7L624.5 951.1L625.2 950.5L625.9 950.9L626.6 950.6L627.3 950.6L628 948.5L628.7 950.7L629.4 949.9L630.1 948.7L630.8 949.3L631.5 949.4L632.2 949.1L632.9 948.3L633.6 948.9L634.3 949.8L635 951.4L635.7 949.9L636.4 950.3L637.1 951.2L637.8 951L638.5 951.3L639.2 949L639.9 948.8L640.6 951.5L641.3 951.3L642 949.7L642.7 951.8L643.4 951.8L644.1 949.6L644.8 950.7L645.5 951.5L646.2 949.4L646.9 950L647.6 950.4L648.3 950.2L649 948.8L649.7 949.6L650.4 948.7L651.1 951.1L651.8 948.2L652.5 951.3L653.2 948.7L653.9 951.5L654.6 949.7L655.3 952.2L656 953.7L656.7 954L657.4 953.6L658.1 953.2L658.8 953.6L659.5 953.5L660.2 953.2L660.9 952.5L661.6 953.4L662.3 952.5L663 952.8L663.7 952L664.4 951.5L665.1 950.7L665.8 950.9L666.5 950L667.2 950.4L667.9 951.3L668.6 952L669.3 950.8L670 954.8L670.7 952.3L671.4 953.6L672.1 953.6L672.8 949.8L673.5 952.8L674.2 953.6L674.9 950.7L675.6 952.6L676.3 951.6L677 951.1L677.7 952L678.4 949.6L679.1 952.2L679.8 950.7L680.5 951L681.2 951.3L681.9 953.9L682.6 950.4L683.3 951L684 950.8L684.7 949.4L685.4 949.7L686.1 951.3L686.8 949.9L687.5 950.8L688.2 949.7L688.9 953L689.6 949.6L690.3 952.6L691 952.7L691.7 952.3L692.4 950L693.1 951.3L693.8 951.8L694.5 952.3L695.2 950.1L695.9 950.3L696.6 951.5L697.3 952L698 949.7L698.7 949.2L699.4 948.6L700.1 952.9L700.8 950.9L701.5 951.2L702.2 952.1L702.9 953.1L703.6 952L704.3 950L705 950.1L705.7 950.1L706.4 950.6L707.1 950L707.8 950.1L708.5 949.5L709.2 950.5L709.9 949.7L710.6 947.8L711.3 948.3L712 948.9L712.7 950.8L713.4 950.5L714.1 950.6L714.8 947.1L715.5 950.1L716.2 949.5L716.9 950.1L717.6 948.3L718.3 949.7L719 948.6L719.7 952.3L720.4 949.9L721.1 949.6L721.8 949.8L722.5 950.2L723.2 949.5L723.9 949.9L724.6 950.1L725.3 950.8L726 950.9L726.7 951.2L727.4 952.2L728.1 951.2L728.8 950.2L729.5 950.3L730.2 950.7L730.9 951.2L731.6 951.3L732.3 952.3L733 950.4L733.7 950.8L734.4 951.6L735.1 952.3L735.8 950L736.5 951.5L737.2 951.7L737.9 950.8L738.6 949.7L739.3 948.9L740 951.3L740.7 951L741.4 950L742.1 950.2L742.8 948.5L743.5 950.4L744.2 949.1L744.9 950.7L745.6 948.3L746.3 950.8L747 948.6L747.7 949.7L748.4 947.4L749.1 948.6L749.8 948.7L750.5 947.7L751.2 945.1L751.9 947.4L752.6 947.3L753.3 946.5L754 943.9L754.7 946.1L755.4 943.5L756.1 946.1L756.8 942.9L757.5 943L758.2 941.6L758.9 944.9L759.6 939.9L760.3 941.7L761 938.3L761.7 938.1L762.4 937.8L763.1 937L763.8 934.5L764.5 933.5L765.2 930.3L765.9 931.5L766.6 931.2L767.3 931.9L768 929.7L768.7 931L769.4 926.9L770.1 928.1L770.8 926.9L771.5 930.2L772.2 925.8L772.9 929.2L773.6 925.5L774.3 927L775 925.4L775.7 925.1L776.4 923.1L777.1 926.3L777.8 923.2L778.5 924L779.2 922.1L779.9 923L780.6 919.9L781.3 921.8L782 920L782.7 922.8L783.4 921.3L784.1 922.4L784.8 918.9L785.5 920.8L786.2 917.2L786.9 921.7L787.6 915.9L788.3 918.2L789 915.8L789.7 914.8L790.4 911.7L791.1 913.5L791.8 908.8L792.5 907.6L793.2 906.8L793.9 909.6L794.6 905.8L795.3 906.6L796 903.6L796.7 902.9L797.4 902.1L798.1 902.2L798.8 898.5L799.5 899.2L800.2 897.7L800.9 898.8L801.6 895.2L802.3 896.7L803 893.9L803.7 894.9L804.4 892.4L805.1 892.9L805.8 890.2L806.5 891.4L807.2 890.8L807.9 889.3L808.6 889.8L809.3 890.4L810 887.9L810.7 887.4L811.4 886.3L812.1 887.2L812.8 884.9L813.5 887.5L814.2 883.5L814.9 887.1L815.6 884.1L816.3 881.2L817 880.6L817.7 884.3L818.4 882.4L819.1 884.8L819.8 882.5L820.5 884.6L821.2 883.1L821.9 885.6L822.6 882.3L823.3 885.4L824 881.9L824.7 884.5L825.4 882.2L826.1 887L826.8 885.4L827.5 886.5L828.2 883L828.9 886.3L829.6 884.5L830.3 886L831 884.8L831.7 885.6L832.4 879.6L833.1 886.4L833.8 882.3L834.5 884.2L835.2 884.7L835.9 884.5L836.6 881.8L837.3 883.9L838 883.5L838.7 887.1L839.4 886.5L840.1 886.9L840.8 885.7L841.5 889.3L842.2 886.1L842.9 890.3L843.6 888.1L844.3 891L845 889.4L845.7 891.7L846.4 890L847.1 892.5L847.8 891.7L848.5 894.1L849.2 893.9L849.9 896.3L850.6 894.1L851.3 896.7L852 894.2L852.7 898.5L853.4 895.7L854.1 897.3L854.8 895.1L855.5 898.3L856.2 896.3L856.9 897.9L857.6 896.6L858.3 898.7L859 896.6L859.7 899.6L860.4 896.6L861.1 898.9L861.8 895.3L862.5 900.2L863.2 899.4L863.9 901.9L864.6 898.8L865.3 903.4L866 900.3L866.7 902.3L867.4 900.7L868.1 903.6L868.8 901.3L869.5 904.9L870.2 903.2L870.9 903.7L871.6 902.3L872.3 904.3L873 902L873.7 903.2L874.4 901.9L875.1 904L875.8 903.1L876.5 905.1L877.2 902.5L877.9 904.6L878.6 903.4L879.3 904.4L880 903.7L880.7 903.8L881.4 902.5L882.1 904L882.8 900.3L883.5 902.1L884.2 902.3L884.9 903.2L885.6 902.4L886.3 903.9L887 901.8L887.7 902.5L888.4 901.6L889.1 901.5L889.8 899L890.5 901.9L891.2 901.2L891.9 902.9L892.6 900.9L893.3 903.1L894 900.7L894.7 902L895.4 900.5L896.1 906.3L896.8 903.5L897.5 908.3L898.2 904L898.9 907.6L899.6 904.2L900.3 909.7L901 903.8L901.7 905.6L902.4 905.1L903.1 907.5L903.8 901.3L904.5 905L905.2 903.6L905.9 903L906.6 901.9L907.3 902.2L908 899.4L908.7 900.9L909.4 897.6L910.1 898L910.8 899.4L911.5 898.4L912.2 896.2L912.9 898.3L913.6 895.4L914.3 897.9L915 894.3L915.7 897.3L916.4 894.4L917.1 896L917.8 893.5L918.5 896.6L919.2 897.4L919.9 897.5L920.6 895.6L921.3 898L922 898.1L922.7 901.1L923.4 900L924.1 900.4L924.8 899.1L925.5 902L926.2 899.6L926.9 902.8L927.6 898.5L928.3 903.4L929 903.1L929.7 903.8L930.4 902.4L931.1 906.5L931.8 903.4L932.5 907L933.2 904.3L933.9 906.6L934.6 905.2L935.3 906.7L936 906.7L936.7 908.8L937.4 905.2L938.1 908.9L938.8 906L939.5 908.5L940.2 907.1L940.9 908.5L941.6 906.8L942.3 911.3L943 906.8L943.7 911.8L944.4 908.5L945.1 912.3L945.8 909.5L946.5 912.1L947.2 908.9L947.9 912.2L948.6 909.7L949.3 911.1L950 909.5L950.7 911.2L951.4 907.8L952.1 910.9L952.8 907L953.5 911L954.2 908.4L954.9 911.7L955.6 907.7L956.3 909.8L957 907.7L957.7 907.8L958.4 908.2L959.1 908.9L959.8 906.2L960.5 909.5L961.2 906.6L961.9 909.7L962.6 904.3L963.3 908.5L964 905.5L964.7 907.9L965.4 903.9L966.1 908.6L966.8 905.5L967.5 907.6L968.2 904.3L968.9 906.9L969.6 907.7L970.3 907.8L971 905.6L971.7 908.3L972.4 905.3L973.1 907.6L973.8 905.7L974.5 907.2L975.2 905.1L975.9 904.8L976.6 904L977.3 905.1L978 903.6L978.7 905.7L979.4 903L980.1 906.1L980.8 904.4L981.5 904.6L982.2 901.5L982.9 903.9L983.6 901.4L984.3 902.5L985 900.1L985.7 900.4L986.4 898L987.1 900.8L987.8 897.3L988.5 898.3L989.2 894.1L989.9 895.1L990.6 894L991.3 896.9L992 894.8L992.7 897L993.4 892.6L994.1 894.7L994.8 889.5L995.5 892.9L996.2 890.9L996.9 893.3L997.6 889.8L998.3 891L999 888.1L999.7 887.9L1000.4 885.6L1001.1 888.1L1001.8 883.9L1002.5 885.4L1003.2 882.7L1003.9 884L1004.6 880.4L1005.3 881.2L1006 877.6L1006.7 880.9L1007.4 878.9L1008.1 879.2L1008.8 875.8L1009.5 877.2L1010.2 876.8L1010.9 879.3L1011.6 873.5L1012.3 878.5L1013 875.6L1013.7 876.3L1014.4 872.8L1015.1 874.5L1015.8 871L1016.5 874.3L1017.2 870.5L1017.9 873.3L1018.6 870.9L1019.3 872L1020 866.8L1020.7 871.2L1021.4 868.4L1022.1 868.2L1022.8 868.3L1023.5 869.5L1024.2 866.2L1024.9 869.5L1025.6 863.1L1026.3 865.8L1027 864.9L1027.7 867L1028.4 863.2L1029.1 868L1029.8 863.7L1030.5 865.8L1031.2 861.4L1031.9 866.3L1032.6 863L1033.3 862L1034 860.2L1034.7 862.7L1035.4 858L1036.1 862.8L1036.8 858.8L1037.5 862.2L1038.2 860.5L1038.9 862.8L1039.6 859.8L1040.3 863.5L1041 860.9L1041.7 864.5L1042.4 858.8L1043.1 861.2L1043.8 858L1044.5 861.2L1045.2 859L1045.9 864.2L1046.6 862.4L1047.3 864.4L1048 861.4L1048.7 865.9L1049.4 862.4L1050.1 866.1L1050.8 864.2L1051.5 869.4L1052.2 863.4L1052.9 868.2L1053.6 861.4L1054.3 862.7L1055 857.6L1055.7 862.9L1056.4 856.1L1057.1 857.4L1057.8 854.4L1058.5 856.6L1059.2 850.2L1059.9 854L1060.6 849.4L1061.3 852.4L1062 846.9L1062.7 852.1L1063.4 845.4L1064.1 851L1064.8 845.1L1065.5 848.9L1066.2 841.4L1066.9 847.9L1067.6 840.5L1068.3 844.9L1069 840.7L1069.7 843.9L1070.4 839.2L1071.1 840.7L1071.8 838.3L1072.5 843.2L1073.2 838.6L1073.9 842.1L1074.6 837.4L1075.3 841.3L1076 836.3L1076.7 840.4L1077.4 838.2L1078.1 839.5L1078.8 837.1L1079.5 839.9L1080.2 836.9L1080.9 837.4L1081.6 833.5L1082.3 836.7L1083 830.9L1083.7 835.2L1084.4 828.4L1085.1 833.2L1085.8 828.8L1086.5 832.8L1087.2 826.3L1087.9 828.7L1088.6 824.4L1089.3 827.9L1090 822.7L1090.7 828.7L1091.4 823L1092.1 827.2L1092.8 819.9L1093.5 822.5L1094.2 820L1094.9 820.3L1095.6 816.4L1096.3 820.9L1097 812.8L1097.7 818.3L1098.4 811.5L1099.1 814.7L1099.8 809.1L1100.5 813L1101.2 809.7L1101.9 811.6L1102.6 803.8L1103.3 810.8L1104 803.6L1104.7 806.1L1105.4 804.5L1106.1 811.3L1106.8 806.4L1107.5 813.2L1108.2 805.2L1108.9 812.5L1109.6 805.9L1110.3 811.8L1111 809.2L1111.7 813.6L1112.4 806.1L1113.1 809.2L1113.8 806.7L1114.5 811L1115.2 808.1L1115.9 811.1L1116.6 804.3L1117.3 806.4L1118 802.5L1118.7 802.7L1119.4 798.6L1120.1 803.6L1120.8 796L1121.5 798L1122.2 791.4L1122.9 795.3L1123.6 788.7L1124.3 789.9L1125 786.4L1125.7 787.4L1126.4 785.1L1127.1 787.5L1127.8 779.8L1128.5 784.7L1129.2 778.5L1129.9 782.4L1130.6 777.2L1131.3 782.1L1132 773L1132.7 781.6L1133.4 773.9L1134.1 779.2L1134.8 770.7L1135.5 774.3L1136.2 770.1L1136.9 776.3L1137.6 768.8L1138.3 775.2L1139 770.8L1139.7 777.6L1140.4 772.9L1141.1 777.8L1141.8 772.6L1142.5 780L1143.2 777.4L1143.9 783.8L1144.6 776.8L1145.3 784.2L1146 778.6L1146.7 782.4L1147.4 777.6L1148.1 781.7L1148.8 772.4L1149.5 777.8L1150.2 769.9L1150.9 776.3L1151.6 768.9L1152.3 776.2L1153 767.6L1153.7 772.9L1154.4 763.6L1155.1 766.7L1155.8 759.2L1156.5 761L1157.2 752L1157.9 753.5L1158.6 748.8L1159.3 751.2L1160 742.5L1160.7 748.7L1161.4 740.8L1162.1 745.7L1162.8 742.4L1163.5 747.3L1164.2 744.4L1164.9 751.8L1165.6 746.4L1166.3 752.7L1167 745.7L1167.7 752.6L1168.4 747.1L1169.1 756L1169.8 750.9L1170.5 758.1L1171.2 750L1171.9 757.6L1172.6 749L1173.3 756.3L1174 747.7L1174.7 753.2L1175.4 746.5L1176.1 751.7L1176.8 745.9L1177.5 750.6L1178.2 743.2L1178.9 748.2L1179.6 742.1L1180.3 742.7L1181 738.1L1181.7 741.9L1182.4 737.7L1183.1 745L1183.8 737.3L1184.5 743.9L1185.2 739.2L1185.9 745.3L1186.6 740L1187.3 745L1188 740.9L1188.7 748.4L1189.4 739.6L1190.1 746.8L1190.8 738.4L1191.5 746.4L1192.2 740.1L1192.9 745.3L1193.6 739.3L1194.3 745L1195 737.4L1195.7 743.3L1196.4 737.4L1197.1 743.9L1197.8 736.2L1198.5 741.4L1199.2 740.8L1199.9 744L1200.6 739.6L1201.3 743.7L1202 739L1202.7 746.8L1203.4 741.5L1204.1 747.1L1204.8 743.2L1205.5 749.7L1206.2 744.5L1206.9 750.3L1207.6 742L1208.3 748.8L1209 745L1209.7 750L1210.4 746.8L1211.1 751.1L1211.8 747.1L1212.5 752.2L1213.2 747.8L1213.9 751.3L1214.6 747.2L1215.3 751.5L1216 747.9L1216.7 754.2L1217.4 747.8L1218.1 753.8L1218.8 747.6L1219.5 753.8L1220.2 747.9L1220.9 754.7" fill="none" stroke="#000" stroke-width="6.0" stroke-linejoin="round"/>
<path d="M734.4 735V1178M783 735V1178" stroke="#000" stroke-width="4" stroke-dasharray="11.4 11.3" fill="none"/>
<path d="M747.1 1065.1V1138.3M743.2 1065.1h7.7M743.2 1138.3h7.7M769.6 1066.6V1110.2M765.8 1066.6h7.7M765.8 1110.2h7.7M792.9 1030.6V1096.7M789 1030.6h7.7M789 1096.7h7.7M815.8 955.2V1001.3M811.9 955.2h7.7M811.9 1001.3h7.7M839 1009.6V1069.3M835.1 1009.6h7.7M835.1 1069.3h7.7M862.3 942V1031.4M858.4 942h7.7M858.4 1031.4h7.7M885.2 933.8V982.2M881.4 933.8h7.7M881.4 982.2h7.7M908 988.6V1016.7M904.1 988.6h7.7M904.1 1016.7h7.7M930.9 946.9V982.9M927 946.9h7.7M927 982.9h7.7M953.8 918.7V950.3M949.9 918.7h7.7M949.9 950.3h7.7M976.7 877.8V952.9M972.9 877.8h7.7M972.9 952.9h7.7M1000 833.5V897M996.1 833.5h7.7M996.1 897h7.7M1022.9 868.8V910.9M1019 868.8h7.7M1019 910.9h7.7M1046.2 831.3V872.2M1042.4 831.3h7.7M1042.4 872.2h7.7M1069.1 805V872.2M1065.2 805h7.7M1065.2 872.2h7.7M1092.4 851.2V919.5M1088.6 851.2h7.7M1088.6 919.5h7.7M1115.3 760.7V830M1111.5 760.7h7.7M1111.5 830h7.7M1138.2 805.8V846.3M1134.4 805.8h7.7M1134.4 846.3h7.7M1161.4 794.5V854.5M1157.6 794.5h7.7M1157.6 854.5h7.7M1184.7 778.7V848.2M1180.9 778.7h7.7M1180.9 848.2h7.7M1207.2 738.2V793.7M1203.4 738.2h7.7M1203.4 793.7h7.7" stroke="#000" stroke-width="2.0" fill="none"/>
<path d="M746 1078.6L1207.2 766" stroke="#00008b" stroke-width="3.4" fill="none"/>
<circle cx="747.1" cy="1101.9" r="3" fill="#440154"/>
<circle cx="769.6" cy="1088" r="6" fill="#27808e"/>
<circle cx="792.9" cy="1064" r="7.5" fill="#2ab07f"/>
<circle cx="815.8" cy="978.4" r="8.6" fill="#5ec962"/>
<circle cx="839" cy="1039.2" r="8.6" fill="#67cc5c"/>
<circle cx="862.3" cy="986.7" r="8.3" fill="#54c568"/>
<circle cx="885.2" cy="957.8" r="7.9" fill="#3bbb75"/>
<circle cx="908" cy="1002.1" r="8.3" fill="#5ec962"/>
<circle cx="930.9" cy="964.9" r="8.3" fill="#5ec962"/>
<circle cx="953.8" cy="935.3" r="8.3" fill="#67cc5c"/>
<circle cx="976.7" cy="915.7" r="8.3" fill="#54c568"/>
<circle cx="1000" cy="865.1" r="8.3" fill="#67cc5c"/>
<circle cx="1022.9" cy="889.8" r="9.8" fill="#bddf26"/>
<circle cx="1046.2" cy="851.9" r="9.8" fill="#d2e21b"/>
<circle cx="1069.1" cy="838.8" r="10.5" fill="#eae51a"/>
<circle cx="1092.4" cy="885.3" r="10.1" fill="#e2e418"/>
<circle cx="1115.3" cy="796.4" r="10.1" fill="#d2e21b"/>
<circle cx="1138.2" cy="825.6" r="10.1" fill="#dfe318"/>
<circle cx="1161.4" cy="824.9" r="10.5" fill="#f1e51d"/>
<circle cx="1184.7" cy="813.3" r="10.5" fill="#f4e61e"/>
<circle cx="1207.2" cy="766" r="11.3" fill="#fde725"/>
</g>
<rect x="572.5" y="725" width="647.7" height="453" fill="none" stroke="#000" stroke-width="2.1"/>
<path d="M734.4 1178v-7.7M734.4 725v7.7M896.4 1178v-7.7M896.4 725v7.7M1058.4 1178v-7.7M1058.4 725v7.7M572.5 794.6h7.7M572.5 969h7.7M572.5 1143.4h7.7" stroke="#000" stroke-width="2.1" fill="none"/>
<path d="M1220.2 730.3h-7.7M1220.2 785.7h-7.7M1220.2 841h-7.7M1220.2 896.4h-7.7M1220.2 951.7h-7.7M1220.2 1007.1h-7.7M1220.2 1062.4h-7.7M1220.2 1117.8h-7.7M1220.2 1173.1h-7.7" stroke="#000" stroke-width="2.1" fill="none"/>
<text x="562.2" y="804.6" text-anchor="end" font-size="33.6" fill="#000">14.2</text>
<text x="562.2" y="979" text-anchor="end" font-size="33.6" fill="#000">13.8</text>
<text x="562.2" y="1153.4" text-anchor="end" font-size="33.6" fill="#000">13.5</text>
<text x="1229.8" y="739.7" text-anchor="start" font-size="33.6" fill="#000">8</text>
<text x="1229.8" y="795.1" text-anchor="start" font-size="33.6" fill="#000">6</text>
<text x="1229.8" y="850.4" text-anchor="start" font-size="33.6" fill="#000">4</text>
<text x="1229.8" y="905.8" text-anchor="start" font-size="33.6" fill="#000">2</text>
<text x="1229.8" y="961.1" text-anchor="start" font-size="33.6" fill="#000">0</text>
<text x="1229.8" y="1016.5" text-anchor="start" font-size="33.6" fill="#000">−2</text>
<text x="1229.8" y="1071.8" text-anchor="start" font-size="33.6" fill="#000">−4</text>
<text x="1229.8" y="1127.2" text-anchor="start" font-size="33.6" fill="#000">−6</text>
<text x="1229.8" y="1182.5" text-anchor="start" font-size="33.6" fill="#000">−8</text>
<text transform="translate(473.2 951.6) rotate(-90)" text-anchor="middle" font-size="33.6">Altitude (km)</text>
<text transform="translate(1312.5 951) rotate(-90)" text-anchor="middle" font-size="33.6">ΔE (V/m)</text>
<text x="835" y="1156" font-size="25" fill="#00008b">4.2 × 10<tspan font-size="17.5" dy="-9.5">7</tspan><tspan dy="9.5"> m s</tspan><tspan font-size="17.5" dy="-9.5">−1</tspan></text>
<text x="444" y="735" text-anchor="start" font-size="42" fill="#000" font-weight="bold">d</text>
</g>
<g id="pe">
<clipPath id="ce"><rect x="572.5" y="1240.4" width="647.8" height="160.39999999999986"/></clipPath>
<g clip-path="url(#ce)">
<path d="M572 1310.9L572.6 1310.8L573.2 1315.1L573.8 1310L574.4 1315.7L575 1313L575.6 1311.8L576.2 1308.9L576.8 1314.1L577.4 1312.6L578 1313.8L578.6 1307.5L579.2 1311.4L579.8 1311.6L580.4 1311.4L581 1314L581.6 1315L582.2 1307.9L582.8 1309.9L583.4 1315.5L584 1316.2L584.6 1308.6L585.2 1309L585.8 1311.2L586.4 1312.1L587 1316.1L587.6 1310.2L588.2 1315.8L588.8 1311.5L589.4 1316.7L590 1313.5L590.6 1314L591.2 1316L591.8 1317.2L592.4 1315.4L593 1318.8L593.6 1316.5L594.2 1316.6L594.8 1317.2L595.4 1314.8L596 1318.9L596.6 1314.3L597.2 1315.7L597.8 1314.6L598.4 1316.8L599 1318.4L599.6 1319.4L600.2 1317.7L600.8 1317.2L601.4 1316.5L602 1317.6L602.6 1317.4L603.2 1315.2L603.8 1320.4L604.4 1318.1L605 1315.5L605.6 1314.8L606.2 1318.2L606.8 1313.1L607.4 1314.6L608 1316.3L608.6 1315.7L609.2 1313.6L609.8 1313L610.4 1312L611 1310.5L611.6 1311.2L612.2 1313.1L612.8 1311.1L613.4 1310.5L614 1311.4L614.6 1317.1L615.2 1316.2L615.8 1315.7L616.4 1313.7L617 1314.3L617.6 1317.4L618.2 1311.8L618.8 1317.2L619.4 1310.1L620 1311.2L620.6 1313.4L621.2 1312.4L621.8 1314.4L622.4 1316.6L623 1315.1L623.6 1313.1L624.2 1312L624.8 1312.3L625.4 1311.4L626 1311.9L626.6 1308.4L627.2 1312.4L627.8 1311.1L628.4 1314.8L629 1312.8L629.6 1317.8L630.2 1316.4L630.8 1311.3L631.4 1315.7L632 1315.1L632.6 1317.6L633.2 1318.2L633.8 1312.8L634.4 1310.9L635 1314.2L635.6 1317L636.2 1313L636.8 1312.2L637.4 1314.8L638 1314.1L638.6 1313.7L639.2 1314.9L639.8 1313.7L640.4 1313.4L641 1312.2L641.6 1315.2L642.2 1310.5L642.8 1311.2L643.4 1315.6L644 1311L644.6 1311.5L645.2 1315.6L645.8 1314.3L646.4 1316.1L647 1314.2L647.6 1313.3L648.2 1312.1L648.8 1310.5L649.4 1313.7L650 1316.7L650.6 1314.4L651.2 1313.3L651.8 1314.7L652.4 1314L653 1312L653.6 1318.6L654.2 1315.2L654.8 1315L655.4 1319.3L656 1315.9L656.6 1319L657.2 1314.6L657.8 1314.5L658.4 1312.3L659 1312.8L659.6 1314.2L660.2 1312.4L660.8 1313.3L661.4 1313.3L662 1310.1L662.6 1309.8L663.2 1311.3L663.8 1310.9L664.4 1307L665 1307.9L665.6 1310.4L666.2 1310.5L666.8 1310L667.4 1310.9L668 1314L668.6 1315.5L669.2 1315.3L669.8 1317.2L670.4 1317.2L671 1317.3L671.6 1312.8L672.2 1314.5L672.8 1314.6L673.4 1314.2L674 1317.4L674.6 1316.2L675.2 1312.7L675.8 1320.2L676.4 1321L677 1328L677.6 1325.4L678.2 1325.3L678.8 1326.8L679.4 1321.7L680 1322.8L680.6 1317.7L681.2 1319.6L681.8 1319.9L682.4 1318.6L683 1317.5L683.6 1313.9L684.2 1311L684.8 1316.5L685.4 1310.4L686 1313.2L686.6 1310L687.2 1313.3L687.8 1311.5L688.4 1312.1L689 1314.6L689.6 1315.2L690.2 1312.9L690.8 1313.3L691.4 1316.3L692 1315L692.6 1316.2L693.2 1317.4L693.8 1315.5L694.4 1313.8L695 1312.9L695.6 1319.8L696.2 1319.1L696.8 1312.7L697.4 1313.3L698 1311.6L698.6 1311.5L699.2 1316L699.8 1315.5L700.4 1314.2L701 1315.2L701.6 1315.3L702.2 1315.1L702.8 1314.6L703.4 1315.7L704 1315L704.6 1310.6L705.2 1313.6L705.8 1312.4L706.4 1315.5L707 1313L707.6 1309.9L708.2 1313.9L708.8 1316.6L709.4 1315.6L710 1315.3L710.6 1315.4L711.2 1319.1L711.8 1312.1L712.4 1313.7L713 1316.4L713.6 1316.4L714.2 1314.3L714.8 1312.9L715.4 1315.3L716 1315.5L716.6 1316.9L717.2 1316L717.8 1311.8L718.4 1308.6L719 1315L719.6 1308.4L720.2 1311.4L720.8 1308.9L721.4 1311.5L722 1311.6L722.6 1314.5L723.2 1312.4L723.8 1314.7L724.4 1309.5L725 1312.5L725.6 1313.7L726.2 1309L726.8 1308.5L727.4 1310.2L728 1314.7L728.6 1313.7L729.2 1311.8L729.8 1314.4L730.4 1316L731 1316.5L731.6 1311.4L732.2 1318.4L732.8 1315.2L733.4 1315.1L734 1318.3L734.6 1314.9L735.2 1316.4L735.8 1314.1L736.4 1314.1L737 1318.3L737.6 1314.3L738.2 1316.6L738.8 1315.3L739.4 1312.2L740 1313.4L740.6 1314.3L741.2 1313L741.8 1308.5L742.4 1308.7L743 1308.3L743.6 1312.2L744.2 1313.2L744.8 1313.3L745.4 1315.6L746 1309.5L746.6 1313.4L747.2 1311.2L747.8 1308.3L748.4 1309.8L749 1307.2L749.6 1305.5L750.2 1307.7L750.8 1309.6L751.4 1311.5L752 1307.9L752.6 1305.2L753.2 1302.9L753.8 1302.2L754.4 1303.7L755 1307.5L755.6 1304.8L756.2 1307.8L756.8 1308.3L757.4 1308.4L758 1306.2L758.6 1303.2L759.2 1299.4L759.8 1294.9L760.4 1296.7L761 1294.4L761.6 1291.2L762.2 1291.5L762.8 1292.1L763.4 1291.8L764 1294L764.6 1296L765.2 1294.7L765.8 1292.2L766.4 1291L767 1294.3L767.6 1290.4L768.2 1290.5L768.8 1289.9L769.4 1288.6L770 1288.7L770.6 1290.9L771.2 1287.6L771.8 1291.8L772.4 1287.8L773 1293.7L773.6 1291L774.2 1288.8L774.8 1291.4L775.4 1287.6L776 1286.5L776.6 1285.5L777.2 1286.6L777.8 1287.5L778.4 1284.6L779 1280.4L779.6 1285.3L780.2 1279.5L780.8 1278.4L781.4 1281.7L782 1277L782.6 1281.7L783.2 1278.3L783.8 1274L784.4 1272.2L785 1273.7L785.6 1269.7L786.2 1270.4L786.8 1270.1L787.4 1269.4L788 1271.8L788.6 1276L789.2 1277.4L789.8 1274.4L790.4 1275.6L791 1277.4L791.6 1276.5L792.2 1277.6L792.8 1277.5L793.4 1278.8L794 1272.7L794.6 1276.7L795.2 1274.4L795.8 1274.8L796.4 1277.3L797 1279.7L797.6 1274.6L798.2 1276.6L798.8 1280.2L799.4 1274.2L800 1281.7L800.6 1277L801.2 1276.9L801.8 1279.8L802.4 1274.4L803 1280L803.6 1277.4L804.2 1279.6L804.8 1273.3L805.4 1277.5L806 1277.2L806.6 1275.4L807.2 1277.3L807.8 1275.5L808.4 1276.9L809 1277.8L809.6 1275.9L810.2 1273.9L810.8 1270L811.4 1272.8L812 1274.9L812.6 1272.9L813.2 1274.7L813.8 1277.7L814.4 1278.9L815 1275.4L815.6 1279.2L816.2 1275.6L816.8 1275L817.4 1270.7L818 1276.7L818.6 1270.7L819.2 1270.3L819.8 1264.6L820.4 1271.2L821 1270.9L821.6 1271.1L822.2 1265.7L822.8 1266.3L823.4 1267.3L824 1269.3L824.6 1269.4L825.2 1269.5L825.8 1264.4L826.4 1267.8L827 1269.5L827.6 1267.5L828.2 1264.5L828.8 1267.9L829.4 1270.6L830 1272.3L830.6 1267.6L831.2 1273.9L831.8 1270.3L832.4 1276L833 1275.3L833.6 1271.3L834.2 1274.3L834.8 1276.1L835.4 1273.9L836 1273.5L836.6 1276.2L837.2 1277.6L837.8 1272.6L838.4 1272.6L839 1272L839.6 1272.5L840.2 1270.9L840.8 1270L841.4 1270.5L842 1272.2L842.6 1268.7L843.2 1270.4L843.8 1268.1L844.4 1272.6L845 1272.5L845.6 1271.4L846.2 1271.9L846.8 1272.8L847.4 1271.6L848 1273.8L848.6 1273.1L849.2 1276L849.8 1271.3L850.4 1269.8L851 1269.9L851.6 1272.3L852.2 1270.1L852.8 1273.5L853.4 1274.4L854 1270.3L854.6 1273.9L855.2 1275L855.8 1274.5L856.4 1279.7L857 1272.2L857.6 1272.9L858.2 1274.9L858.8 1278.2L859.4 1278.4L860 1275.1L860.6 1273.3L861.2 1273.7L861.8 1273.1L862.4 1275.5L863 1274.9L863.6 1279.1L864.2 1276.3L864.8 1273.4L865.4 1271.9L866 1273.5L866.6 1268.7L867.2 1272.8L867.8 1272.4L868.4 1272.6L869 1272.6L869.6 1271.7L870.2 1274.9L870.8 1274.3L871.4 1277L872 1276.6L872.6 1269.4L873.2 1272.4L873.8 1273L874.4 1271.5L875 1270.1L875.6 1269.6L876.2 1269.4L876.8 1267.8L877.4 1269.7L878 1272.7L878.6 1272.4L879.2 1270.3L879.8 1276.3L880.4 1274.6L881 1274.7L881.6 1275.6L882.2 1275.3L882.8 1271.5L883.4 1272.1L884 1268.3L884.6 1269.6L885.2 1271.6L885.8 1268.4L886.4 1272.4L887 1273.6L887.6 1272L888.2 1274.6L888.8 1274.2L889.4 1274L890 1272.7L890.6 1271.9L891.2 1272.9L891.8 1271L892.4 1270.3L893 1266.2L893.6 1269.3L894.2 1264.5L894.8 1269.9L895.4 1271.3L896 1266.8L896.6 1273.6L897.2 1273.9L897.8 1273L898.4 1275.7L899 1270.2L899.6 1271.1L900.2 1272.1L900.8 1274.8L901.4 1268.7L902 1272.2L902.6 1270.4L903.2 1270.7L903.8 1270.9L904.4 1273.2L905 1275.3L905.6 1272.3L906.2 1270.9L906.8 1271L907.4 1268.1L908 1271.3L908.6 1267.2L909.2 1266.6L909.8 1268.9L910.4 1266.7L911 1264.1L911.6 1265.5L912.2 1264.8L912.8 1270L913.4 1268.3L914 1267.2L914.6 1263.9L915.2 1270.9L915.8 1268.6L916.4 1272.6L917 1268.3L917.6 1275.1L918.2 1272.8L918.8 1274L919.4 1267.5L920 1271L920.6 1269.3L921.2 1273.1L921.8 1273.8L922.4 1270.6L923 1268.4L923.6 1271L924.2 1269.9L924.8 1272.6L925.4 1270.4L926 1269.4L926.6 1270.6L927.2 1273.4L927.8 1275.2L928.4 1275.7L929 1272.8L929.6 1272.4L930.2 1274.1L930.8 1273.1L931.4 1276.5L932 1275.9L932.6 1276.8L933.2 1275.3L933.8 1275L934.4 1273.8L935 1278.4L935.6 1274.2L936.2 1278.7L936.8 1273L937.4 1271.2L938 1275.1L938.6 1276.1L939.2 1274.6L939.8 1271.3L940.4 1268.5L941 1269.3L941.6 1266.3L942.2 1270.4L942.8 1263.9L943.4 1271.6L944 1266.5L944.6 1273.4L945.2 1274.1L945.8 1273.2L946.4 1276.2L947 1273.2L947.6 1272L948.2 1269.8L948.8 1267.8L949.4 1269.6L950 1266.4L950.6 1267L951.2 1270L951.8 1266.6L952.4 1270.9L953 1273.4L953.6 1274.1L954.2 1274.9L954.8 1277L955.4 1276L956 1272L956.6 1273.6L957.2 1272.5L957.8 1273.6L958.4 1271.9L959 1273.2L959.6 1273.1L960.2 1274.2L960.8 1273.1L961.4 1271.6L962 1274.1L962.6 1276.3L963.2 1269.6L963.8 1272.7L964.4 1268L965 1263.8L965.6 1270.3L966.2 1264.7L966.8 1269.1L967.4 1264.6L968 1266.2L968.6 1268.1L969.2 1266.7L969.8 1267.3L970.4 1267.8L971 1268.4L971.6 1266.7L972.2 1273.1L972.8 1269.1L973.4 1268.9L974 1273.4L974.6 1275.9L975.2 1272.2L975.8 1275.1L976.4 1272L977 1271.8L977.6 1271.7L978.2 1275.8L978.8 1276.1L979.4 1273L980 1271L980.6 1271.8L981.2 1271.5L981.8 1268L982.4 1271.4L983 1273L983.6 1269.9L984.2 1271.4L984.8 1269.3L985.4 1268.2L986 1268.6L986.6 1268.7L987.2 1272L987.8 1273.1L988.4 1268.3L989 1270.1L989.6 1270.9L990.2 1268.6L990.8 1267.3L991.4 1269.4L992 1266.2L992.6 1269.7L993.2 1273.6L993.8 1271.2L994.4 1271.8L995 1271.2L995.6 1273.2L996.2 1270.1L996.8 1274.2L997.4 1270.1L998 1271.2L998.6 1271.5L999.2 1270.4L999.8 1270.9L1000.4 1267.2L1001 1269.7L1001.6 1268.2L1002.2 1266.4L1002.8 1271L1003.4 1265L1004 1269.4L1004.6 1269.3L1005.2 1264.7L1005.8 1267.4L1006.4 1268.8L1007 1271L1007.6 1271.1L1008.2 1269.2L1008.8 1271.7L1009.4 1271.9L1010 1274.9L1010.6 1273L1011.2 1271.7L1011.8 1268.9L1012.4 1273.5L1013 1270.7L1013.6 1270.4L1014.2 1271.9L1014.8 1268.5L1015.4 1267.8L1016 1268.2L1016.6 1268.5L1017.2 1266.8L1017.8 1263.5L1018.4 1268.5L1019 1262.5L1019.6 1266.3L1020.2 1270.5L1020.8 1270.5L1021.4 1272.7L1022 1269.2L1022.6 1266.4L1023.2 1270.2L1023.8 1266.8L1024.4 1267.4L1025 1267.4L1025.6 1271.5L1026.2 1269.8L1026.8 1270.1L1027.4 1267.9L1028 1264.8L1028.6 1267.8L1029.2 1266.5L1029.8 1266.7L1030.4 1265.5L1031 1270L1031.6 1267.1L1032.2 1269.4L1032.8 1267.8L1033.4 1270.4L1034 1266.3L1034.6 1272.7L1035.2 1270.6L1035.8 1264.9L1036.4 1266.6L1037 1268.2L1037.6 1270.5L1038.2 1264.7L1038.8 1267.1L1039.4 1264.8L1040 1265.7L1040.6 1266.3L1041.2 1268.2L1041.8 1269.8L1042.4 1267.8L1043 1272.2L1043.6 1269.2L1044.2 1267.2L1044.8 1273.5L1045.4 1275.4L1046 1270.5L1046.6 1270.9L1047.2 1266.6L1047.8 1269.8L1048.4 1266.4L1049 1265.6L1049.6 1267.7L1050.2 1264.4L1050.8 1266.5L1051.4 1267.5L1052 1265.8L1052.6 1264.5L1053.2 1263.1L1053.8 1268.2L1054.4 1266.2L1055 1266L1055.6 1260.9L1056.2 1264.9L1056.8 1263.5L1057.4 1265.8L1058 1261.9L1058.6 1264.5L1059.2 1266.5L1059.8 1260.5L1060.4 1260.9L1061 1260.5L1061.6 1259.2L1062.2 1257L1062.8 1257.1L1063.4 1262.3L1064 1263.9L1064.6 1264.3L1065.2 1268.7L1065.8 1269.8L1066.4 1266.7L1067 1268L1067.6 1269.9L1068.2 1268.6L1068.8 1268.8L1069.4 1264.8L1070 1266.9L1070.6 1269.7L1071.2 1270.3L1071.8 1266.7L1072.4 1268.9L1073 1269.9L1073.6 1269.5L1074.2 1266.5L1074.8 1269.4L1075.4 1270.2L1076 1269.1L1076.6 1263.9L1077.2 1266.9L1077.8 1265.5L1078.4 1268.9L1079 1270.8L1079.6 1270.8L1080.2 1269.2L1080.8 1270.5L1081.4 1269.9L1082 1270L1082.6 1271.5L1083.2 1269.2L1083.8 1271.8L1084.4 1267.6L1085 1269.8L1085.6 1267.2L1086.2 1270.4L1086.8 1270.4L1087.4 1271.7L1088 1270.6L1088.6 1270.8L1089.2 1272.4L1089.8 1272.2L1090.4 1270.1L1091 1268.5L1091.6 1264.7L1092.2 1265.7L1092.8 1267.1L1093.4 1271.7L1094 1267.7L1094.6 1265.9L1095.2 1268.9L1095.8 1269.3L1096.4 1271.3L1097 1271.1L1097.6 1270.2L1098.2 1270.1L1098.8 1267.6L1099.4 1266.6L1100 1266.2L1100.6 1269.6L1101.2 1265.1L1101.8 1266.6L1102.4 1269.4L1103 1268.1L1103.6 1267.7L1104.2 1267.6L1104.8 1268.7L1105.4 1261.9L1106 1267.6L1106.6 1266.6L1107.2 1267.5L1107.8 1259.9L1108.4 1260.4L1109 1257.2L1109.6 1262.6L1110.2 1259.7L1110.8 1264.2L1111.4 1267.8L1112 1267.8L1112.6 1265.4L1113.2 1268.7L1113.8 1265.7L1114.4 1267.4L1115 1269L1115.6 1265L1116.2 1266.1L1116.8 1265.4L1117.4 1265.6L1118 1267.8L1118.6 1265.4L1119.2 1266.4L1119.8 1268.4L1120.4 1272.1L1121 1271.2L1121.6 1270.6L1122.2 1269.9L1122.8 1270.9L1123.4 1268.2L1124 1271L1124.6 1268.8L1125.2 1268.8L1125.8 1270.2L1126.4 1265.5L1127 1268.1L1127.6 1267.7L1128.2 1266.7L1128.8 1265.1L1129.4 1269L1130 1267.1L1130.6 1265.7L1131.2 1259.9L1131.8 1265.3L1132.4 1262.7L1133 1261.4L1133.6 1266.7L1134.2 1266.4L1134.8 1268L1135.4 1267.6L1136 1271.6L1136.6 1269.3L1137.2 1268L1137.8 1270.7L1138.4 1271L1139 1270L1139.6 1267.5L1140.2 1272L1140.8 1268.1L1141.4 1269L1142 1271.6L1142.6 1267.3L1143.2 1267.3L1143.8 1268.8L1144.4 1267L1145 1268.4L1145.6 1268.1L1146.2 1270.4L1146.8 1271.8L1147.4 1269.9L1148 1270.8L1148.6 1268.4L1149.2 1263.1L1149.8 1261.5L1150.4 1265L1151 1260.1L1151.6 1260.8L1152.2 1259.1L1152.8 1261.3L1153.4 1261.7L1154 1264.5L1154.6 1263.2L1155.2 1266.9L1155.8 1265.5L1156.4 1267.5L1157 1267.2L1157.6 1269L1158.2 1264.3L1158.8 1268.2L1159.4 1262.3L1160 1266.4L1160.6 1266L1161.2 1267.3L1161.8 1268.3L1162.4 1268.8L1163 1265.5L1163.6 1264.6L1164.2 1265.7L1164.8 1267.8L1165.4 1263.7L1166 1266.1L1166.6 1267.9L1167.2 1270.9L1167.8 1264.7L1168.4 1269.8L1169 1267.1L1169.6 1266.3L1170.2 1267.7L1170.8 1266.9L1171.4 1262.6L1172 1260.4L1172.6 1263.5L1173.2 1264.2L1173.8 1267.6L1174.4 1270.7L1175 1264.7L1175.6 1271.8L1176.2 1267.4L1176.8 1270.9L1177.4 1272.9L1178 1269.7L1178.6 1268.5L1179.2 1267.9L1179.8 1265.8L1180.4 1266.4L1181 1264.3L1181.6 1269L1182.2 1265.5L1182.8 1267.7L1183.4 1270.1L1184 1269.1L1184.6 1270.3L1185.2 1268.3L1185.8 1266.5L1186.4 1265L1187 1266.6L1187.6 1267.5L1188.2 1264.9L1188.8 1266.1L1189.4 1267L1190 1264.3L1190.6 1267.3L1191.2 1270.7L1191.8 1270.1L1192.4 1271.4L1193 1270.9L1193.6 1272.4L1194.2 1270.2L1194.8 1274.5L1195.4 1272.4L1196 1265.7L1196.6 1267.5L1197.2 1265.7L1197.8 1266.7L1198.4 1267.3L1199 1264.8L1199.6 1263.9L1200.2 1260.4L1200.8 1265.2L1201.4 1262.2L1202 1262.6L1202.6 1267.8L1203.2 1266.5L1203.8 1265L1204.4 1266.8L1205 1267.3L1205.6 1270.1L1206.2 1271.9L1206.8 1267.8L1207.4 1265.7L1208 1262.9L1208.6 1268.4L1209.2 1266.4L1209.8 1267.5L1210.4 1261.4L1211 1260.7L1211.6 1263.8L1212.2 1261L1212.8 1263.4L1213.4 1262.4L1214 1263.8L1214.6 1264.7L1215.2 1265.4L1215.8 1265.3L1216.4 1269.4L1217 1269.6L1217.6 1270.2L1218.2 1269.6L1218.8 1267.5L1219.4 1268.8L1220 1267.6L1220.6 1267.3L1221.2 1264.1L1221.2 1297L1220.6 1295.5L1220 1292.2L1219.4 1296.2L1218.8 1299.9L1218.2 1296.2L1217.6 1294.9L1217 1300.1L1216.4 1290.9L1215.8 1288.4L1215.2 1295.8L1214.6 1291.2L1214 1287.2L1213.4 1287.9L1212.8 1292.6L1212.2 1292.2L1211.6 1289.4L1211 1288.2L1210.4 1296.7L1209.8 1292.9L1209.2 1293L1208.6 1296.8L1208 1293.6L1207.4 1295.6L1206.8 1292.4L1206.2 1298.7L1205.6 1300.2L1205 1293.4L1204.4 1291.7L1203.8 1294.6L1203.2 1289.5L1202.6 1290.4L1202 1289.3L1201.4 1296.2L1200.8 1288.7L1200.2 1295L1199.6 1294L1199 1295.2L1198.4 1294.7L1197.8 1294.5L1197.2 1295.1L1196.6 1296.1L1196 1295L1195.4 1298.9L1194.8 1298.3L1194.2 1295.2L1193.6 1298.3L1193 1295.3L1192.4 1300L1191.8 1298L1191.2 1301.6L1190.6 1298.4L1190 1294.7L1189.4 1291.7L1188.8 1299.8L1188.2 1293.9L1187.6 1293.1L1187 1292.3L1186.4 1297.8L1185.8 1294.1L1185.2 1292.2L1184.6 1294.6L1184 1298.3L1183.4 1295L1182.8 1297L1182.2 1295.2L1181.6 1297.1L1181 1289.2L1180.4 1299.4L1179.8 1298.4L1179.2 1296.4L1178.6 1296.1L1178 1295.5L1177.4 1300L1176.8 1299.1L1176.2 1298.4L1175.6 1294.5L1175 1299L1174.4 1296.9L1173.8 1293.8L1173.2 1294.7L1172.6 1295.5L1172 1292.1L1171.4 1290.3L1170.8 1294.8L1170.2 1290.2L1169.6 1295.5L1169 1294.2L1168.4 1296.5L1167.8 1298.1L1167.2 1300.7L1166.6 1298.3L1166 1297.8L1165.4 1296.7L1164.8 1296.1L1164.2 1289.4L1163.6 1292.2L1163 1293.9L1162.4 1290.9L1161.8 1290.3L1161.2 1290.3L1160.6 1293.5L1160 1290.3L1159.4 1292.9L1158.8 1291.1L1158.2 1294.8L1157.6 1296.7L1157 1299L1156.4 1299.5L1155.8 1292.3L1155.2 1292.7L1154.6 1291.9L1154 1297.8L1153.4 1295.2L1152.8 1292.1L1152.2 1291.5L1151.6 1291.8L1151 1288.6L1150.4 1292.4L1149.8 1296.7L1149.2 1295.7L1148.6 1292.4L1148 1298.7L1147.4 1298.3L1146.8 1295.5L1146.2 1293.7L1145.6 1297L1145 1294.7L1144.4 1299.8L1143.8 1294.3L1143.2 1299.2L1142.6 1289.9L1142 1299.3L1141.4 1293L1140.8 1295L1140.2 1298.7L1139.6 1295.8L1139 1294.2L1138.4 1294.1L1137.8 1296.3L1137.2 1298.9L1136.6 1296.4L1136 1292.7L1135.4 1295.2L1134.8 1296.7L1134.2 1293.4L1133.6 1295.8L1133 1292.8L1132.4 1294.8L1131.8 1296L1131.2 1296.2L1130.6 1289.7L1130 1294.5L1129.4 1291.5L1128.8 1295L1128.2 1290.6L1127.6 1298.3L1127 1294.2L1126.4 1299L1125.8 1294.2L1125.2 1294.5L1124.6 1299.5L1124 1300.4L1123.4 1300.3L1122.8 1296.5L1122.2 1298.1L1121.6 1295.2L1121 1302.1L1120.4 1299.6L1119.8 1296.4L1119.2 1295.4L1118.6 1295.1L1118 1291.6L1117.4 1295.2L1116.8 1290.7L1116.2 1291.2L1115.6 1290.8L1115 1294.2L1114.4 1297.7L1113.8 1297.2L1113.2 1297.5L1112.6 1293.9L1112 1290L1111.4 1296L1110.8 1297.3L1110.2 1285.7L1109.6 1292.9L1109 1293.1L1108.4 1288.1L1107.8 1294.1L1107.2 1295.8L1106.6 1291.4L1106 1295.7L1105.4 1289.9L1104.8 1294.2L1104.2 1297.2L1103.6 1291.5L1103 1298.8L1102.4 1295.4L1101.8 1289.6L1101.2 1294.9L1100.6 1295.1L1100 1291.4L1099.4 1292.2L1098.8 1291.1L1098.2 1296L1097.6 1296.1L1097 1294.2L1096.4 1299.8L1095.8 1296.5L1095.2 1292.1L1094.6 1295.2L1094 1293.2L1093.4 1295.8L1092.8 1297.7L1092.2 1294.2L1091.6 1295.6L1091 1299.6L1090.4 1293.4L1089.8 1300.8L1089.2 1301.1L1088.6 1296.3L1088 1295.4L1087.4 1305L1086.8 1298.9L1086.2 1301.1L1085.6 1299.7L1085 1302.6L1084.4 1292.3L1083.8 1297.5L1083.2 1295.7L1082.6 1296L1082 1298.9L1081.4 1297.4L1080.8 1293.1L1080.2 1295.6L1079.6 1300.8L1079 1294.6L1078.4 1294.1L1077.8 1300.2L1077.2 1293.4L1076.6 1298.8L1076 1293.8L1075.4 1301.4L1074.8 1299.7L1074.2 1295.9L1073.6 1292.8L1073 1297.5L1072.4 1294.4L1071.8 1296.1L1071.2 1294.6L1070.6 1292.6L1070 1292.7L1069.4 1294.7L1068.8 1295L1068.2 1299.5L1067.6 1299.3L1067 1295L1066.4 1296.7L1065.8 1295.9L1065.2 1298.4L1064.6 1294L1064 1288.2L1063.4 1287.3L1062.8 1287.2L1062.2 1287.2L1061.6 1282.8L1061 1289.4L1060.4 1291L1059.8 1287.6L1059.2 1293.5L1058.6 1289.7L1058 1293.5L1057.4 1290.5L1056.8 1295L1056.2 1294.9L1055.6 1292.4L1055 1292.3L1054.4 1291.6L1053.8 1294.7L1053.2 1292.3L1052.6 1296.2L1052 1290.8L1051.4 1295.9L1050.8 1294.4L1050.2 1293.3L1049.6 1293.2L1049 1299.7L1048.4 1291L1047.8 1300.2L1047.2 1297.5L1046.6 1301.5L1046 1300.8L1045.4 1301.3L1044.8 1304.6L1044.2 1298.7L1043.6 1293.7L1043 1298.1L1042.4 1291.6L1041.8 1291L1041.2 1295.4L1040.6 1296.2L1040 1291.3L1039.4 1292.6L1038.8 1297.6L1038.2 1297L1037.6 1295L1037 1295.2L1036.4 1299L1035.8 1296.7L1035.2 1297.1L1034.6 1299.5L1034 1297.3L1033.4 1297.8L1032.8 1293.4L1032.2 1293.3L1031.6 1291.7L1031 1296.2L1030.4 1294.1L1029.8 1298.9L1029.2 1290.9L1028.6 1293.5L1028 1292.7L1027.4 1293.8L1026.8 1297.3L1026.2 1292.6L1025.6 1300.1L1025 1292.7L1024.4 1299.3L1023.8 1300.9L1023.2 1298.4L1022.6 1299.7L1022 1301.3L1021.4 1296L1020.8 1297.3L1020.2 1300.3L1019.6 1291.4L1019 1294.2L1018.4 1291.5L1017.8 1296.2L1017.2 1291.7L1016.6 1289.3L1016 1292.5L1015.4 1298.2L1014.8 1295.6L1014.2 1299.2L1013.6 1298.4L1013 1300.2L1012.4 1295.4L1011.8 1297L1011.2 1299.9L1010.6 1295.3L1010 1298.8L1009.4 1301L1008.8 1294.8L1008.2 1294.5L1007.6 1293.8L1007 1296.3L1006.4 1295.9L1005.8 1290.1L1005.2 1293.6L1004.6 1293.2L1004 1297.3L1003.4 1297.4L1002.8 1298.1L1002.2 1296.3L1001.6 1299L1001 1296.5L1000.4 1299.3L999.8 1296.1L999.2 1293.2L998.6 1297.9L998 1299.4L997.4 1302.7L996.8 1300.6L996.2 1301.9L995.6 1295.8L995 1299.9L994.4 1297.9L993.8 1298.5L993.2 1300.1L992.6 1298.6L992 1299.4L991.4 1296.9L990.8 1294.9L990.2 1297.9L989.6 1298.2L989 1293.2L988.4 1292.7L987.8 1298.2L987.2 1303.6L986.6 1294.9L986 1300.2L985.4 1295.6L984.8 1300.3L984.2 1302L983.6 1302.6L983 1300L982.4 1300.8L981.8 1301L981.2 1300.2L980.6 1298.9L980 1299L979.4 1302.1L978.8 1300.2L978.2 1301.4L977.6 1301.6L977 1297.2L976.4 1296.7L975.8 1296.9L975.2 1300.1L974.6 1299.9L974 1304.2L973.4 1297.7L972.8 1300.4L972.2 1302.9L971.6 1299.5L971 1300.8L970.4 1294.2L969.8 1298L969.2 1297.4L968.6 1289.5L968 1297.5L967.4 1295.2L966.8 1289.6L966.2 1293.3L965.6 1297.6L965 1295.6L964.4 1293.8L963.8 1294.8L963.2 1302.4L962.6 1304.5L962 1298.7L961.4 1298.5L960.8 1303.2L960.2 1295.8L959.6 1305.7L959 1305L958.4 1302.7L957.8 1303.4L957.2 1297L956.6 1301.3L956 1299.8L955.4 1303.9L954.8 1299L954.2 1299.1L953.6 1300.8L953 1301.7L952.4 1292.7L951.8 1298.2L951.2 1294.3L950.6 1291.4L950 1296.4L949.4 1295.3L948.8 1294.4L948.2 1302.7L947.6 1300.7L947 1302.7L946.4 1300.6L945.8 1301.1L945.2 1305.2L944.6 1301.8L944 1301.5L943.4 1299.8L942.8 1299.7L942.2 1299.7L941.6 1293.4L941 1291.7L940.4 1300.2L939.8 1294.6L939.2 1299L938.6 1305.8L938 1300.1L937.4 1298.1L936.8 1303.5L936.2 1302.8L935.6 1301.9L935 1301.7L934.4 1301.7L933.8 1303.3L933.2 1300L932.6 1305.4L932 1303.7L931.4 1307.7L930.8 1301.2L930.2 1298.3L929.6 1298.2L929 1297.9L928.4 1304.1L927.8 1297.7L927.2 1297.4L926.6 1302.6L926 1296.3L925.4 1301.4L924.8 1297.4L924.2 1294.1L923.6 1300.2L923 1296L922.4 1295L921.8 1300.2L921.2 1298L920.6 1300.7L920 1296.5L919.4 1296.4L918.8 1301.3L918.2 1301.2L917.6 1300.2L917 1301.9L916.4 1300.5L915.8 1293.2L915.2 1296.9L914.6 1296.3L914 1294L913.4 1294.8L912.8 1298.3L912.2 1289.9L911.6 1291.1L911 1292.1L910.4 1294.5L909.8 1294.1L909.2 1297.9L908.6 1301.4L908 1299.5L907.4 1301.4L906.8 1298.4L906.2 1302.4L905.6 1304.6L905 1302.3L904.4 1296L903.8 1298L903.2 1296.1L902.6 1298.9L902 1298.4L901.4 1294.7L900.8 1301.3L900.2 1301.1L899.6 1304.3L899 1299.1L898.4 1300.7L897.8 1301.2L897.2 1301.3L896.6 1300.1L896 1293.7L895.4 1295.3L894.8 1298.9L894.2 1297.7L893.6 1297.4L893 1294.6L892.4 1295.2L891.8 1300.6L891.2 1296.3L890.6 1302.4L890 1301.2L889.4 1296.4L888.8 1297.1L888.2 1303.1L887.6 1300.4L887 1302.6L886.4 1300.4L885.8 1300.2L885.2 1298L884.6 1299.5L884 1300.2L883.4 1298L882.8 1301.2L882.2 1303.3L881.6 1298L881 1299.5L880.4 1300.1L879.8 1307.1L879.2 1302.8L878.6 1300.8L878 1295.9L877.4 1294.4L876.8 1296.2L876.2 1300.2L875.6 1298L875 1302.4L874.4 1293.7L873.8 1296.8L873.2 1300.9L872.6 1300.1L872 1302.8L871.4 1299L870.8 1301.5L870.2 1302.6L869.6 1296.5L869 1293.1L868.4 1302.4L867.8 1298.5L867.2 1301.6L866.6 1297.1L866 1303.6L865.4 1298.7L864.8 1301.4L864.2 1307.5L863.6 1304L863 1306.2L862.4 1307.3L861.8 1301.3L861.2 1303.2L860.6 1301.6L860 1305.5L859.4 1299.2L858.8 1304.1L858.2 1304.4L857.6 1304.4L857 1297.4L856.4 1306.9L855.8 1303.4L855.2 1302.8L854.6 1300.2L854 1303.5L853.4 1300.2L852.8 1304.1L852.2 1298.7L851.6 1302.5L851 1294.1L850.4 1294.8L849.8 1302L849.2 1298.1L848.6 1301.6L848 1295.1L847.4 1300.1L846.8 1297.8L846.2 1294.5L845.6 1296.1L845 1295.3L844.4 1299.9L843.8 1299L843.2 1295.2L842.6 1300.1L842 1297.6L841.4 1296.9L840.8 1301.8L840.2 1296.3L839.6 1303.9L839 1300.4L838.4 1297.7L837.8 1301.5L837.2 1305.8L836.6 1306.5L836 1301.8L835.4 1302.6L834.8 1306.9L834.2 1298.9L833.6 1297.8L833 1304.1L832.4 1302.6L831.8 1301.1L831.2 1298.1L830.6 1292L830 1300.7L829.4 1293.2L828.8 1292.5L828.2 1294.8L827.6 1293.5L827 1292.3L826.4 1291L825.8 1289.6L825.2 1297L824.6 1293.9L824 1300.8L823.4 1295.2L822.8 1297.6L822.2 1292.3L821.6 1299.2L821 1296.9L820.4 1299.9L819.8 1295.4L819.2 1292.9L818.6 1293.6L818 1301.9L817.4 1297.9L816.8 1299.6L816.2 1307L815.6 1301.1L815 1305.5L814.4 1301.5L813.8 1299.5L813.2 1305.9L812.6 1298.9L812 1305.7L811.4 1302.3L810.8 1297.5L810.2 1300.8L809.6 1302.2L809 1305.9L808.4 1298.8L807.8 1300.3L807.2 1302.2L806.6 1300L806 1300.5L805.4 1304L804.8 1307.9L804.2 1307.3L803.6 1302.1L803 1307.4L802.4 1301.5L801.8 1305.6L801.2 1304.9L800.6 1305.6L800 1304.7L799.4 1306.7L798.8 1300.7L798.2 1305.1L797.6 1308.5L797 1306.5L796.4 1308.4L795.8 1300.9L795.2 1300.9L794.6 1298.1L794 1302L793.4 1305.4L792.8 1305.8L792.2 1306L791.6 1299.5L791 1306.2L790.4 1304.7L789.8 1305.3L789.2 1302.4L788.6 1296.7L788 1295L787.4 1295.2L786.8 1301.2L786.2 1295.9L785.6 1298.3L785 1302.2L784.4 1303.7L783.8 1299.7L783.2 1307.5L782.6 1301.9L782 1303.6L781.4 1306.8L780.8 1311.8L780.2 1306.5L779.6 1309.4L779 1308.9L778.4 1310.4L777.8 1314.8L777.2 1313.2L776.6 1311.7L776 1312.2L775.4 1316L774.8 1311.9L774.2 1313L773.6 1314.8L773 1320.1L772.4 1316.5L771.8 1318.9L771.2 1318.6L770.6 1311.6L770 1319.8L769.4 1314L768.8 1316.1L768.2 1319.2L767.6 1313L767 1313.8L766.4 1315.2L765.8 1314.8L765.2 1316.8L764.6 1313.2L764 1316.2L763.4 1319.5L762.8 1318.3L762.2 1316.6L761.6 1321.2L761 1320.6L760.4 1325.3L759.8 1319.3L759.2 1328.4L758.6 1325.9L758 1332L757.4 1328.4L756.8 1326.3L756.2 1327.3L755.6 1331.6L755 1329L754.4 1329.7L753.8 1326.4L753.2 1328.7L752.6 1329.1L752 1325.9L751.4 1328.7L750.8 1326.5L750.2 1331.4L749.6 1333L749 1327L748.4 1334.1L747.8 1328.6L747.2 1334.8L746.6 1337.5L746 1332.6L745.4 1337.2L744.8 1335.2L744.2 1331.6L743.6 1335.9L743 1334.1L742.4 1329.5L741.8 1332.7L741.2 1335.7L740.6 1335.1L740 1329.9L739.4 1339.6L738.8 1338.6L738.2 1337.2L737.6 1339.8L737 1340.2L736.4 1339.8L735.8 1337.9L735.2 1334.5L734.6 1338.1L734 1337.6L733.4 1337.8L732.8 1336.9L732.2 1335.8L731.6 1339.3L731 1340.6L730.4 1333.2L729.8 1335.8L729.2 1331L728.6 1338.4L728 1335.5L727.4 1334.8L726.8 1334.3L726.2 1328.7L725.6 1329.6L725 1333L724.4 1332.9L723.8 1331.6L723.2 1332.9L722.6 1329.5L722 1331.4L721.4 1337.7L720.8 1328.7L720.2 1334.9L719.6 1331.7L719 1337.9L718.4 1332.4L717.8 1335.3L717.2 1337.3L716.6 1338.5L716 1332.1L715.4 1335.7L714.8 1339.2L714.2 1339.8L713.6 1334.9L713 1338.7L712.4 1335.1L711.8 1338.6L711.2 1339.5L710.6 1335.7L710 1335.1L709.4 1338L708.8 1332L708.2 1334.1L707.6 1333.2L707 1329.6L706.4 1333.1L705.8 1330.6L705.2 1328.1L704.6 1337.9L704 1333.4L703.4 1336.1L702.8 1331.2L702.2 1340.2L701.6 1338.6L701 1335.9L700.4 1338.4L699.8 1340.6L699.2 1333.9L698.6 1333.4L698 1337.7L697.4 1337.5L696.8 1335.8L696.2 1337.8L695.6 1339.5L695 1342.3L694.4 1332.4L693.8 1337.3L693.2 1335.4L692.6 1341L692 1338.4L691.4 1333.5L690.8 1333.3L690.2 1335.4L689.6 1331.3L689 1338.6L688.4 1331.1L687.8 1334.2L687.2 1331.2L686.6 1330.4L686 1332.1L685.4 1333.7L684.8 1341L684.2 1339.6L683.6 1339.4L683 1339.2L682.4 1337.5L681.8 1341.9L681.2 1341.5L680.6 1345.8L680 1344.5L679.4 1343L678.8 1346.8L678.2 1342.7L677.6 1348.2L677 1345.6L676.4 1340.1L675.8 1339.7L675.2 1338.6L674.6 1342L674 1341.3L673.4 1332.9L672.8 1339.4L672.2 1332L671.6 1333.6L671 1339.2L670.4 1335.2L669.8 1339.5L669.2 1336.6L668.6 1336.4L668 1332.9L667.4 1335.8L666.8 1335.2L666.2 1333.7L665.6 1329.1L665 1328.9L664.4 1333.2L663.8 1326.1L663.2 1329.7L662.6 1329.2L662 1331.5L661.4 1329.8L660.8 1332.4L660.2 1331.8L659.6 1335L659 1332L658.4 1337.5L657.8 1337.6L657.2 1341L656.6 1339L656 1338.3L655.4 1333L654.8 1339.9L654.2 1337.4L653.6 1336.4L653 1340.3L652.4 1335.1L651.8 1330.9L651.2 1330L650.6 1337.5L650 1335.6L649.4 1333.9L648.8 1337.9L648.2 1333L647.6 1338L647 1330.7L646.4 1331.1L645.8 1335L645.2 1331L644.6 1331.5L644 1331.5L643.4 1329.8L642.8 1331.8L642.2 1329.9L641.6 1335.3L641 1334L640.4 1331.7L639.8 1335.7L639.2 1337.8L638.6 1335.4L638 1335.6L637.4 1340L636.8 1334.3L636.2 1337.7L635.6 1338.2L635 1338.3L634.4 1335.1L633.8 1330.4L633.2 1333.4L632.6 1332.8L632 1338.5L631.4 1341.5L630.8 1337.4L630.2 1340.2L629.6 1333.4L629 1335.2L628.4 1334.5L627.8 1336L627.2 1337.2L626.6 1337.2L626 1333.4L625.4 1338.2L624.8 1336.9L624.2 1328.4L623.6 1333.7L623 1332.2L622.4 1332.5L621.8 1335.2L621.2 1331.6L620.6 1334L620 1337.2L619.4 1337.2L618.8 1332.3L618.2 1337.3L617.6 1332.9L617 1336.7L616.4 1337.8L615.8 1339.3L615.2 1340.4L614.6 1337.9L614 1336.7L613.4 1332.4L612.8 1335.7L612.2 1336.5L611.6 1333.2L611 1330.4L610.4 1327.6L609.8 1328.5L609.2 1331.5L608.6 1334.6L608 1332.6L607.4 1337.7L606.8 1336L606.2 1335.6L605.6 1340L605 1340.2L604.4 1339.4L603.8 1334.6L603.2 1341.4L602.6 1343L602 1340.9L601.4 1341.8L600.8 1336.5L600.2 1334.9L599.6 1337.7L599 1334.6L598.4 1340.3L597.8 1337.2L597.2 1338.8L596.6 1333.4L596 1340.1L595.4 1340.5L594.8 1341.9L594.2 1339.7L593.6 1340.7L593 1340.6L592.4 1339.2L591.8 1335.1L591.2 1340.6L590.6 1340.8L590 1341.2L589.4 1334.2L588.8 1336.7L588.2 1336.4L587.6 1338.3L587 1338.5L586.4 1336.4L585.8 1333.4L585.2 1334.5L584.6 1329.4L584 1331.1L583.4 1335.1L582.8 1335.3L582.2 1336.9L581.6 1333.4L581 1336.3L580.4 1331.7L579.8 1331.8L579.2 1329.4L578.6 1333.3L578 1330.5L577.4 1331.1L576.8 1332.8L576.2 1334.2L575.6 1330.3L575 1332.2L574.4 1333.1L573.8 1332.6L573.2 1331.4L572.6 1329.9L572 1332.2Z" fill="#b0c4de" stroke="#b0c4de" stroke-width="0.6" stroke-linejoin="round"/>
<path d="M577 1314.8V1339.1M580.8 1316.8V1350.2M582 1315.7V1343.8M584.5 1316.5V1353.9M585.8 1313.5V1339M589.5 1318.2V1354.4M593.2 1321V1384M594.5 1321.3V1374M595.8 1320.9V1354.5M597 1319.2V1341.7M602 1321V1356.9M605.8 1320.2V1411.8M608.2 1317.1V1353.4M609.5 1314.8V1338.6M610.8 1314.9V1341.5M613.2 1316.4V1338M615.8 1319.9V1345.5M617 1317.6V1372.9M620.8 1317.5V1363.5M622 1317.8V1345M623.2 1315.2V1336.4M624.5 1315.3V1339.7M625.8 1317.2V1339.3M627 1316.8V1343.3M629.5 1318.6V1361.6M632 1320V1351.9M635.8 1320V1344.4M637 1318.2V1339.3M638.2 1319.3V1352.6M639.5 1320.1V1348.2M640.8 1316.4V1352.5M642 1317V1343.9M644.5 1316.8V1369.6M645.8 1318.5V1343.2M648.2 1318V1353.8M652 1318.1V1340.3M653.2 1319.3V1346.2M654.5 1321.1V1372.7M655.8 1320V1353.7M657 1319.9V1394M659.5 1318V1353.3M660.8 1316.7V1342.3M662 1315.1V1336.6M663.2 1313.8V1341.3M670.8 1318.2V1340.7M674.5 1320V1345.1M678.2 1327.8V1359M679.5 1327.1V1354.4M680.8 1325.2V1350.7M683.2 1320.2V1369.3M684.5 1319.1V1344.4M685.8 1318.1V1358.2M687 1316.9V1344.4M688.2 1316V1357.9M692 1320.1V1386M694.5 1318.9V1366M695.8 1322.2V1353.4M697 1317.3V1347.7M700.8 1317.6V1382.6M702 1318.7V1340.1M704.5 1316.9V1350M707 1315.8V1351.8M708.2 1317.7V1366.5M709.5 1318.2V1347.8M712 1318.2V1343.3M713.2 1319.1V1366.1M714.5 1318.1V1343.8M715.8 1318.3V1352M717 1318.1V1340.8M720.8 1314.8V1356.1M722 1315.4V1365.6M724.5 1314.6V1352M725.8 1314.5V1335.8M728.2 1316.8V1356.4M729.5 1317.5V1340.6M732 1319.1V1354.8M734.5 1318.8V1341.9M735.8 1318.3V1361.4M738.2 1320V1345.1M739.5 1317.5V1340.4M742 1314.4V1343.1M744.5 1315.9V1378.2M745.8 1315.9V1368.5M747 1315.4V1338M752 1309.5V1337M753.2 1306.6V1339.9M755.8 1308.5V1337.8M757 1309.2V1346.6M758.2 1308.1V1344.6M759.5 1303.7V1329.7M760.8 1300.7V1334.6M762 1296.4V1337M763.2 1296.8V1322M764.5 1296.6V1344.6M765.8 1296.7V1322.2M768.2 1294.3V1328M769.5 1293.7V1339.2M773.2 1293.9V1331.7M775.8 1291.4V1332.5M778.2 1288.5V1315.1M779.5 1286.3V1313.1M780.8 1285.1V1314.5M782 1282.4V1341.8M784.5 1276.1V1305.2M785.8 1275.3V1317M788.2 1276.3V1314.5M792 1280.2V1307.5M794.5 1277.9V1305.4M798.2 1280.9V1308.9M802 1281.3V1337.1M803.2 1280.3V1313.3M804.5 1280.6V1317.3M807 1278.2V1334.8M808.2 1279V1311.2M810.8 1277.5V1312.5M812 1279.4V1306.5M813.2 1278.6V1310M814.5 1281V1319M817 1278.1V1317.6M820.8 1273.6V1316.4M822 1272V1305.3M823.2 1271.8V1312.1M825.8 1269.9V1310.9M829.5 1271.6V1299.5M830.8 1273.3V1301.5M832 1275.4V1310.8M833.2 1278.7V1328.5M834.5 1278.2V1313.2M835.8 1279.4V1313.8M837 1279.2V1306.5M839.5 1277.2V1309M842 1273.9V1313M844.5 1275.2V1310.8M845.8 1275.3V1306.7M847 1275.3V1317.6M849.5 1276.4V1316.6M850.8 1275V1322.5M852 1276.7V1309.3M855.8 1280.6V1315.7M857 1277.9V1362M858.2 1279.2V1318.2M859.5 1279.3V1307.8M860.8 1277.7V1305.6M862 1278.3V1377.7M863.2 1279.7V1308.3M867 1275.7V1327M869.5 1274.4V1304.5M870.8 1276.9V1318.6M872 1277.2V1325.4M873.2 1276.5V1309.6M875.8 1272.6V1334.3M877 1272.6V1302.3M878.2 1276.4V1312.3M879.5 1278.1V1312.5M880.8 1277.7V1309.7M882 1276V1304.8M884.5 1273.4V1337M885.8 1274V1316.8M888.2 1277.4V1306.5M889.5 1276.9V1347.8M890.8 1276V1313.5M897 1276.4V1316.8M898.2 1277.5V1309.9M900.8 1275.8V1314.8M904.5 1275.6V1317.6M905.8 1277.5V1307.9M907 1275.6V1312M908.2 1275V1331.7M909.5 1273.4V1315.4M910.8 1270.8V1332.3M912 1269.7V1319.1M913.2 1270.8V1303.1M914.5 1270.8V1310.9M915.8 1273.3V1305.5M918.2 1276.2V1308.9M920.8 1275.7V1331.6M922 1273.8V1330.9M924.5 1274.8V1313.7M928.2 1277.8V1310M929.5 1276.5V1326.4M932 1280V1309.9M933.2 1279.3V1320.9M934.5 1280.4V1316.9M938.2 1278.1V1324.5M940.8 1272.6V1313.4M942 1272.9V1327.5M944.5 1276.5V1315M945.8 1279.5V1330.5M952 1271.6V1314.9M953.2 1274.9V1302.6M954.5 1276.8V1309.9M957 1276.4V1308M962 1278.3V1318.1M965.8 1270.2V1299.6M968.2 1269.1V1311.1M972 1274.6V1307.4M973.2 1275.5V1316M975.8 1277.4V1315.2M978.2 1277.2V1332.7M979.5 1277V1315.1M983.2 1275V1306M984.5 1273.1V1308.4M985.8 1273.8V1327.4M987 1274.9V1330.5M988.2 1272.8V1312.5M989.5 1272.8V1309.2M990.8 1272.1V1311.2M992 1272.7V1318.7M993.2 1273.9V1304.3M994.5 1275.1V1316.9M995.8 1275.7V1324M997 1275.4V1313.7M1000.8 1273.4V1307M1003.2 1269.8V1306.3M1004.5 1271.6V1321M1007 1272.8V1312.7M1008.2 1271.7V1304.5M1009.5 1274.3V1319M1010.8 1275.8V1335M1014.5 1271.6V1331.9M1015.8 1270V1298.6M1018.2 1270.1V1301.5M1020.8 1274.2V1310.2M1023.2 1273.4V1309.6M1024.5 1272.6V1325.9M1025.8 1272.1V1305.3M1028.2 1270.3V1312.2M1029.5 1271.5V1302.8M1030.8 1271.4V1349M1032 1272.2V1329.9M1034.5 1273.6V1301.3M1038.2 1269.8V1303.5M1042 1270.9V1316.1M1044.5 1275.3V1310.8M1045.8 1277.1V1316.8M1047 1273.7V1302.5M1048.2 1271.7V1323.7M1052 1269.7V1316.4M1055.8 1268.3V1308.3M1057 1268.3V1295.9M1058.2 1268.1V1297.5M1059.5 1265.9V1299.1M1062 1262V1300.4M1063.2 1264.6V1321.6M1064.5 1267.8V1304.4M1065.8 1272.2V1301.2M1067 1272.4V1300.8M1070.8 1270.7V1304.9M1073.2 1273.8V1315.9M1074.5 1273.9V1315.1M1075.8 1272.8V1320.7M1077 1272.1V1314.4M1079.5 1272.9V1310.8M1083.2 1271.9V1304.5M1087 1276.2V1311M1089.5 1275.5V1313.3M1090.8 1272.3V1363.2M1093.2 1272.2V1302.8M1094.5 1271.7V1313.9M1095.8 1273.9V1305.4M1097 1273.8V1309.7M1098.2 1271.8V1301.6M1103.2 1271.3V1337.8M1105.8 1268.5V1302.8M1108.2 1266.2V1301.7M1109.5 1265.1V1293.7M1110.8 1269.3V1321.2M1112 1270.2V1367.6M1113.2 1270V1298.4M1114.5 1269.9V1322M1115.8 1269.7V1352.7M1119.5 1272.7V1301.9M1120.8 1274.6V1306.4M1123.2 1274.6V1304.6M1124.5 1273.5V1308.2M1128.2 1270.6V1333.4M1129.5 1269.5V1312.1M1132 1269.8V1323.5M1133.2 1268.8V1306.1M1134.5 1270.4V1298.6M1135.8 1272.4V1318.9M1138.2 1272.8V1303M1139.5 1274.4V1338.9M1140.8 1272.4V1301.3M1143.2 1272V1306.7M1144.5 1272.7V1312M1145.8 1272.5V1301.1M1147 1273V1353.9M1148.2 1272.1V1318.8M1149.5 1269.1V1300M1150.8 1266.6V1307.6M1158.2 1269.3V1302.9M1163.2 1270.4V1310.2M1164.5 1269.2V1310.7M1167 1271.9V1310.5M1168.2 1272V1321.9M1169.5 1272.3V1303.5M1170.8 1268.6V1299M1172 1265.6V1296.5M1173.2 1267.8V1326M1175.8 1272.6V1312.5M1177 1274.1V1321.3M1178.2 1272.6V1301.9M1180.8 1269.7V1302.8M1183.2 1270.5V1299.4M1184.5 1271V1323M1185.8 1269.2V1307.8M1188.2 1269.6V1307.3M1189.5 1270.1V1301.6M1190.8 1273.2V1310.5M1193.2 1273.8V1330.3M1195.8 1273.7V1320.4M1198.2 1271.8V1308M1199.5 1268.6V1299.1M1200.8 1267.4V1307.3M1202 1268.6V1298.8M1204.5 1271.9V1304.7M1205.8 1274.1V1322.2M1209.5 1268V1322.5M1210.8 1266.6V1308.3M1213.2 1267.2V1300.8M1214.5 1268.5V1375.4M1217 1271.9V1334.3M1218.2 1273.3V1302.1M1219.5 1272.5V1303.8" stroke="#b0c4de" stroke-width="1.7" fill="none"/>
<path d="M734.4 1231.4V1400.8M783 1231.4V1400.8" stroke="#000" stroke-width="4" stroke-dasharray="10.9 11.8" fill="none"/>
<path d="M734.6 1328.3L784.2 1294.6" stroke="#f00" stroke-width="3.5" fill="none"/>
</g>
<rect x="572.5" y="1240.4" width="647.8" height="160.4" fill="none" stroke="#000" stroke-width="2.1"/>
<path d="M734.4 1400.8v-7.7M734.4 1240.4v7.7M896.4 1400.8v-7.7M896.4 1240.4v7.7M1058.4 1400.8v-7.7M1058.4 1240.4v7.7M572.5 1267h7.7M1220.3 1267h-7.7M572.5 1320.8h7.7M1220.3 1320.8h-7.7M572.5 1374.4h7.7M1220.3 1374.4h-7.7" stroke="#000" stroke-width="2.1" fill="none"/>
<text x="565.3" y="1276.6" text-anchor="end" font-size="33.6" fill="#000">20</text>
<text x="565.3" y="1332.2" text-anchor="end" font-size="33.6" fill="#000">10</text>
<text x="565.3" y="1388" text-anchor="end" font-size="33.6" fill="#000">0</text>
<text x="573.5" y="1439" text-anchor="middle" font-size="33.6" fill="#000">5</text>
<text x="734" y="1439" text-anchor="middle" font-size="33.6" fill="#000">0</text>
<text x="896.5" y="1439" text-anchor="middle" font-size="33.6" fill="#000">5</text>
<text x="1058" y="1439" text-anchor="middle" font-size="33.6" fill="#000">10</text>
<text x="1220" y="1439" text-anchor="middle" font-size="33.6" fill="#000">15</text>
<text x="895" y="1482" text-anchor="middle" font-size="33.6" fill="#000">Time (µs)</text>
<text x="859.3" y="1384.8" text-anchor="start" font-size="25" fill="#f00">τ = 0.24 µs</text>
<text transform="translate(469.3 1355) rotate(-90)" font-size="29.5">Log<tspan font-size="21" dy="8" dx="1" font-style="italic">e</tspan></text>
<text transform="translate(504 1368.6) rotate(-90)" font-size="29.3">(VHF<tspan font-size="21" dy="-11">2</tspan><tspan dy="11">)</tspan></text>
<text x="444" y="1250" text-anchor="start" font-size="42" fill="#000" font-weight="bold">e</text>
</g>
</svg>
</body></html>
